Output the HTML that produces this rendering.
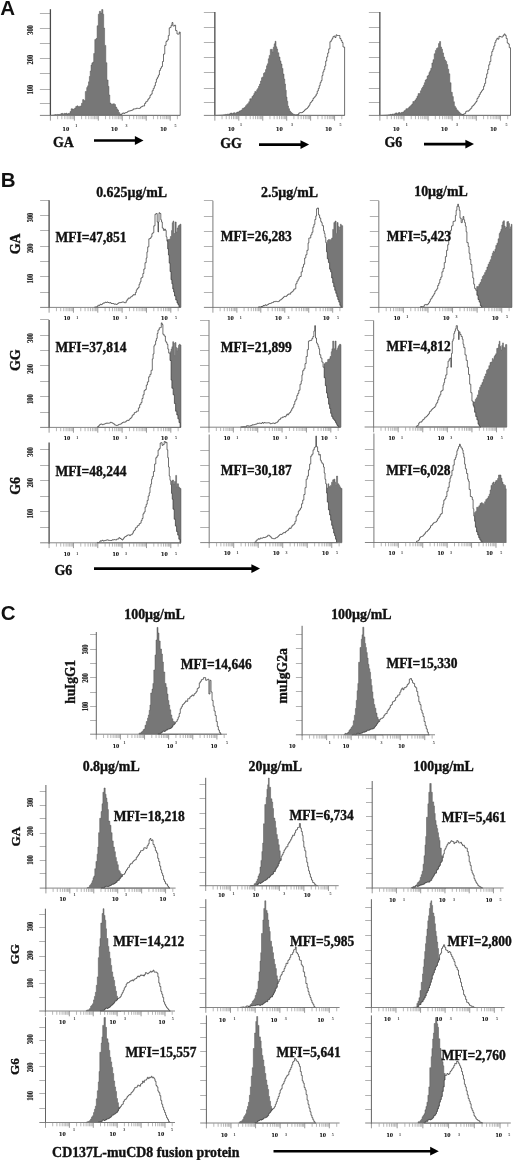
<!DOCTYPE html>
<html><head><meta charset="utf-8"><style>
html,body{margin:0;padding:0;background:#fff;}
svg{display:block;}
text{font-family:"Liberation Serif",serif;font-weight:bold;fill:#111;}
.big,.lb,.hd{stroke:#111;stroke-width:0.35px;}
.xl{font-size:6.6px;text-anchor:middle;fill:#111;stroke:#111;stroke-width:0.12px;}
.xs{font-size:4px;text-anchor:middle;fill:#333;}
.yl{font-size:6.4px;text-anchor:middle;fill:#222;stroke:#222;stroke-width:0.15px;}
.big{font-size:13.5px;}
.lb{font-size:13.9px;}
.hd{font-size:13.9px;text-anchor:middle;}
.lt{font-family:"Liberation Sans",sans-serif;font-size:20.5px;}
</style></head><body>
<svg width="520" height="1160" viewBox="0 0 520 1160">
<path d="M119,115.4 L119,115.01 L119.97,115.01 L119.97,115.08 L120.94,115.08 L120.94,114.72 L121.91,114.72 L121.91,113.36 L122.89,113.36 L122.89,112.98 L123.86,112.98 L123.86,113.5 L124.83,113.5 L124.83,112.7 L125.8,112.7 L125.8,112.59 L126.85,112.59 L126.85,112.08 L127.9,112.08 L127.9,111.15 L128.95,111.15 L128.95,111 L130,111 L130,110.78 L131.08,110.78 L131.08,110.4 L132.17,110.4 L132.17,109.98 L133.25,109.98 L133.25,108.92 L134.33,108.92 L134.33,108.97 L135.42,108.97 L135.42,108.7 L136.5,108.7 L136.5,108.18 L137.51,108.18 L137.51,108.4 L138.53,108.4 L138.53,108.54 L139.54,108.54 L139.54,108.14 L140.55,108.14 L140.55,107.09 L141.56,107.09 L141.56,106.58 L142.57,106.58 L142.58,105.92 L143.59,105.92 L143.59,106 L144.6,106 L144.6,103.5 L145.68,103.5 L145.68,101.84 L146.76,101.84 L146.76,101.13 L147.84,101.13 L147.84,99.2 L148.92,99.2 L148.92,98 L150,98 L150,95.27 L151.08,95.27 L151.08,94.09 L152.16,94.09 L152.16,90.75 L153.24,90.75 L153.24,88.4 L154.32,88.4 L154.32,85.8 L155.4,85.8 L155.4,82.35 L156.4,82.35 L156.4,79 L157.4,79 L157.4,77.17 L158.4,77.17 L158.4,75 L159.4,75 L159.4,70.46 L160.43,70.46 L160.42,68.28 L161.45,68.28 L161.45,66.57 L162.47,66.57 L162.47,61.5 L163.5,61.5 L163.5,54.1 L164.75,54.1 L164.75,45.4 L166,45.4 L166,41.44 L167.15,41.44 L167.15,40 L168.3,40 L168.3,35.58 L169.25,35.58 L169.25,27.9 L170.2,27.9 L170.2,27.38 L171.1,27.38 L171.1,25.32 L172,25.32 L172,22.5 L172.9,22.5 L172.9,26.02 L173.7,26.02 L173.7,26 L174.5,26 L174.5,25.2 L175.6,25.2 L175.6,30.6 L177,30.6 L177,34 L178.3,34 L178.3,34.1 L179.25,34.1 L179.25,32 L180.2,32 L180.2,115.4 L180.2,115.4 L119,115.4 Z" fill="#fff" stroke="#333" stroke-width="0.7"/>
<path d="M50.4,115.4 L50.4,115.29 L51.36,115.29 L51.36,115.18 L52.33,115.18 L52.33,115.07 L53.29,115.07 L53.29,114.96 L54.25,114.96 L54.25,114.85 L55.22,114.85 L55.22,114.51 L56.18,114.51 L56.18,114.68 L57.15,114.68 L57.15,114.41 L58.11,114.41 L58.11,114.52 L59.07,114.52 L59.07,114.43 L60.04,114.43 L60.04,114.2 L61,114.2 L61,113.62 L62,113.62 L62,113.42 L63,113.42 L63,114.14 L64,114.14 L64,113.38 L65,113.38 L65,113.5 L66,113.5 L66,113.21 L67,113.21 L67,114.04 L68,114.04 L68,113.47 L69,113.47 L69,113.5 L70,113.5 L70,111.6 L71.15,111.6 L71.15,108.8 L72.3,108.8 L72.3,109.01 L73.45,109.01 L73.45,109.3 L74.6,109.3 L74.6,108.12 L75.75,108.12 L75.75,106.5 L76.9,106.5 L76.9,105.82 L77.82,105.82 L77.82,106.53 L78.74,106.53 L78.74,106.82 L79.66,106.82 L79.66,106.14 L80.58,106.14 L80.58,106 L81.5,106 L81.5,103.25 L82.65,103.25 L82.65,99.6 L83.8,99.6 L83.8,100.54 L84.55,100.54 L84.55,100.8 L85.3,100.8 L85.3,91.5 L86.7,91.5 L86.7,87.58 L87.6,87.58 L87.6,85.8 L88.5,85.8 L88.5,81.85 L89.35,81.85 L89.35,76.5 L90.2,76.5 L90.2,71.02 L91.05,71.02 L91.05,65 L91.9,65 L91.9,62.92 L92.8,62.92 L92.8,62.1 L93.7,62.1 L93.7,53.5 L94.8,53.5 L94.8,39.6 L96,39.6 L96,38.5 L97.1,38.5 L97.1,25.8 L98.3,25.8 L98.3,14.2 L99.4,14.2 L99.4,11.3 L100.6,11.3 L100.6,13.1 L101.7,13.1 L101.7,9.6 L102.9,9.6 L102.9,14.2 L103.7,14.2 L103.7,28.1 L104.6,28.1 L104.6,45.4 L105.8,45.4 L105.8,62.7 L106.9,62.7 L106.9,80 L108.1,80 L108.1,86.33 L108.95,86.33 L108.95,95 L109.8,95 L109.8,103.1 L111,103.1 L111,104.32 L111.85,104.32 L111.85,104.2 L112.7,104.2 L112.7,103.9 L113.55,103.9 L113.55,103.7 L114.4,103.7 L114.4,104.5 L115.5,104.5 L115.5,107.1 L116.7,107.1 L116.7,108.89 L117.6,108.89 L117.6,110 L118.5,110 L118.5,112.48 L119.65,112.48 L119.65,114 L120.8,114 L120.8,115.4 L122,115.4 L122,115.4 L50.4,115.4 Z" fill="#777777" stroke="#555" stroke-width="0.5"/>
<line x1="39.9" y1="13.5" x2="50.4" y2="13.5" stroke="#a8a8a8" stroke-width="0.9"/>
<line x1="39.9" y1="28.5" x2="50.4" y2="28.5" stroke="#a8a8a8" stroke-width="0.9"/>
<line x1="39.9" y1="43.5" x2="50.4" y2="43.5" stroke="#a8a8a8" stroke-width="0.9"/>
<line x1="39.9" y1="58.5" x2="50.4" y2="58.5" stroke="#a8a8a8" stroke-width="0.9"/>
<line x1="39.9" y1="73.5" x2="50.4" y2="73.5" stroke="#a8a8a8" stroke-width="0.9"/>
<line x1="39.9" y1="89.5" x2="50.4" y2="89.5" stroke="#a8a8a8" stroke-width="0.9"/>
<line x1="39.9" y1="103.5" x2="50.4" y2="103.5" stroke="#a8a8a8" stroke-width="0.9"/>
<line x1="50.4" y1="115.4" x2="50.4" y2="120.7" stroke="#777" stroke-width="0.75"/>
<line x1="74.36" y1="115.4" x2="74.36" y2="120.7" stroke="#777" stroke-width="0.75"/>
<line x1="98.31" y1="115.4" x2="98.31" y2="120.7" stroke="#777" stroke-width="0.75"/>
<line x1="122.27" y1="115.4" x2="122.27" y2="120.7" stroke="#777" stroke-width="0.75"/>
<line x1="146.23" y1="115.4" x2="146.23" y2="120.7" stroke="#777" stroke-width="0.75"/>
<line x1="170.19" y1="115.4" x2="170.19" y2="120.7" stroke="#777" stroke-width="0.75"/>
<line x1="57.61" y1="115.8" x2="57.61" y2="119.2" stroke="#888" stroke-width="0.6"/>
<line x1="61.83" y1="115.8" x2="61.83" y2="119.2" stroke="#888" stroke-width="0.6"/>
<line x1="64.82" y1="115.8" x2="64.82" y2="119.2" stroke="#888" stroke-width="0.6"/>
<line x1="67.15" y1="115.8" x2="67.15" y2="119.2" stroke="#888" stroke-width="0.6"/>
<line x1="69.04" y1="115.8" x2="69.04" y2="119.2" stroke="#888" stroke-width="0.6"/>
<line x1="70.65" y1="115.8" x2="70.65" y2="119.2" stroke="#888" stroke-width="0.6"/>
<line x1="72.04" y1="115.8" x2="72.04" y2="119.2" stroke="#888" stroke-width="0.6"/>
<line x1="73.26" y1="115.8" x2="73.26" y2="119.2" stroke="#888" stroke-width="0.6"/>
<line x1="81.57" y1="115.8" x2="81.57" y2="119.2" stroke="#888" stroke-width="0.6"/>
<line x1="85.79" y1="115.8" x2="85.79" y2="119.2" stroke="#888" stroke-width="0.6"/>
<line x1="88.78" y1="115.8" x2="88.78" y2="119.2" stroke="#888" stroke-width="0.6"/>
<line x1="91.1" y1="115.8" x2="91.1" y2="119.2" stroke="#888" stroke-width="0.6"/>
<line x1="93" y1="115.8" x2="93" y2="119.2" stroke="#888" stroke-width="0.6"/>
<line x1="94.6" y1="115.8" x2="94.6" y2="119.2" stroke="#888" stroke-width="0.6"/>
<line x1="95.99" y1="115.8" x2="95.99" y2="119.2" stroke="#888" stroke-width="0.6"/>
<line x1="97.22" y1="115.8" x2="97.22" y2="119.2" stroke="#888" stroke-width="0.6"/>
<line x1="105.53" y1="115.8" x2="105.53" y2="119.2" stroke="#888" stroke-width="0.6"/>
<line x1="109.74" y1="115.8" x2="109.74" y2="119.2" stroke="#888" stroke-width="0.6"/>
<line x1="112.74" y1="115.8" x2="112.74" y2="119.2" stroke="#888" stroke-width="0.6"/>
<line x1="115.06" y1="115.8" x2="115.06" y2="119.2" stroke="#888" stroke-width="0.6"/>
<line x1="116.96" y1="115.8" x2="116.96" y2="119.2" stroke="#888" stroke-width="0.6"/>
<line x1="118.56" y1="115.8" x2="118.56" y2="119.2" stroke="#888" stroke-width="0.6"/>
<line x1="119.95" y1="115.8" x2="119.95" y2="119.2" stroke="#888" stroke-width="0.6"/>
<line x1="121.18" y1="115.8" x2="121.18" y2="119.2" stroke="#888" stroke-width="0.6"/>
<line x1="129.48" y1="115.8" x2="129.48" y2="119.2" stroke="#888" stroke-width="0.6"/>
<line x1="133.7" y1="115.8" x2="133.7" y2="119.2" stroke="#888" stroke-width="0.6"/>
<line x1="136.7" y1="115.8" x2="136.7" y2="119.2" stroke="#888" stroke-width="0.6"/>
<line x1="139.02" y1="115.8" x2="139.02" y2="119.2" stroke="#888" stroke-width="0.6"/>
<line x1="140.91" y1="115.8" x2="140.91" y2="119.2" stroke="#888" stroke-width="0.6"/>
<line x1="142.52" y1="115.8" x2="142.52" y2="119.2" stroke="#888" stroke-width="0.6"/>
<line x1="143.91" y1="115.8" x2="143.91" y2="119.2" stroke="#888" stroke-width="0.6"/>
<line x1="145.13" y1="115.8" x2="145.13" y2="119.2" stroke="#888" stroke-width="0.6"/>
<line x1="153.44" y1="115.8" x2="153.44" y2="119.2" stroke="#888" stroke-width="0.6"/>
<line x1="157.66" y1="115.8" x2="157.66" y2="119.2" stroke="#888" stroke-width="0.6"/>
<line x1="160.65" y1="115.8" x2="160.65" y2="119.2" stroke="#888" stroke-width="0.6"/>
<line x1="162.97" y1="115.8" x2="162.97" y2="119.2" stroke="#888" stroke-width="0.6"/>
<line x1="164.87" y1="115.8" x2="164.87" y2="119.2" stroke="#888" stroke-width="0.6"/>
<line x1="166.47" y1="115.8" x2="166.47" y2="119.2" stroke="#888" stroke-width="0.6"/>
<line x1="167.86" y1="115.8" x2="167.86" y2="119.2" stroke="#888" stroke-width="0.6"/>
<line x1="169.09" y1="115.8" x2="169.09" y2="119.2" stroke="#888" stroke-width="0.6"/>
<line x1="177.4" y1="115.8" x2="177.4" y2="119.2" stroke="#888" stroke-width="0.6"/>
<line x1="50.4" y1="9.2" x2="50.4" y2="116" stroke="#4a4a4a" stroke-width="1.3"/>
<line x1="39.9" y1="115.4" x2="180.2" y2="115.4" stroke="#777" stroke-width="0.9"/>
<text transform="translate(65.9,131) scale(1,1.0)" class="xl">10</text>
<text transform="translate(76.2,126.5) scale(1,1.15)" class="xs">1</text>
<text transform="translate(114.4,131) scale(1,1.0)" class="xl">10</text>
<text transform="translate(126.5,126.5) scale(1,1.15)" class="xs">3</text>
<text transform="translate(163.5,131) scale(1,1.0)" class="xl">10</text>
<text transform="translate(175.6,126.5) scale(1,1.15)" class="xs">5</text>
<text transform="translate(33,30) rotate(-90) scale(1,1.22)" class="yl">300</text>
<text transform="translate(33,59.6) rotate(-90) scale(1,1.22)" class="yl">200</text>
<text transform="translate(33,89.6) rotate(-90) scale(1,1.22)" class="yl">100</text>
<path d="M295.5,115.4 L295.5,114.95 L296.58,114.95 L296.58,114.96 L297.67,114.96 L297.67,114.54 L298.75,114.54 L298.75,113.08 L299.83,113.08 L299.83,112.64 L300.92,112.64 L300.92,112.7 L302,112.7 L302,112.38 L303,112.38 L303,111.48 L304,111.48 L304,110.61 L305,110.61 L305,109.26 L306,109.26 L306,108.96 L307,108.96 L307,108 L308,108 L308,106.69 L309,106.69 L309,105.15 L310,105.15 L310,102.82 L311,102.82 L311,101.86 L312,101.86 L312,100.5 L313,100.5 L313,98.36 L314.06,98.36 L314.06,97.22 L315.12,97.22 L315.12,95.99 L316.18,95.99 L316.18,94.02 L317.24,94.02 L317.24,91 L318.3,91 L318.3,88.54 L319.23,88.54 L319.22,85.7 L320.15,85.7 L320.15,82.62 L321.07,82.62 L321.07,80.7 L322,80.7 L322,75.61 L322.93,75.61 L322.93,71.86 L323.85,71.86 L323.85,69.56 L324.77,69.56 L324.77,66 L325.7,66 L325.7,61.03 L326.7,61.03 L326.7,56.9 L327.7,56.9 L327.7,53 L328.7,53 L328.7,48.86 L329.95,48.86 L329.95,41.7 L331.2,41.7 L331.2,40.14 L332.07,40.14 L332.07,38.61 L332.93,38.61 L332.93,36.7 L333.8,36.7 L333.8,36.02 L334.9,36.02 L334.9,37.5 L336,37.5 L336,34.89 L336.9,34.89 L336.9,35.45 L337.8,35.45 L337.8,35.5 L338.7,35.5 L338.7,35.52 L339.85,35.52 L339.85,38.5 L341,38.5 L341,40.54 L342,40.54 L342,42.5 L343,42.5 L343,47 L344.3,47 L344.3,47 L344.6,47 L344.6,115.4 L344.6,115.4 L295.5,115.4 Z" fill="#fff" stroke="#333" stroke-width="0.7"/>
<path d="M215.4,115.4 L215.4,115.34 L216.36,115.34 L216.36,115.28 L217.32,115.28 L217.32,115.22 L218.28,115.22 L218.28,115.16 L219.24,115.16 L219.24,115.1 L220.2,115.1 L220.2,115.04 L221.16,115.04 L221.16,114.98 L222.12,114.98 L222.12,114.92 L223.08,114.92 L223.08,114.86 L224.04,114.86 L224.04,114.8 L225,114.8 L225,114.39 L225.99,114.39 L225.99,114.49 L226.98,114.49 L226.98,114.15 L227.97,114.15 L227.97,114.2 L228.97,114.2 L228.97,114.06 L229.96,114.06 L229.96,113.29 L230.95,113.29 L230.95,113.05 L231.94,113.05 L231.94,113.77 L232.93,113.77 L232.93,112.95 L233.93,112.95 L233.93,112.74 L234.92,112.74 L234.92,113.45 L235.91,113.45 L235.91,112.7 L236.9,112.7 L236.9,112.12 L237.98,112.12 L237.98,112.06 L239.06,112.06 L239.06,111.05 L240.14,111.05 L240.14,110.73 L241.22,110.73 L241.22,110 L242.3,110 L242.3,108.39 L243.38,108.39 L243.38,108.05 L244.46,108.05 L244.46,107.37 L245.54,107.37 L245.54,105.72 L246.62,105.72 L246.62,104.6 L247.7,104.6 L247.7,103.43 L248.76,103.43 L248.76,101.69 L249.82,101.69 L249.82,98.86 L250.88,98.86 L250.88,98.66 L251.94,98.66 L251.94,96.5 L253,96.5 L253,95.37 L253.92,95.37 L253.92,93.38 L254.83,93.38 L254.83,91.42 L255.75,91.42 L255.75,92.03 L256.67,92.03 L256.67,89.77 L257.58,89.77 L257.58,88.5 L258.5,88.5 L258.5,86.36 L259.5,86.36 L259.5,84.1 L260.5,84.1 L260.5,80.98 L261.5,80.98 L261.5,77.7 L262.5,77.7 L262.5,76.88 L263.5,76.88 L263.5,73.34 L264.5,73.34 L264.5,72.52 L265.5,72.52 L265.5,69.6 L266.5,69.6 L266.5,65.83 L267.4,65.83 L267.4,63.8 L268.3,63.8 L268.3,58.8 L269.2,58.8 L269.2,55.39 L270.3,55.39 L270.3,49.4 L271.4,49.4 L271.4,49.3 L272.35,49.3 L272.35,52 L273.3,52 L273.3,47.15 L274.2,47.15 L274.2,43.85 L275.1,43.85 L275.1,41.3 L276,41.3 L276,46.83 L276.8,46.83 L276.8,49 L277.6,49 L277.6,52.78 L278.8,52.78 L278.8,57 L280,57 L280,60.91 L281,60.91 L281,64 L282,64 L282,68.4 L283,68.4 L283,74 L284,74 L284,79.02 L284.75,79.02 L284.75,84 L285.5,84 L285.5,90.23 L286.25,90.23 L286.25,97 L287,97 L287,101.21 L287.75,101.21 L287.75,106 L288.5,106 L288.5,108.63 L289.5,108.63 L289.5,111 L290.5,111 L290.5,112.35 L291.75,112.35 L291.75,113.5 L293,113.5 L293,114.3 L294,114.3 L294,114.43 L295,114.43 L295,115.02 L296,115.02 L296,115 L297,115 L297,115.2 L298,115.2 L298,115.4 L299,115.4 L299,115.4 L215.4,115.4 Z" fill="#777777" stroke="#555" stroke-width="0.5"/>
<line x1="203.85" y1="12.5" x2="214.85" y2="12.5" stroke="#a8a8a8" stroke-width="0.9"/>
<line x1="203.85" y1="27.5" x2="214.85" y2="27.5" stroke="#a8a8a8" stroke-width="0.9"/>
<line x1="203.85" y1="42.5" x2="214.85" y2="42.5" stroke="#a8a8a8" stroke-width="0.9"/>
<line x1="203.85" y1="57.5" x2="214.85" y2="57.5" stroke="#a8a8a8" stroke-width="0.9"/>
<line x1="203.85" y1="72.5" x2="214.85" y2="72.5" stroke="#a8a8a8" stroke-width="0.9"/>
<line x1="203.85" y1="88.5" x2="214.85" y2="88.5" stroke="#a8a8a8" stroke-width="0.9"/>
<line x1="203.85" y1="102.5" x2="214.85" y2="102.5" stroke="#a8a8a8" stroke-width="0.9"/>
<line x1="214.85" y1="115.4" x2="214.85" y2="120.7" stroke="#777" stroke-width="0.75"/>
<line x1="238.8" y1="115.4" x2="238.8" y2="120.7" stroke="#777" stroke-width="0.75"/>
<line x1="262.75" y1="115.4" x2="262.75" y2="120.7" stroke="#777" stroke-width="0.75"/>
<line x1="286.69" y1="115.4" x2="286.69" y2="120.7" stroke="#777" stroke-width="0.75"/>
<line x1="310.64" y1="115.4" x2="310.64" y2="120.7" stroke="#777" stroke-width="0.75"/>
<line x1="334.59" y1="115.4" x2="334.59" y2="120.7" stroke="#777" stroke-width="0.75"/>
<line x1="222.06" y1="115.8" x2="222.06" y2="119.2" stroke="#888" stroke-width="0.6"/>
<line x1="226.28" y1="115.8" x2="226.28" y2="119.2" stroke="#888" stroke-width="0.6"/>
<line x1="229.27" y1="115.8" x2="229.27" y2="119.2" stroke="#888" stroke-width="0.6"/>
<line x1="231.59" y1="115.8" x2="231.59" y2="119.2" stroke="#888" stroke-width="0.6"/>
<line x1="233.49" y1="115.8" x2="233.49" y2="119.2" stroke="#888" stroke-width="0.6"/>
<line x1="235.09" y1="115.8" x2="235.09" y2="119.2" stroke="#888" stroke-width="0.6"/>
<line x1="236.48" y1="115.8" x2="236.48" y2="119.2" stroke="#888" stroke-width="0.6"/>
<line x1="237.7" y1="115.8" x2="237.7" y2="119.2" stroke="#888" stroke-width="0.6"/>
<line x1="246.01" y1="115.8" x2="246.01" y2="119.2" stroke="#888" stroke-width="0.6"/>
<line x1="250.22" y1="115.8" x2="250.22" y2="119.2" stroke="#888" stroke-width="0.6"/>
<line x1="253.22" y1="115.8" x2="253.22" y2="119.2" stroke="#888" stroke-width="0.6"/>
<line x1="255.54" y1="115.8" x2="255.54" y2="119.2" stroke="#888" stroke-width="0.6"/>
<line x1="257.43" y1="115.8" x2="257.43" y2="119.2" stroke="#888" stroke-width="0.6"/>
<line x1="259.04" y1="115.8" x2="259.04" y2="119.2" stroke="#888" stroke-width="0.6"/>
<line x1="260.43" y1="115.8" x2="260.43" y2="119.2" stroke="#888" stroke-width="0.6"/>
<line x1="261.65" y1="115.8" x2="261.65" y2="119.2" stroke="#888" stroke-width="0.6"/>
<line x1="269.95" y1="115.8" x2="269.95" y2="119.2" stroke="#888" stroke-width="0.6"/>
<line x1="274.17" y1="115.8" x2="274.17" y2="119.2" stroke="#888" stroke-width="0.6"/>
<line x1="277.16" y1="115.8" x2="277.16" y2="119.2" stroke="#888" stroke-width="0.6"/>
<line x1="279.48" y1="115.8" x2="279.48" y2="119.2" stroke="#888" stroke-width="0.6"/>
<line x1="281.38" y1="115.8" x2="281.38" y2="119.2" stroke="#888" stroke-width="0.6"/>
<line x1="282.98" y1="115.8" x2="282.98" y2="119.2" stroke="#888" stroke-width="0.6"/>
<line x1="284.37" y1="115.8" x2="284.37" y2="119.2" stroke="#888" stroke-width="0.6"/>
<line x1="285.6" y1="115.8" x2="285.6" y2="119.2" stroke="#888" stroke-width="0.6"/>
<line x1="293.9" y1="115.8" x2="293.9" y2="119.2" stroke="#888" stroke-width="0.6"/>
<line x1="298.12" y1="115.8" x2="298.12" y2="119.2" stroke="#888" stroke-width="0.6"/>
<line x1="301.11" y1="115.8" x2="301.11" y2="119.2" stroke="#888" stroke-width="0.6"/>
<line x1="303.43" y1="115.8" x2="303.43" y2="119.2" stroke="#888" stroke-width="0.6"/>
<line x1="305.33" y1="115.8" x2="305.33" y2="119.2" stroke="#888" stroke-width="0.6"/>
<line x1="306.93" y1="115.8" x2="306.93" y2="119.2" stroke="#888" stroke-width="0.6"/>
<line x1="308.32" y1="115.8" x2="308.32" y2="119.2" stroke="#888" stroke-width="0.6"/>
<line x1="309.55" y1="115.8" x2="309.55" y2="119.2" stroke="#888" stroke-width="0.6"/>
<line x1="317.85" y1="115.8" x2="317.85" y2="119.2" stroke="#888" stroke-width="0.6"/>
<line x1="322.07" y1="115.8" x2="322.07" y2="119.2" stroke="#888" stroke-width="0.6"/>
<line x1="325.06" y1="115.8" x2="325.06" y2="119.2" stroke="#888" stroke-width="0.6"/>
<line x1="327.38" y1="115.8" x2="327.38" y2="119.2" stroke="#888" stroke-width="0.6"/>
<line x1="329.28" y1="115.8" x2="329.28" y2="119.2" stroke="#888" stroke-width="0.6"/>
<line x1="330.88" y1="115.8" x2="330.88" y2="119.2" stroke="#888" stroke-width="0.6"/>
<line x1="332.27" y1="115.8" x2="332.27" y2="119.2" stroke="#888" stroke-width="0.6"/>
<line x1="333.49" y1="115.8" x2="333.49" y2="119.2" stroke="#888" stroke-width="0.6"/>
<line x1="341.8" y1="115.8" x2="341.8" y2="119.2" stroke="#888" stroke-width="0.6"/>
<line x1="214.85" y1="12" x2="214.85" y2="116" stroke="#4a4a4a" stroke-width="1.3"/>
<line x1="203.85" y1="115.4" x2="344.6" y2="115.4" stroke="#777" stroke-width="0.9"/>
<text transform="translate(231.2,130.6) scale(1,1.0)" class="xl">10</text>
<text transform="translate(241,126.1) scale(1,1.15)" class="xs">1</text>
<text transform="translate(279.4,130.6) scale(1,1.0)" class="xl">10</text>
<text transform="translate(292,126.1) scale(1,1.15)" class="xs">3</text>
<text transform="translate(328.5,130.6) scale(1,1.0)" class="xl">10</text>
<text transform="translate(340.6,126.1) scale(1,1.15)" class="xs">5</text>
<path d="M462,115.4 L462,114.87 L462.87,114.87 L462.87,114.81 L463.73,114.81 L463.73,113.8 L464.6,113.8 L464.6,113.59 L465.63,113.59 L465.63,111.67 L466.67,111.67 L466.67,110.91 L467.7,110.91 L467.7,111.23 L468.73,111.23 L468.73,110.33 L469.77,110.33 L469.77,109.2 L470.8,109.2 L470.8,108.21 L471.83,108.21 L471.83,106.29 L472.87,106.29 L472.87,105.55 L473.9,105.55 L473.9,104.28 L474.93,104.28 L474.93,102.95 L475.97,102.95 L475.97,101.5 L477,101.5 L477,98.45 L478.12,98.45 L478.12,96.74 L479.25,96.74 L479.25,94.34 L480.38,94.34 L480.38,92.3 L481.5,92.3 L481.5,90.84 L482.53,90.84 L482.53,89.55 L483.57,89.55 L483.57,86.2 L484.6,86.2 L484.6,83.36 L485.63,83.36 L485.63,78.07 L486.67,78.07 L486.67,73.8 L487.7,73.8 L487.7,69.52 L488.73,69.52 L488.73,64.82 L489.77,64.82 L489.77,61.5 L490.8,61.5 L490.8,55.73 L491.8,55.73 L491.8,51.55 L492.8,51.55 L492.8,49.2 L493.8,49.2 L493.8,46 L494.83,46 L494.83,42.35 L495.87,42.35 L495.87,40 L496.9,40 L496.9,38.28 L497.93,38.28 L497.93,39.13 L498.97,39.13 L498.97,36.3 L500,36.3 L500,36.64 L501,36.64 L501,37.01 L502,37.01 L502,37 L503,37 L503,35.39 L504.07,35.39 L504.07,33.98 L505.13,33.98 L505.13,35.4 L506.2,35.4 L506.2,38.49 L507.25,38.49 L507.25,43 L508.3,43 L508.3,43.94 L509.25,43.94 L509.25,47.7 L510.2,47.7 L510.2,47.7 L510.5,47.7 L510.5,115.4 L510.5,115.4 L462,115.4 Z" fill="#fff" stroke="#333" stroke-width="0.7"/>
<path d="M380.4,115.4 L380.4,115.34 L381.36,115.34 L381.36,115.28 L382.32,115.28 L382.32,115.22 L383.28,115.22 L383.28,115.16 L384.24,115.16 L384.24,115.1 L385.2,115.1 L385.2,115.04 L386.16,115.04 L386.16,114.98 L387.12,114.98 L387.12,114.92 L388.08,114.92 L388.08,114.86 L389.04,114.86 L389.04,114.8 L390,114.8 L390,114.37 L391,114.37 L391,114.46 L392,114.46 L392,114.09 L393,114.09 L393,114.14 L394,114.14 L394,113.97 L395,113.97 L395,113.18 L396,113.18 L396,112.92 L397,112.92 L397,113.64 L398,113.64 L398,112.79 L399,112.79 L399,112.57 L400,112.57 L400,113.27 L401,113.27 L401,112.46 L402,112.46 L402,112.3 L403,112.3 L403,111.98 L403.98,111.98 L403.97,110.74 L404.95,110.74 L404.95,110.21 L405.93,110.21 L405.92,108.73 L406.9,108.73 L406.9,108.7 L407.88,108.7 L407.88,108.31 L408.85,108.31 L408.85,107 L409.82,107 L409.82,106.2 L410.8,106.2 L410.8,105.34 L411.83,105.34 L411.83,103.95 L412.87,103.95 L412.87,101.52 L413.9,101.52 L413.9,101.57 L414.93,101.57 L414.93,99.97 L415.97,99.97 L415.97,98.5 L417,98.5 L417,96.15 L418.12,96.15 L418.12,93.6 L419.25,93.6 L419.25,93.57 L420.38,93.57 L420.38,90.8 L421.5,90.8 L421.5,88.57 L422.44,88.57 L422.44,87.03 L423.38,87.03 L423.38,85.3 L424.32,85.3 L424.32,82.73 L425.26,82.73 L425.26,80 L426.2,80 L426.2,79.33 L427.12,79.33 L427.12,76.02 L428.04,76.02 L428.04,75.35 L428.96,75.35 L428.96,72.48 L429.88,72.48 L429.88,70.8 L430.8,70.8 L430.8,68.25 L431.9,68.25 L431.9,63 L433,63 L433,59.65 L434.2,59.65 L434.2,53.8 L435.4,53.8 L435.4,50.38 L436.43,50.38 L436.43,48.46 L437.47,48.46 L437.47,47.7 L438.5,47.7 L438.5,43.58 L439.55,43.58 L439.55,41.5 L440.6,41.5 L440.6,47.02 L441.55,47.02 L441.55,49.2 L442.5,49.2 L442.5,52.88 L443.55,52.88 L443.55,57 L444.6,57 L444.6,59.95 L445.63,59.95 L445.63,61.43 L446.67,61.43 L446.67,64.6 L447.7,64.6 L447.7,69.22 L448.75,69.22 L448.75,73.8 L449.8,73.8 L449.8,82.75 L451.05,82.75 L451.05,92.3 L452.3,92.3 L452.3,96.61 L453.33,96.61 L453.33,101.73 L454.37,101.73 L454.37,106.2 L455.4,106.2 L455.4,107.87 L456.43,107.87 L456.43,109.87 L457.47,109.87 L457.47,110.8 L458.5,110.8 L458.5,111.96 L459.62,111.96 L459.62,113.16 L460.75,113.16 L460.75,113.96 L461.88,113.96 L461.88,114.5 L463,114.5 L463,114.95 L464,114.95 L464,115.4 L465,115.4 L465,115.4 L380.4,115.4 Z" fill="#777777" stroke="#555" stroke-width="0.5"/>
<line x1="368.85" y1="12.5" x2="379.85" y2="12.5" stroke="#a8a8a8" stroke-width="0.9"/>
<line x1="368.85" y1="27.5" x2="379.85" y2="27.5" stroke="#a8a8a8" stroke-width="0.9"/>
<line x1="368.85" y1="42.5" x2="379.85" y2="42.5" stroke="#a8a8a8" stroke-width="0.9"/>
<line x1="368.85" y1="57.5" x2="379.85" y2="57.5" stroke="#a8a8a8" stroke-width="0.9"/>
<line x1="368.85" y1="72.5" x2="379.85" y2="72.5" stroke="#a8a8a8" stroke-width="0.9"/>
<line x1="368.85" y1="88.5" x2="379.85" y2="88.5" stroke="#a8a8a8" stroke-width="0.9"/>
<line x1="368.85" y1="102.5" x2="379.85" y2="102.5" stroke="#a8a8a8" stroke-width="0.9"/>
<line x1="379.85" y1="115.4" x2="379.85" y2="120.7" stroke="#777" stroke-width="0.75"/>
<line x1="403.96" y1="115.4" x2="403.96" y2="120.7" stroke="#777" stroke-width="0.75"/>
<line x1="428.08" y1="115.4" x2="428.08" y2="120.7" stroke="#777" stroke-width="0.75"/>
<line x1="452.19" y1="115.4" x2="452.19" y2="120.7" stroke="#777" stroke-width="0.75"/>
<line x1="476.31" y1="115.4" x2="476.31" y2="120.7" stroke="#777" stroke-width="0.75"/>
<line x1="500.42" y1="115.4" x2="500.42" y2="120.7" stroke="#777" stroke-width="0.75"/>
<line x1="387.11" y1="115.8" x2="387.11" y2="119.2" stroke="#888" stroke-width="0.6"/>
<line x1="391.36" y1="115.8" x2="391.36" y2="119.2" stroke="#888" stroke-width="0.6"/>
<line x1="394.37" y1="115.8" x2="394.37" y2="119.2" stroke="#888" stroke-width="0.6"/>
<line x1="396.71" y1="115.8" x2="396.71" y2="119.2" stroke="#888" stroke-width="0.6"/>
<line x1="398.61" y1="115.8" x2="398.61" y2="119.2" stroke="#888" stroke-width="0.6"/>
<line x1="400.23" y1="115.8" x2="400.23" y2="119.2" stroke="#888" stroke-width="0.6"/>
<line x1="401.63" y1="115.8" x2="401.63" y2="119.2" stroke="#888" stroke-width="0.6"/>
<line x1="402.86" y1="115.8" x2="402.86" y2="119.2" stroke="#888" stroke-width="0.6"/>
<line x1="411.22" y1="115.8" x2="411.22" y2="119.2" stroke="#888" stroke-width="0.6"/>
<line x1="415.47" y1="115.8" x2="415.47" y2="119.2" stroke="#888" stroke-width="0.6"/>
<line x1="418.48" y1="115.8" x2="418.48" y2="119.2" stroke="#888" stroke-width="0.6"/>
<line x1="420.82" y1="115.8" x2="420.82" y2="119.2" stroke="#888" stroke-width="0.6"/>
<line x1="422.73" y1="115.8" x2="422.73" y2="119.2" stroke="#888" stroke-width="0.6"/>
<line x1="424.34" y1="115.8" x2="424.34" y2="119.2" stroke="#888" stroke-width="0.6"/>
<line x1="425.74" y1="115.8" x2="425.74" y2="119.2" stroke="#888" stroke-width="0.6"/>
<line x1="426.97" y1="115.8" x2="426.97" y2="119.2" stroke="#888" stroke-width="0.6"/>
<line x1="435.34" y1="115.8" x2="435.34" y2="119.2" stroke="#888" stroke-width="0.6"/>
<line x1="439.58" y1="115.8" x2="439.58" y2="119.2" stroke="#888" stroke-width="0.6"/>
<line x1="442.6" y1="115.8" x2="442.6" y2="119.2" stroke="#888" stroke-width="0.6"/>
<line x1="444.93" y1="115.8" x2="444.93" y2="119.2" stroke="#888" stroke-width="0.6"/>
<line x1="446.84" y1="115.8" x2="446.84" y2="119.2" stroke="#888" stroke-width="0.6"/>
<line x1="448.46" y1="115.8" x2="448.46" y2="119.2" stroke="#888" stroke-width="0.6"/>
<line x1="449.86" y1="115.8" x2="449.86" y2="119.2" stroke="#888" stroke-width="0.6"/>
<line x1="451.09" y1="115.8" x2="451.09" y2="119.2" stroke="#888" stroke-width="0.6"/>
<line x1="459.45" y1="115.8" x2="459.45" y2="119.2" stroke="#888" stroke-width="0.6"/>
<line x1="463.7" y1="115.8" x2="463.7" y2="119.2" stroke="#888" stroke-width="0.6"/>
<line x1="466.71" y1="115.8" x2="466.71" y2="119.2" stroke="#888" stroke-width="0.6"/>
<line x1="469.05" y1="115.8" x2="469.05" y2="119.2" stroke="#888" stroke-width="0.6"/>
<line x1="470.96" y1="115.8" x2="470.96" y2="119.2" stroke="#888" stroke-width="0.6"/>
<line x1="472.57" y1="115.8" x2="472.57" y2="119.2" stroke="#888" stroke-width="0.6"/>
<line x1="473.97" y1="115.8" x2="473.97" y2="119.2" stroke="#888" stroke-width="0.6"/>
<line x1="475.2" y1="115.8" x2="475.2" y2="119.2" stroke="#888" stroke-width="0.6"/>
<line x1="483.57" y1="115.8" x2="483.57" y2="119.2" stroke="#888" stroke-width="0.6"/>
<line x1="487.81" y1="115.8" x2="487.81" y2="119.2" stroke="#888" stroke-width="0.6"/>
<line x1="490.82" y1="115.8" x2="490.82" y2="119.2" stroke="#888" stroke-width="0.6"/>
<line x1="493.16" y1="115.8" x2="493.16" y2="119.2" stroke="#888" stroke-width="0.6"/>
<line x1="495.07" y1="115.8" x2="495.07" y2="119.2" stroke="#888" stroke-width="0.6"/>
<line x1="496.69" y1="115.8" x2="496.69" y2="119.2" stroke="#888" stroke-width="0.6"/>
<line x1="498.08" y1="115.8" x2="498.08" y2="119.2" stroke="#888" stroke-width="0.6"/>
<line x1="499.32" y1="115.8" x2="499.32" y2="119.2" stroke="#888" stroke-width="0.6"/>
<line x1="507.68" y1="115.8" x2="507.68" y2="119.2" stroke="#888" stroke-width="0.6"/>
<line x1="379.85" y1="12" x2="379.85" y2="116" stroke="#4a4a4a" stroke-width="1.3"/>
<line x1="368.85" y1="115.4" x2="510.5" y2="115.4" stroke="#777" stroke-width="0.9"/>
<text transform="translate(396.2,130.6) scale(1,1.0)" class="xl">10</text>
<text transform="translate(406.8,126.1) scale(1,1.15)" class="xs">1</text>
<text transform="translate(444.4,130.6) scale(1,1.0)" class="xl">10</text>
<text transform="translate(457,126.1) scale(1,1.15)" class="xs">3</text>
<text transform="translate(493.5,130.6) scale(1,1.0)" class="xl">10</text>
<text transform="translate(506.4,126.1) scale(1,1.15)" class="xs">5</text>
<path d="M167,307.4 L167,242.7 L167,239.87 L168.1,239.87 L168.1,239.6 L169.2,239.6 L169.2,239.29 L170.35,239.29 L170.35,236.5 L171.5,236.5 L171.5,230.59 L172.25,230.59 L172.25,222.7 L173,222.7 L173,221 L173.8,221 L173.8,233.5 L175,233.5 L175,222 L176.2,222 L176.2,232 L177.2,232 L177.2,227.98 L178.2,227.98 L178.2,225.8 L179.2,225.8 L179.2,224.98 L180,224.98 L180,224.2 L180.8,224.2 L180.8,224.2 L181,224.2 L181,307.4 L181,307.4 L167,307.4 Z" fill="#777777" stroke="#555" stroke-width="0.5"/>
<path d="M94.6,307.4 L94.6,307 L95.68,307 L95.68,307.05 L96.76,307.05 L96.76,306.68 L97.84,306.68 L97.84,305.29 L98.92,305.29 L98.92,305.4 L100,305.4 L100,304.27 L101,304.27 L101,304.65 L102,304.65 L102,303.93 L103,303.93 L103,303 L104,303 L104,303 L105,303 L105,302.21 L106,302.21 L106,302.41 L107,302.41 L107,302 L108,302 L108,302.54 L109,302.54 L109,302.87 L110,302.87 L110,302.63 L111,302.63 L111,303.5 L112,303.5 L112,303.53 L113,303.53 L113,303.6 L114,303.6 L114,304.18 L115,304.18 L115,304 L116,304 L116,304.37 L117,304.37 L117,303.99 L118,303.99 L118,303.09 L119,303.09 L119,302.7 L120,302.7 L120,302.62 L121.03,302.62 L121.03,302.35 L122.07,302.35 L122.07,302.01 L123.1,302.01 L123.1,302 L124.13,302 L124.13,302.65 L125.17,302.65 L125.17,302.7 L126.2,302.7 L126.2,300.84 L127.2,300.84 L127.2,299.36 L128.2,299.36 L128.2,298 L129.2,298 L129.2,298.23 L130.23,298.23 L130.23,297.05 L131.27,297.05 L131.27,296.62 L132.3,296.62 L132.3,295.48 L133.33,295.48 L133.33,294.55 L134.37,294.55 L134.37,295 L135.4,295 L135.4,292.47 L136.32,292.47 L136.32,289.87 L137.24,289.87 L137.24,288.54 L138.16,288.54 L138.16,287.57 L139.08,287.57 L139.08,284.2 L140,284.2 L140,281.98 L140.95,281.98 L140.95,277.98 L141.9,277.98 L141.9,277.28 L142.85,277.28 L142.85,273.5 L143.8,273.5 L143.8,269.01 L145,269.01 L145,262.7 L146.2,262.7 L146.2,258.1 L146.95,258.1 L146.95,251.9 L147.7,251.9 L147.7,246.86 L148.85,246.86 L148.85,238.8 L150,238.8 L150,238.3 L150.95,238.3 L150.95,236.89 L151.9,236.89 L151.9,233.65 L152.85,233.65 L152.85,232.7 L153.8,232.7 L153.8,225.8 L155,225.8 L155,214.2 L156.2,214.2 L156.2,213.5 L157.2,213.5 L157.2,222 L158,222 L158,232 L158.5,232 L158.5,222 L159,222 L159,212.7 L159.7,212.7 L159.7,213.5 L160.8,213.5 L160.8,219.83 L161.55,219.83 L161.55,222 L162.3,222 L162.3,228.11 L163.45,228.11 L163.45,230.4 L164.6,230.4 L164.6,229.03 L165.4,229.03 L165.4,230.4 L166.2,230.4 L166.2,236.8 L166.95,236.8 L166.95,241.2 L167.7,241.2 L167.7,248.88 L168.45,248.88 L168.45,255 L169.2,255 L169.2,263.11 L170.1,263.11 L170.1,271.56 L171,271.56 L171,279.7 L171.9,279.7 L171.9,283.77 L172.77,283.77 L172.77,288.9 L173.63,288.9 L173.63,292 L174.5,292 L174.5,296 L175.75,296 L175.75,300 L177,300 L177,302.97 L178,302.97 L178,304.75 L179,304.75 L179,307.4 L180,307.4 L180,307.4 L94.6,307.4 Z" fill="#fff" stroke="#333" stroke-width="0.7"/>
<line x1="40.1" y1="292.5" x2="49.1" y2="292.5" stroke="#a8a8a8" stroke-width="0.9"/>
<line x1="40.1" y1="276.5" x2="49.1" y2="276.5" stroke="#a8a8a8" stroke-width="0.9"/>
<line x1="40.1" y1="261.5" x2="49.1" y2="261.5" stroke="#a8a8a8" stroke-width="0.9"/>
<line x1="40.1" y1="246.5" x2="49.1" y2="246.5" stroke="#a8a8a8" stroke-width="0.9"/>
<line x1="40.1" y1="230.5" x2="49.1" y2="230.5" stroke="#a8a8a8" stroke-width="0.9"/>
<line x1="40.1" y1="215.5" x2="49.1" y2="215.5" stroke="#a8a8a8" stroke-width="0.9"/>
<line x1="40.1" y1="200.5" x2="49.1" y2="200.5" stroke="#a8a8a8" stroke-width="0.9"/>
<line x1="49.1" y1="307.4" x2="49.1" y2="312.7" stroke="#777" stroke-width="0.75"/>
<line x1="73.44" y1="307.4" x2="73.44" y2="312.7" stroke="#777" stroke-width="0.75"/>
<line x1="97.79" y1="307.4" x2="97.79" y2="312.7" stroke="#777" stroke-width="0.75"/>
<line x1="122.13" y1="307.4" x2="122.13" y2="312.7" stroke="#777" stroke-width="0.75"/>
<line x1="146.48" y1="307.4" x2="146.48" y2="312.7" stroke="#777" stroke-width="0.75"/>
<line x1="170.82" y1="307.4" x2="170.82" y2="312.7" stroke="#777" stroke-width="0.75"/>
<line x1="56.43" y1="307.8" x2="56.43" y2="311.2" stroke="#888" stroke-width="0.6"/>
<line x1="60.72" y1="307.8" x2="60.72" y2="311.2" stroke="#888" stroke-width="0.6"/>
<line x1="63.76" y1="307.8" x2="63.76" y2="311.2" stroke="#888" stroke-width="0.6"/>
<line x1="66.12" y1="307.8" x2="66.12" y2="311.2" stroke="#888" stroke-width="0.6"/>
<line x1="68.04" y1="307.8" x2="68.04" y2="311.2" stroke="#888" stroke-width="0.6"/>
<line x1="69.67" y1="307.8" x2="69.67" y2="311.2" stroke="#888" stroke-width="0.6"/>
<line x1="71.09" y1="307.8" x2="71.09" y2="311.2" stroke="#888" stroke-width="0.6"/>
<line x1="72.33" y1="307.8" x2="72.33" y2="311.2" stroke="#888" stroke-width="0.6"/>
<line x1="80.77" y1="307.8" x2="80.77" y2="311.2" stroke="#888" stroke-width="0.6"/>
<line x1="85.06" y1="307.8" x2="85.06" y2="311.2" stroke="#888" stroke-width="0.6"/>
<line x1="88.1" y1="307.8" x2="88.1" y2="311.2" stroke="#888" stroke-width="0.6"/>
<line x1="90.46" y1="307.8" x2="90.46" y2="311.2" stroke="#888" stroke-width="0.6"/>
<line x1="92.39" y1="307.8" x2="92.39" y2="311.2" stroke="#888" stroke-width="0.6"/>
<line x1="94.02" y1="307.8" x2="94.02" y2="311.2" stroke="#888" stroke-width="0.6"/>
<line x1="95.43" y1="307.8" x2="95.43" y2="311.2" stroke="#888" stroke-width="0.6"/>
<line x1="96.68" y1="307.8" x2="96.68" y2="311.2" stroke="#888" stroke-width="0.6"/>
<line x1="105.12" y1="307.8" x2="105.12" y2="311.2" stroke="#888" stroke-width="0.6"/>
<line x1="109.4" y1="307.8" x2="109.4" y2="311.2" stroke="#888" stroke-width="0.6"/>
<line x1="112.45" y1="307.8" x2="112.45" y2="311.2" stroke="#888" stroke-width="0.6"/>
<line x1="114.81" y1="307.8" x2="114.81" y2="311.2" stroke="#888" stroke-width="0.6"/>
<line x1="116.73" y1="307.8" x2="116.73" y2="311.2" stroke="#888" stroke-width="0.6"/>
<line x1="118.36" y1="307.8" x2="118.36" y2="311.2" stroke="#888" stroke-width="0.6"/>
<line x1="119.78" y1="307.8" x2="119.78" y2="311.2" stroke="#888" stroke-width="0.6"/>
<line x1="121.02" y1="307.8" x2="121.02" y2="311.2" stroke="#888" stroke-width="0.6"/>
<line x1="129.46" y1="307.8" x2="129.46" y2="311.2" stroke="#888" stroke-width="0.6"/>
<line x1="133.75" y1="307.8" x2="133.75" y2="311.2" stroke="#888" stroke-width="0.6"/>
<line x1="136.79" y1="307.8" x2="136.79" y2="311.2" stroke="#888" stroke-width="0.6"/>
<line x1="139.15" y1="307.8" x2="139.15" y2="311.2" stroke="#888" stroke-width="0.6"/>
<line x1="141.08" y1="307.8" x2="141.08" y2="311.2" stroke="#888" stroke-width="0.6"/>
<line x1="142.71" y1="307.8" x2="142.71" y2="311.2" stroke="#888" stroke-width="0.6"/>
<line x1="144.12" y1="307.8" x2="144.12" y2="311.2" stroke="#888" stroke-width="0.6"/>
<line x1="145.37" y1="307.8" x2="145.37" y2="311.2" stroke="#888" stroke-width="0.6"/>
<line x1="153.81" y1="307.8" x2="153.81" y2="311.2" stroke="#888" stroke-width="0.6"/>
<line x1="158.09" y1="307.8" x2="158.09" y2="311.2" stroke="#888" stroke-width="0.6"/>
<line x1="161.14" y1="307.8" x2="161.14" y2="311.2" stroke="#888" stroke-width="0.6"/>
<line x1="163.5" y1="307.8" x2="163.5" y2="311.2" stroke="#888" stroke-width="0.6"/>
<line x1="165.42" y1="307.8" x2="165.42" y2="311.2" stroke="#888" stroke-width="0.6"/>
<line x1="167.05" y1="307.8" x2="167.05" y2="311.2" stroke="#888" stroke-width="0.6"/>
<line x1="168.46" y1="307.8" x2="168.46" y2="311.2" stroke="#888" stroke-width="0.6"/>
<line x1="169.71" y1="307.8" x2="169.71" y2="311.2" stroke="#888" stroke-width="0.6"/>
<line x1="178.15" y1="307.8" x2="178.15" y2="311.2" stroke="#888" stroke-width="0.6"/>
<line x1="49.1" y1="200.3" x2="49.1" y2="308" stroke="#4a4a4a" stroke-width="1.3"/>
<line x1="40.1" y1="307.4" x2="181" y2="307.4" stroke="#777" stroke-width="0.9"/>
<text transform="translate(67,319.8) scale(1,1.0)" class="xl">10</text>
<text transform="translate(77.2,318.7) scale(1,1.15)" class="xs">1</text>
<text transform="translate(115.7,319.8) scale(1,1.0)" class="xl">10</text>
<text transform="translate(125.9,318.7) scale(1,1.15)" class="xs">3</text>
<text transform="translate(164.4,319.8) scale(1,1.0)" class="xl">10</text>
<text transform="translate(176.1,318.7) scale(1,1.15)" class="xs">5</text>
<text transform="translate(33,217.5) rotate(-90) scale(1,1.22)" class="yl">300</text>
<text transform="translate(33,248.3) rotate(-90) scale(1,1.22)" class="yl">200</text>
<text transform="translate(33,278.6) rotate(-90) scale(1,1.22)" class="yl">100</text>
<path d="M326.5,307.4 L326.5,245 L326.5,244.2 L327.3,244.2 L327.3,240.57 L328.45,240.57 L328.45,239.5 L329.6,239.5 L329.6,240.24 L330.63,240.24 L330.63,239.44 L331.67,239.44 L331.67,238 L332.7,238 L332.7,229.38 L333.85,229.38 L333.85,222.6 L335,222.6 L335,221.1 L336.1,221.1 L336.1,233.4 L337,233.4 L337,222.6 L338.1,222.6 L338.1,226.43 L338.85,226.43 L338.85,230.3 L339.6,230.3 L339.6,227.06 L340.4,227.06 L340.4,224.2 L341.2,224.2 L341.2,225.53 L341.95,225.53 L341.95,225.7 L342.7,225.7 L342.7,307.4 L342.7,307.4 L326.5,307.4 Z" fill="#777777" stroke="#555" stroke-width="0.5"/>
<path d="M258,307.4 L258,307.17 L259,307.17 L259,306.95 L260,306.95 L260,307.17 L261,307.17 L261,306.5 L262,306.5 L262,306.71 L263,306.71 L263,305.47 L264,305.47 L264,305.7 L265,305.7 L265,304.81 L265.96,304.81 L265.96,305.35 L266.93,305.35 L266.93,304.85 L267.89,304.85 L267.89,304.38 L268.85,304.38 L268.85,303.5 L269.81,303.5 L269.81,303.53 L270.77,303.53 L270.78,303.14 L271.74,303.14 L271.74,302.6 L272.7,302.6 L272.7,302.44 L273.66,302.44 L273.66,301.5 L274.62,301.5 L274.62,301.63 L275.59,301.63 L275.59,301.28 L276.55,301.28 L276.55,301.52 L277.51,301.52 L277.51,301.69 L278.47,301.69 L278.48,301.33 L279.44,301.33 L279.44,300.3 L280.4,300.3 L280.4,299.74 L281.42,299.74 L281.42,298.94 L282.43,298.94 L282.43,297.98 L283.45,297.98 L283.45,296.91 L284.47,296.91 L284.47,296.24 L285.48,296.24 L285.48,296.5 L286.5,296.5 L286.5,295.65 L287.53,295.65 L287.53,294.57 L288.57,294.57 L288.57,293.9 L289.6,293.9 L289.6,294.19 L290.63,294.19 L290.63,292.64 L291.67,292.64 L291.67,291.8 L292.7,291.8 L292.7,290.93 L293.73,290.93 L293.73,289.2 L294.77,289.2 L294.77,288.8 L295.8,288.8 L295.8,283.77 L296.95,283.77 L296.95,281.1 L298.1,281.1 L298.1,279.1 L299.13,279.1 L299.13,277.03 L300.17,277.03 L300.17,276.5 L301.2,276.5 L301.2,271.88 L302.35,271.88 L302.35,267.2 L303.5,267.2 L303.5,264.22 L304.65,264.22 L304.65,258 L305.8,258 L305.8,254.76 L306.95,254.76 L306.95,250.3 L308.1,250.3 L308.1,242.96 L308.85,242.96 L308.85,238 L309.6,238 L309.6,237.99 L310.75,237.99 L310.75,234.9 L311.9,234.9 L311.9,232.25 L312.9,232.25 L312.9,227.2 L313.9,227.2 L313.9,224.34 L314.85,224.34 L314.85,219.5 L315.8,219.5 L315.8,215.94 L316.55,215.94 L316.55,208.8 L317.3,208.8 L317.3,208 L318.5,208 L318.5,214.9 L319.6,214.9 L319.6,218 L320.7,218 L320.7,221.42 L321.45,221.42 L321.45,222.6 L322.2,222.6 L322.2,225.7 L323.5,225.7 L323.5,230.73 L324.25,230.73 L324.25,233.4 L325,233.4 L325,237.43 L325.75,237.43 L325.75,242.6 L326.5,242.6 L326.5,251.8 L327.3,251.8 L327.3,258.83 L328.45,258.83 L328.45,262.6 L329.6,262.6 L329.6,269.16 L330.63,269.16 L330.63,271.87 L331.67,271.87 L331.67,278 L332.7,278 L332.7,282.76 L333.73,282.76 L333.73,286.72 L334.77,286.72 L334.77,290.3 L335.8,290.3 L335.8,293.29 L336.8,293.29 L336.8,296.49 L337.8,296.49 L337.8,299.5 L338.8,299.5 L338.8,302.12 L339.83,302.12 L339.83,305.31 L340.87,305.31 L340.87,307.4 L341.9,307.4 L341.9,307.4 L258,307.4 Z" fill="#fff" stroke="#333" stroke-width="0.7"/>
<line x1="203.9" y1="292.5" x2="212.9" y2="292.5" stroke="#a8a8a8" stroke-width="0.9"/>
<line x1="203.9" y1="276.5" x2="212.9" y2="276.5" stroke="#a8a8a8" stroke-width="0.9"/>
<line x1="203.9" y1="261.5" x2="212.9" y2="261.5" stroke="#a8a8a8" stroke-width="0.9"/>
<line x1="203.9" y1="246.5" x2="212.9" y2="246.5" stroke="#a8a8a8" stroke-width="0.9"/>
<line x1="203.9" y1="231.5" x2="212.9" y2="231.5" stroke="#a8a8a8" stroke-width="0.9"/>
<line x1="203.9" y1="216.5" x2="212.9" y2="216.5" stroke="#a8a8a8" stroke-width="0.9"/>
<line x1="203.9" y1="200.5" x2="212.9" y2="200.5" stroke="#a8a8a8" stroke-width="0.9"/>
<line x1="212.9" y1="307.4" x2="212.9" y2="312.7" stroke="#777" stroke-width="0.75"/>
<line x1="236.86" y1="307.4" x2="236.86" y2="312.7" stroke="#777" stroke-width="0.75"/>
<line x1="260.81" y1="307.4" x2="260.81" y2="312.7" stroke="#777" stroke-width="0.75"/>
<line x1="284.77" y1="307.4" x2="284.77" y2="312.7" stroke="#777" stroke-width="0.75"/>
<line x1="308.73" y1="307.4" x2="308.73" y2="312.7" stroke="#777" stroke-width="0.75"/>
<line x1="332.69" y1="307.4" x2="332.69" y2="312.7" stroke="#777" stroke-width="0.75"/>
<line x1="220.11" y1="307.8" x2="220.11" y2="311.2" stroke="#888" stroke-width="0.6"/>
<line x1="224.33" y1="307.8" x2="224.33" y2="311.2" stroke="#888" stroke-width="0.6"/>
<line x1="227.32" y1="307.8" x2="227.32" y2="311.2" stroke="#888" stroke-width="0.6"/>
<line x1="229.65" y1="307.8" x2="229.65" y2="311.2" stroke="#888" stroke-width="0.6"/>
<line x1="231.54" y1="307.8" x2="231.54" y2="311.2" stroke="#888" stroke-width="0.6"/>
<line x1="233.15" y1="307.8" x2="233.15" y2="311.2" stroke="#888" stroke-width="0.6"/>
<line x1="234.54" y1="307.8" x2="234.54" y2="311.2" stroke="#888" stroke-width="0.6"/>
<line x1="235.76" y1="307.8" x2="235.76" y2="311.2" stroke="#888" stroke-width="0.6"/>
<line x1="244.07" y1="307.8" x2="244.07" y2="311.2" stroke="#888" stroke-width="0.6"/>
<line x1="248.29" y1="307.8" x2="248.29" y2="311.2" stroke="#888" stroke-width="0.6"/>
<line x1="251.28" y1="307.8" x2="251.28" y2="311.2" stroke="#888" stroke-width="0.6"/>
<line x1="253.6" y1="307.8" x2="253.6" y2="311.2" stroke="#888" stroke-width="0.6"/>
<line x1="255.5" y1="307.8" x2="255.5" y2="311.2" stroke="#888" stroke-width="0.6"/>
<line x1="257.1" y1="307.8" x2="257.1" y2="311.2" stroke="#888" stroke-width="0.6"/>
<line x1="258.49" y1="307.8" x2="258.49" y2="311.2" stroke="#888" stroke-width="0.6"/>
<line x1="259.72" y1="307.8" x2="259.72" y2="311.2" stroke="#888" stroke-width="0.6"/>
<line x1="268.03" y1="307.8" x2="268.03" y2="311.2" stroke="#888" stroke-width="0.6"/>
<line x1="272.24" y1="307.8" x2="272.24" y2="311.2" stroke="#888" stroke-width="0.6"/>
<line x1="275.24" y1="307.8" x2="275.24" y2="311.2" stroke="#888" stroke-width="0.6"/>
<line x1="277.56" y1="307.8" x2="277.56" y2="311.2" stroke="#888" stroke-width="0.6"/>
<line x1="279.46" y1="307.8" x2="279.46" y2="311.2" stroke="#888" stroke-width="0.6"/>
<line x1="281.06" y1="307.8" x2="281.06" y2="311.2" stroke="#888" stroke-width="0.6"/>
<line x1="282.45" y1="307.8" x2="282.45" y2="311.2" stroke="#888" stroke-width="0.6"/>
<line x1="283.68" y1="307.8" x2="283.68" y2="311.2" stroke="#888" stroke-width="0.6"/>
<line x1="291.98" y1="307.8" x2="291.98" y2="311.2" stroke="#888" stroke-width="0.6"/>
<line x1="296.2" y1="307.8" x2="296.2" y2="311.2" stroke="#888" stroke-width="0.6"/>
<line x1="299.2" y1="307.8" x2="299.2" y2="311.2" stroke="#888" stroke-width="0.6"/>
<line x1="301.52" y1="307.8" x2="301.52" y2="311.2" stroke="#888" stroke-width="0.6"/>
<line x1="303.41" y1="307.8" x2="303.41" y2="311.2" stroke="#888" stroke-width="0.6"/>
<line x1="305.02" y1="307.8" x2="305.02" y2="311.2" stroke="#888" stroke-width="0.6"/>
<line x1="306.41" y1="307.8" x2="306.41" y2="311.2" stroke="#888" stroke-width="0.6"/>
<line x1="307.63" y1="307.8" x2="307.63" y2="311.2" stroke="#888" stroke-width="0.6"/>
<line x1="315.94" y1="307.8" x2="315.94" y2="311.2" stroke="#888" stroke-width="0.6"/>
<line x1="320.16" y1="307.8" x2="320.16" y2="311.2" stroke="#888" stroke-width="0.6"/>
<line x1="323.15" y1="307.8" x2="323.15" y2="311.2" stroke="#888" stroke-width="0.6"/>
<line x1="325.47" y1="307.8" x2="325.47" y2="311.2" stroke="#888" stroke-width="0.6"/>
<line x1="327.37" y1="307.8" x2="327.37" y2="311.2" stroke="#888" stroke-width="0.6"/>
<line x1="328.97" y1="307.8" x2="328.97" y2="311.2" stroke="#888" stroke-width="0.6"/>
<line x1="330.36" y1="307.8" x2="330.36" y2="311.2" stroke="#888" stroke-width="0.6"/>
<line x1="331.59" y1="307.8" x2="331.59" y2="311.2" stroke="#888" stroke-width="0.6"/>
<line x1="339.9" y1="307.8" x2="339.9" y2="311.2" stroke="#888" stroke-width="0.6"/>
<line x1="212.9" y1="200.8" x2="212.9" y2="308" stroke="#858585" stroke-width="1.1"/>
<line x1="203.9" y1="307.4" x2="342.7" y2="307.4" stroke="#777" stroke-width="0.9"/>
<text transform="translate(230.5,319.8) scale(1,1.0)" class="xl">10</text>
<text transform="translate(240.7,318.7) scale(1,1.15)" class="xs">1</text>
<text transform="translate(278.4,319.8) scale(1,1.0)" class="xl">10</text>
<text transform="translate(288.6,318.7) scale(1,1.15)" class="xs">3</text>
<text transform="translate(326.3,319.8) scale(1,1.0)" class="xl">10</text>
<text transform="translate(338,318.7) scale(1,1.15)" class="xs">5</text>
<path d="M476.7,307.4 L476.7,289 L476.7,286.6 L477.8,286.6 L477.8,286.59 L478.9,286.59 L478.9,284.2 L480,284.2 L480,282.49 L481.15,282.49 L481.15,279.5 L482.3,279.5 L482.3,276.57 L483.45,276.57 L483.45,274.9 L484.6,274.9 L484.6,272.59 L485.75,272.59 L485.75,270.3 L486.9,270.3 L486.9,267.11 L488.05,267.11 L488.05,264.2 L489.2,264.2 L489.2,261.99 L490.23,261.99 L490.23,259.76 L491.27,259.76 L491.27,256.2 L492.3,256.2 L492.3,253.15 L493.18,253.15 L493.18,251.17 L494.05,251.17 L494.05,252.05 L494.93,252.05 L494.93,249.2 L495.8,249.2 L495.8,245.5 L496.93,245.5 L496.93,243.18 L498.07,243.18 L498.07,238.8 L499.2,238.8 L499.2,233.54 L500.07,233.54 L500.07,231.7 L500.95,231.7 L500.95,229.29 L501.82,229.29 L501.82,225 L502.7,225 L502.7,221.85 L503.55,221.85 L503.55,220.8 L504.4,220.8 L504.4,226.12 L505.2,226.12 L505.2,228 L506,228 L506,227.37 L506.87,227.37 L506.87,221.85 L507.73,221.85 L507.73,221.5 L508.6,221.5 L508.6,223.43 L509.55,223.43 L509.55,229 L510.5,229 L510.5,226.81 L511.25,226.81 L511.25,224.3 L512,224.3 L512,307.4 L512,307.4 L476.7,307.4 Z" fill="#777777" stroke="#555" stroke-width="0.5"/>
<path d="M420,307.4 L420,306.95 L421.15,306.95 L421.15,306.5 L422.3,306.5 L422.3,306.61 L423.33,306.61 L423.33,306.25 L424.37,306.25 L424.37,304.82 L425.4,304.82 L425.4,304.45 L426.43,304.45 L426.43,305.02 L427.47,305.02 L427.47,304.2 L428.5,304.2 L428.5,303.01 L429.42,303.01 L429.42,301.4 L430.34,301.4 L430.34,299.25 L431.26,299.25 L431.26,298.23 L432.18,298.23 L432.18,296.5 L433.1,296.5 L433.1,295.18 L434.02,295.18 L434.02,293.59 L434.94,293.59 L434.94,291.14 L435.86,291.14 L435.86,290.18 L436.78,290.18 L436.78,288.8 L437.7,288.8 L437.7,285.44 L438.73,285.44 L438.73,283.18 L439.77,283.18 L439.77,279.5 L440.8,279.5 L440.8,277.05 L441.95,277.05 L441.95,271.8 L443.1,271.8 L443.1,268.6 L444.25,268.6 L444.25,262.6 L445.4,262.6 L445.4,256.6 L446.55,256.6 L446.55,250.3 L447.7,250.3 L447.7,244.7 L448.7,244.7 L448.7,239.5 L449.7,239.5 L449.7,233.98 L450.6,233.98 L450.6,230.3 L451.5,230.3 L451.5,226.1 L452.3,226.1 L452.3,225.7 L453.1,225.7 L453.1,221.41 L454.25,221.41 L454.25,221.1 L455.4,221.1 L455.4,215.55 L456.15,215.55 L456.15,210.3 L456.9,210.3 L456.9,206.43 L457.7,206.43 L457.7,204.2 L458.5,204.2 L458.5,206.71 L459.25,206.71 L459.25,210.3 L460,210.3 L460,218.15 L461.15,218.15 L461.15,222.6 L462.3,222.6 L462.3,219.66 L463.05,219.66 L463.05,216.5 L463.8,216.5 L463.8,219.81 L464.6,219.81 L464.6,222.6 L465.4,222.6 L465.4,226.11 L466.15,226.11 L466.15,231.8 L466.9,231.8 L466.9,242.6 L468.2,242.6 L468.2,246.5 L469.07,246.5 L469.07,253.26 L469.93,253.26 L469.93,259.5 L470.8,259.5 L470.8,264.5 L471.8,264.5 L471.8,271.8 L472.8,271.8 L472.8,278.03 L473.7,278.03 L473.7,284.2 L474.6,284.2 L474.6,288.44 L475.75,288.44 L475.75,290.3 L476.9,290.3 L476.9,295.25 L478.05,295.25 L478.05,299.5 L479.2,299.5 L479.2,302.12 L480.35,302.12 L480.35,305.7 L481.5,305.7 L481.5,307.4 L482.5,307.4 L482.5,307.4 L420,307.4 Z" fill="#fff" stroke="#333" stroke-width="0.7"/>
<line x1="369.8" y1="292.5" x2="378.8" y2="292.5" stroke="#a8a8a8" stroke-width="0.9"/>
<line x1="369.8" y1="276.5" x2="378.8" y2="276.5" stroke="#a8a8a8" stroke-width="0.9"/>
<line x1="369.8" y1="261.5" x2="378.8" y2="261.5" stroke="#a8a8a8" stroke-width="0.9"/>
<line x1="369.8" y1="246.5" x2="378.8" y2="246.5" stroke="#a8a8a8" stroke-width="0.9"/>
<line x1="369.8" y1="231.5" x2="378.8" y2="231.5" stroke="#a8a8a8" stroke-width="0.9"/>
<line x1="369.8" y1="216.5" x2="378.8" y2="216.5" stroke="#a8a8a8" stroke-width="0.9"/>
<line x1="369.8" y1="200.5" x2="378.8" y2="200.5" stroke="#a8a8a8" stroke-width="0.9"/>
<line x1="378.8" y1="307.4" x2="378.8" y2="312.7" stroke="#777" stroke-width="0.75"/>
<line x1="403.38" y1="307.4" x2="403.38" y2="312.7" stroke="#777" stroke-width="0.75"/>
<line x1="427.97" y1="307.4" x2="427.97" y2="312.7" stroke="#777" stroke-width="0.75"/>
<line x1="452.55" y1="307.4" x2="452.55" y2="312.7" stroke="#777" stroke-width="0.75"/>
<line x1="477.14" y1="307.4" x2="477.14" y2="312.7" stroke="#777" stroke-width="0.75"/>
<line x1="501.72" y1="307.4" x2="501.72" y2="312.7" stroke="#777" stroke-width="0.75"/>
<line x1="386.2" y1="307.8" x2="386.2" y2="311.2" stroke="#888" stroke-width="0.6"/>
<line x1="390.53" y1="307.8" x2="390.53" y2="311.2" stroke="#888" stroke-width="0.6"/>
<line x1="393.6" y1="307.8" x2="393.6" y2="311.2" stroke="#888" stroke-width="0.6"/>
<line x1="395.98" y1="307.8" x2="395.98" y2="311.2" stroke="#888" stroke-width="0.6"/>
<line x1="397.93" y1="307.8" x2="397.93" y2="311.2" stroke="#888" stroke-width="0.6"/>
<line x1="399.58" y1="307.8" x2="399.58" y2="311.2" stroke="#888" stroke-width="0.6"/>
<line x1="401" y1="307.8" x2="401" y2="311.2" stroke="#888" stroke-width="0.6"/>
<line x1="402.26" y1="307.8" x2="402.26" y2="311.2" stroke="#888" stroke-width="0.6"/>
<line x1="410.79" y1="307.8" x2="410.79" y2="311.2" stroke="#888" stroke-width="0.6"/>
<line x1="415.11" y1="307.8" x2="415.11" y2="311.2" stroke="#888" stroke-width="0.6"/>
<line x1="418.19" y1="307.8" x2="418.19" y2="311.2" stroke="#888" stroke-width="0.6"/>
<line x1="420.57" y1="307.8" x2="420.57" y2="311.2" stroke="#888" stroke-width="0.6"/>
<line x1="422.52" y1="307.8" x2="422.52" y2="311.2" stroke="#888" stroke-width="0.6"/>
<line x1="424.16" y1="307.8" x2="424.16" y2="311.2" stroke="#888" stroke-width="0.6"/>
<line x1="425.59" y1="307.8" x2="425.59" y2="311.2" stroke="#888" stroke-width="0.6"/>
<line x1="426.84" y1="307.8" x2="426.84" y2="311.2" stroke="#888" stroke-width="0.6"/>
<line x1="435.37" y1="307.8" x2="435.37" y2="311.2" stroke="#888" stroke-width="0.6"/>
<line x1="439.7" y1="307.8" x2="439.7" y2="311.2" stroke="#888" stroke-width="0.6"/>
<line x1="442.77" y1="307.8" x2="442.77" y2="311.2" stroke="#888" stroke-width="0.6"/>
<line x1="445.15" y1="307.8" x2="445.15" y2="311.2" stroke="#888" stroke-width="0.6"/>
<line x1="447.1" y1="307.8" x2="447.1" y2="311.2" stroke="#888" stroke-width="0.6"/>
<line x1="448.75" y1="307.8" x2="448.75" y2="311.2" stroke="#888" stroke-width="0.6"/>
<line x1="450.17" y1="307.8" x2="450.17" y2="311.2" stroke="#888" stroke-width="0.6"/>
<line x1="451.43" y1="307.8" x2="451.43" y2="311.2" stroke="#888" stroke-width="0.6"/>
<line x1="459.95" y1="307.8" x2="459.95" y2="311.2" stroke="#888" stroke-width="0.6"/>
<line x1="464.28" y1="307.8" x2="464.28" y2="311.2" stroke="#888" stroke-width="0.6"/>
<line x1="467.36" y1="307.8" x2="467.36" y2="311.2" stroke="#888" stroke-width="0.6"/>
<line x1="469.74" y1="307.8" x2="469.74" y2="311.2" stroke="#888" stroke-width="0.6"/>
<line x1="471.68" y1="307.8" x2="471.68" y2="311.2" stroke="#888" stroke-width="0.6"/>
<line x1="473.33" y1="307.8" x2="473.33" y2="311.2" stroke="#888" stroke-width="0.6"/>
<line x1="474.76" y1="307.8" x2="474.76" y2="311.2" stroke="#888" stroke-width="0.6"/>
<line x1="476.01" y1="307.8" x2="476.01" y2="311.2" stroke="#888" stroke-width="0.6"/>
<line x1="484.54" y1="307.8" x2="484.54" y2="311.2" stroke="#888" stroke-width="0.6"/>
<line x1="488.87" y1="307.8" x2="488.87" y2="311.2" stroke="#888" stroke-width="0.6"/>
<line x1="491.94" y1="307.8" x2="491.94" y2="311.2" stroke="#888" stroke-width="0.6"/>
<line x1="494.32" y1="307.8" x2="494.32" y2="311.2" stroke="#888" stroke-width="0.6"/>
<line x1="496.27" y1="307.8" x2="496.27" y2="311.2" stroke="#888" stroke-width="0.6"/>
<line x1="497.92" y1="307.8" x2="497.92" y2="311.2" stroke="#888" stroke-width="0.6"/>
<line x1="499.34" y1="307.8" x2="499.34" y2="311.2" stroke="#888" stroke-width="0.6"/>
<line x1="500.6" y1="307.8" x2="500.6" y2="311.2" stroke="#888" stroke-width="0.6"/>
<line x1="509.12" y1="307.8" x2="509.12" y2="311.2" stroke="#888" stroke-width="0.6"/>
<line x1="378.8" y1="200.8" x2="378.8" y2="308" stroke="#858585" stroke-width="1.1"/>
<line x1="369.8" y1="307.4" x2="512" y2="307.4" stroke="#777" stroke-width="0.9"/>
<text transform="translate(397,319.5) scale(1,1.0)" class="xl">10</text>
<text transform="translate(407.2,318.4) scale(1,1.15)" class="xs">1</text>
<text transform="translate(446.2,319.5) scale(1,1.0)" class="xl">10</text>
<text transform="translate(456.4,318.4) scale(1,1.15)" class="xs">3</text>
<text transform="translate(495.3,319.5) scale(1,1.0)" class="xl">10</text>
<text transform="translate(507,318.4) scale(1,1.15)" class="xs">5</text>
<path d="M170.3,427.4 L170.3,357.2 L170.3,351.8 L171.1,351.8 L171.1,349.1 L171.9,349.1 L171.9,346.73 L172.75,346.73 L172.75,341.7 L173.6,341.7 L173.6,343 L174.4,343 L174.4,355.6 L175.2,355.6 L175.2,342.5 L176,342.5 L176,347.61 L176.8,347.61 L176.8,350.7 L177.6,350.7 L177.6,348.2 L178.5,348.2 L178.5,345.26 L179.3,345.26 L179.3,344.2 L180.1,344.2 L180.1,345 L181,345 L181,427.4 L181,427.4 L170.3,427.4 Z" fill="#777777" stroke="#555" stroke-width="0.5"/>
<path d="M97,427.4 L97,427.08 L98,427.08 L98,426.37 L99,426.37 L99,425.1 L100,425.1 L100,424.25 L101.08,424.25 L101.08,423.99 L102.17,423.99 L102.17,424.7 L103.25,424.7 L103.25,424.29 L104.33,424.29 L104.33,423.92 L105.42,423.92 L105.42,423.4 L106.5,423.4 L106.5,422.99 L107.47,422.99 L107.47,423.29 L108.43,423.29 L108.43,423.16 L109.4,423.16 L109.4,422.99 L110.37,422.99 L110.37,422.23 L111.33,422.23 L111.33,422.6 L112.3,422.6 L112.3,423.13 L113.3,423.13 L113.3,423.7 L114.3,423.7 L114.3,424.77 L115.3,424.77 L115.3,425.1 L116.3,425.1 L116.3,425.54 L117.28,425.54 L117.28,425.32 L118.26,425.32 L118.26,424.62 L119.24,424.62 L119.24,424.31 L120.22,424.31 L120.22,424.2 L121.2,424.2 L121.2,423.4 L122.2,423.4 L122.2,422.57 L123.2,422.57 L123.2,422.06 L124.2,422.06 L124.2,422.23 L125.2,422.23 L125.2,421.8 L126.2,421.8 L126.2,420.85 L127.18,420.85 L127.18,420.28 L128.16,420.28 L128.16,420.49 L129.14,420.49 L129.14,419.21 L130.12,419.21 L130.12,418.5 L131.1,418.5 L131.1,417.25 L132.17,417.25 L132.17,415.25 L133.23,415.25 L133.23,414.4 L134.3,414.4 L134.3,412.6 L135.33,412.6 L135.33,412.43 L136.35,412.43 L136.35,411.21 L137.38,411.21 L137.38,411.2 L138.4,411.2 L138.4,407.92 L139.65,407.92 L139.65,404.6 L140.9,404.6 L140.9,402.64 L141.97,402.64 L141.97,398.55 L143.03,398.55 L143.03,394.8 L144.1,394.8 L144.1,390.59 L145.2,390.59 L145.2,389.48 L146.3,389.48 L146.3,385 L147.4,385 L147.4,381.88 L148.65,381.88 L148.65,376.8 L149.9,376.8 L149.9,374.37 L151.1,374.37 L151.1,370.3 L152.3,370.3 L152.3,358.9 L153.1,358.9 L153.1,353.98 L153.95,353.98 L153.95,345.8 L154.8,345.8 L154.8,344.45 L155.6,344.45 L155.6,340.9 L156.4,340.9 L156.4,338.45 L157.2,338.45 L157.2,333.5 L158,333.5 L158,330 L159.25,330 L159.25,327.8 L160.5,327.8 L160.5,327.55 L161.3,327.55 L161.3,322.9 L162.1,322.9 L162.1,324.5 L162.9,324.5 L162.9,334.3 L164.1,334.3 L164.1,336 L165.4,336 L165.4,341.23 L166.2,341.23 L166.2,342.5 L167,342.5 L167,344.39 L167.85,344.39 L167.85,349.1 L168.7,349.1 L168.7,353.1 L170,353.1 L170,360.5 L171.1,360.5 L171.1,380.1 L171.9,380.1 L171.9,388.24 L173.15,388.24 L173.15,394.8 L174.4,394.8 L174.4,403.55 L175.6,403.55 L175.6,411.2 L176.8,411.2 L176.8,414.92 L177.9,414.92 L177.9,418.85 L179,418.85 L179,422.6 L180.1,422.6 L180.1,427.4 L181,427.4 L181,427.4 L97,427.4 Z" fill="#fff" stroke="#333" stroke-width="0.7"/>
<line x1="40.1" y1="412.5" x2="49.1" y2="412.5" stroke="#a8a8a8" stroke-width="0.9"/>
<line x1="40.1" y1="396.5" x2="49.1" y2="396.5" stroke="#a8a8a8" stroke-width="0.9"/>
<line x1="40.1" y1="381.5" x2="49.1" y2="381.5" stroke="#a8a8a8" stroke-width="0.9"/>
<line x1="40.1" y1="365.5" x2="49.1" y2="365.5" stroke="#a8a8a8" stroke-width="0.9"/>
<line x1="40.1" y1="350.5" x2="49.1" y2="350.5" stroke="#a8a8a8" stroke-width="0.9"/>
<line x1="40.1" y1="335.5" x2="49.1" y2="335.5" stroke="#a8a8a8" stroke-width="0.9"/>
<line x1="40.1" y1="319.5" x2="49.1" y2="319.5" stroke="#a8a8a8" stroke-width="0.9"/>
<line x1="49.1" y1="427.4" x2="49.1" y2="432.7" stroke="#777" stroke-width="0.75"/>
<line x1="73.44" y1="427.4" x2="73.44" y2="432.7" stroke="#777" stroke-width="0.75"/>
<line x1="97.79" y1="427.4" x2="97.79" y2="432.7" stroke="#777" stroke-width="0.75"/>
<line x1="122.13" y1="427.4" x2="122.13" y2="432.7" stroke="#777" stroke-width="0.75"/>
<line x1="146.48" y1="427.4" x2="146.48" y2="432.7" stroke="#777" stroke-width="0.75"/>
<line x1="170.82" y1="427.4" x2="170.82" y2="432.7" stroke="#777" stroke-width="0.75"/>
<line x1="56.43" y1="427.8" x2="56.43" y2="431.2" stroke="#888" stroke-width="0.6"/>
<line x1="60.72" y1="427.8" x2="60.72" y2="431.2" stroke="#888" stroke-width="0.6"/>
<line x1="63.76" y1="427.8" x2="63.76" y2="431.2" stroke="#888" stroke-width="0.6"/>
<line x1="66.12" y1="427.8" x2="66.12" y2="431.2" stroke="#888" stroke-width="0.6"/>
<line x1="68.04" y1="427.8" x2="68.04" y2="431.2" stroke="#888" stroke-width="0.6"/>
<line x1="69.67" y1="427.8" x2="69.67" y2="431.2" stroke="#888" stroke-width="0.6"/>
<line x1="71.09" y1="427.8" x2="71.09" y2="431.2" stroke="#888" stroke-width="0.6"/>
<line x1="72.33" y1="427.8" x2="72.33" y2="431.2" stroke="#888" stroke-width="0.6"/>
<line x1="80.77" y1="427.8" x2="80.77" y2="431.2" stroke="#888" stroke-width="0.6"/>
<line x1="85.06" y1="427.8" x2="85.06" y2="431.2" stroke="#888" stroke-width="0.6"/>
<line x1="88.1" y1="427.8" x2="88.1" y2="431.2" stroke="#888" stroke-width="0.6"/>
<line x1="90.46" y1="427.8" x2="90.46" y2="431.2" stroke="#888" stroke-width="0.6"/>
<line x1="92.39" y1="427.8" x2="92.39" y2="431.2" stroke="#888" stroke-width="0.6"/>
<line x1="94.02" y1="427.8" x2="94.02" y2="431.2" stroke="#888" stroke-width="0.6"/>
<line x1="95.43" y1="427.8" x2="95.43" y2="431.2" stroke="#888" stroke-width="0.6"/>
<line x1="96.68" y1="427.8" x2="96.68" y2="431.2" stroke="#888" stroke-width="0.6"/>
<line x1="105.12" y1="427.8" x2="105.12" y2="431.2" stroke="#888" stroke-width="0.6"/>
<line x1="109.4" y1="427.8" x2="109.4" y2="431.2" stroke="#888" stroke-width="0.6"/>
<line x1="112.45" y1="427.8" x2="112.45" y2="431.2" stroke="#888" stroke-width="0.6"/>
<line x1="114.81" y1="427.8" x2="114.81" y2="431.2" stroke="#888" stroke-width="0.6"/>
<line x1="116.73" y1="427.8" x2="116.73" y2="431.2" stroke="#888" stroke-width="0.6"/>
<line x1="118.36" y1="427.8" x2="118.36" y2="431.2" stroke="#888" stroke-width="0.6"/>
<line x1="119.78" y1="427.8" x2="119.78" y2="431.2" stroke="#888" stroke-width="0.6"/>
<line x1="121.02" y1="427.8" x2="121.02" y2="431.2" stroke="#888" stroke-width="0.6"/>
<line x1="129.46" y1="427.8" x2="129.46" y2="431.2" stroke="#888" stroke-width="0.6"/>
<line x1="133.75" y1="427.8" x2="133.75" y2="431.2" stroke="#888" stroke-width="0.6"/>
<line x1="136.79" y1="427.8" x2="136.79" y2="431.2" stroke="#888" stroke-width="0.6"/>
<line x1="139.15" y1="427.8" x2="139.15" y2="431.2" stroke="#888" stroke-width="0.6"/>
<line x1="141.08" y1="427.8" x2="141.08" y2="431.2" stroke="#888" stroke-width="0.6"/>
<line x1="142.71" y1="427.8" x2="142.71" y2="431.2" stroke="#888" stroke-width="0.6"/>
<line x1="144.12" y1="427.8" x2="144.12" y2="431.2" stroke="#888" stroke-width="0.6"/>
<line x1="145.37" y1="427.8" x2="145.37" y2="431.2" stroke="#888" stroke-width="0.6"/>
<line x1="153.81" y1="427.8" x2="153.81" y2="431.2" stroke="#888" stroke-width="0.6"/>
<line x1="158.09" y1="427.8" x2="158.09" y2="431.2" stroke="#888" stroke-width="0.6"/>
<line x1="161.14" y1="427.8" x2="161.14" y2="431.2" stroke="#888" stroke-width="0.6"/>
<line x1="163.5" y1="427.8" x2="163.5" y2="431.2" stroke="#888" stroke-width="0.6"/>
<line x1="165.42" y1="427.8" x2="165.42" y2="431.2" stroke="#888" stroke-width="0.6"/>
<line x1="167.05" y1="427.8" x2="167.05" y2="431.2" stroke="#888" stroke-width="0.6"/>
<line x1="168.46" y1="427.8" x2="168.46" y2="431.2" stroke="#888" stroke-width="0.6"/>
<line x1="169.71" y1="427.8" x2="169.71" y2="431.2" stroke="#888" stroke-width="0.6"/>
<line x1="178.15" y1="427.8" x2="178.15" y2="431.2" stroke="#888" stroke-width="0.6"/>
<line x1="49.1" y1="319.9" x2="49.1" y2="428" stroke="#4a4a4a" stroke-width="1.3"/>
<line x1="40.1" y1="427.4" x2="181" y2="427.4" stroke="#777" stroke-width="0.9"/>
<text transform="translate(67,439.7) scale(1,1.0)" class="xl">10</text>
<text transform="translate(77.2,438.6) scale(1,1.15)" class="xs">1</text>
<text transform="translate(115.7,439.7) scale(1,1.0)" class="xl">10</text>
<text transform="translate(125.9,438.6) scale(1,1.15)" class="xs">3</text>
<text transform="translate(164.4,439.7) scale(1,1.0)" class="xl">10</text>
<text transform="translate(176.1,438.6) scale(1,1.15)" class="xs">5</text>
<text transform="translate(33,338) rotate(-90) scale(1,1.22)" class="yl">300</text>
<text transform="translate(33,368.9) rotate(-90) scale(1,1.22)" class="yl">200</text>
<text transform="translate(33,399.2) rotate(-90) scale(1,1.22)" class="yl">100</text>
<path d="M324,427.2 L324,367.5 L324,363.8 L325.25,363.8 L325.25,362.6 L326.5,362.6 L326.5,362.27 L327.65,362.27 L327.65,359.5 L328.8,359.5 L328.8,358.94 L330,358.94 L330,356.5 L331.2,356.5 L331.2,351.75 L331.95,351.75 L331.95,348.8 L332.7,348.8 L332.7,341.1 L333.8,341.1 L333.8,348.8 L335,348.8 L335,341.1 L336.1,341.1 L336.1,350.3 L337.3,350.3 L337.3,348.38 L338.05,348.38 L338.05,346.5 L338.8,346.5 L338.8,345.16 L339.6,345.16 L339.6,344.2 L340.4,344.2 L340.4,344.6 L341,344.6 L341,427.2 L341,427.2 L324,427.2 Z" fill="#777777" stroke="#555" stroke-width="0.5"/>
<path d="M240.6,427.2 L240.6,427.07 L241.56,427.07 L241.56,426.93 L242.51,426.93 L242.51,426.8 L243.47,426.8 L243.47,426.67 L244.42,426.67 L244.42,426.97 L245.38,426.97 L245.38,426.85 L246.33,426.85 L246.33,425.81 L247.29,425.81 L247.29,425.7 L248.24,425.7 L248.24,426 L249.2,426 L249.2,426.12 L250.2,426.12 L250.2,425.76 L251.2,425.76 L251.2,425.43 L252.2,425.43 L252.2,424.74 L253.2,424.74 L253.2,424.85 L254.2,424.85 L254.2,424.6 L255.2,424.6 L255.2,424.2 L256.2,424.2 L256.2,424.07 L257.17,424.07 L257.17,423.25 L258.14,423.25 L258.14,423.37 L259.11,423.37 L259.11,423.08 L260.09,423.08 L260.09,423.31 L261.06,423.31 L261.06,423.47 L262.03,423.47 L262.03,422.5 L263,422.5 L263,423.22 L264,423.22 L264,422.6 L265,422.6 L265,422.86 L266.03,422.86 L266.03,422.92 L267.07,422.92 L267.07,422.87 L268.1,422.87 L268.1,422.75 L269.13,422.75 L269.13,422.95 L270.17,422.95 L270.17,423.8 L271.2,423.8 L271.2,423.55 L272.22,423.55 L272.22,423.14 L273.23,423.14 L273.23,423.03 L274.25,423.03 L274.25,423.57 L275.27,423.57 L275.27,422.84 L276.28,422.84 L276.28,422.6 L277.3,422.6 L277.3,421.66 L278.33,421.66 L278.33,420.1 L279.37,420.1 L279.37,419.5 L280.4,419.5 L280.4,418.06 L281.32,418.06 L281.32,417.98 L282.24,417.98 L282.24,417.03 L283.16,417.03 L283.16,417.12 L284.08,417.12 L284.08,416.5 L285,416.5 L285,416.85 L285.92,416.85 L285.92,415.61 L286.84,415.61 L286.84,414 L287.76,414 L287.76,414.83 L288.68,414.83 L288.68,413.4 L289.6,413.4 L289.6,412.51 L290.63,412.51 L290.63,410.86 L291.67,410.86 L291.67,408.8 L292.7,408.8 L292.7,407.22 L293.73,407.22 L293.73,404.33 L294.77,404.33 L294.77,401.1 L295.8,401.1 L295.8,399.32 L296.8,399.32 L296.8,395.55 L297.8,395.55 L297.8,393.4 L298.8,393.4 L298.8,390.27 L300,390.27 L300,384.2 L301.2,384.2 L301.2,381.09 L301.95,381.09 L301.95,374.9 L302.7,374.9 L302.7,370.65 L303.85,370.65 L303.85,368.8 L305,368.8 L305,363.61 L306.15,363.61 L306.15,356.5 L307.3,356.5 L307.3,349.68 L308.45,349.68 L308.45,341.1 L309.6,341.1 L309.6,340.54 L310.75,340.54 L310.75,340.3 L311.9,340.3 L311.9,338.53 L312.9,338.53 L312.9,336.5 L313.9,336.5 L313.9,331.06 L314.7,331.06 L314.7,325.7 L315.5,325.7 L315.5,338 L316.5,338 L316.5,342.9 L317.3,342.9 L317.3,344.2 L318.1,344.2 L318.1,346.5 L318.85,346.5 L318.85,348.8 L319.6,348.8 L319.6,354.72 L320.75,354.72 L320.75,358 L321.9,358 L321.9,362.05 L323.05,362.05 L323.05,367.2 L324.2,367.2 L324.2,377.76 L325.35,377.76 L325.35,385.7 L326.5,385.7 L326.5,393.05 L327.53,393.05 L327.53,397.93 L328.57,397.93 L328.57,404.2 L329.6,404.2 L329.6,408.46 L330.63,408.46 L330.63,413.3 L331.67,413.3 L331.67,416.5 L332.7,416.5 L332.7,418.45 L333.62,418.45 L333.62,419.56 L334.54,419.56 L334.54,420.67 L335.46,420.67 L335.46,422.4 L336.38,422.4 L336.38,424.2 L337.3,424.2 L337.3,425.92 L338.45,425.92 L338.45,427.2 L339.6,427.2 L339.6,427.2 L240.6,427.2 Z" fill="#fff" stroke="#333" stroke-width="0.7"/>
<line x1="200" y1="411.5" x2="209" y2="411.5" stroke="#a8a8a8" stroke-width="0.9"/>
<line x1="200" y1="396.5" x2="209" y2="396.5" stroke="#a8a8a8" stroke-width="0.9"/>
<line x1="200" y1="381.5" x2="209" y2="381.5" stroke="#a8a8a8" stroke-width="0.9"/>
<line x1="200" y1="365.5" x2="209" y2="365.5" stroke="#a8a8a8" stroke-width="0.9"/>
<line x1="200" y1="350.5" x2="209" y2="350.5" stroke="#a8a8a8" stroke-width="0.9"/>
<line x1="200" y1="335.5" x2="209" y2="335.5" stroke="#a8a8a8" stroke-width="0.9"/>
<line x1="200" y1="320.5" x2="209" y2="320.5" stroke="#a8a8a8" stroke-width="0.9"/>
<line x1="209" y1="427.2" x2="209" y2="432.5" stroke="#777" stroke-width="0.75"/>
<line x1="233.36" y1="427.2" x2="233.36" y2="432.5" stroke="#777" stroke-width="0.75"/>
<line x1="257.73" y1="427.2" x2="257.73" y2="432.5" stroke="#777" stroke-width="0.75"/>
<line x1="282.09" y1="427.2" x2="282.09" y2="432.5" stroke="#777" stroke-width="0.75"/>
<line x1="306.45" y1="427.2" x2="306.45" y2="432.5" stroke="#777" stroke-width="0.75"/>
<line x1="330.82" y1="427.2" x2="330.82" y2="432.5" stroke="#777" stroke-width="0.75"/>
<line x1="216.33" y1="427.6" x2="216.33" y2="431" stroke="#888" stroke-width="0.6"/>
<line x1="220.62" y1="427.6" x2="220.62" y2="431" stroke="#888" stroke-width="0.6"/>
<line x1="223.67" y1="427.6" x2="223.67" y2="431" stroke="#888" stroke-width="0.6"/>
<line x1="226.03" y1="427.6" x2="226.03" y2="431" stroke="#888" stroke-width="0.6"/>
<line x1="227.96" y1="427.6" x2="227.96" y2="431" stroke="#888" stroke-width="0.6"/>
<line x1="229.59" y1="427.6" x2="229.59" y2="431" stroke="#888" stroke-width="0.6"/>
<line x1="231" y1="427.6" x2="231" y2="431" stroke="#888" stroke-width="0.6"/>
<line x1="232.25" y1="427.6" x2="232.25" y2="431" stroke="#888" stroke-width="0.6"/>
<line x1="240.7" y1="427.6" x2="240.7" y2="431" stroke="#888" stroke-width="0.6"/>
<line x1="244.99" y1="427.6" x2="244.99" y2="431" stroke="#888" stroke-width="0.6"/>
<line x1="248.03" y1="427.6" x2="248.03" y2="431" stroke="#888" stroke-width="0.6"/>
<line x1="250.39" y1="427.6" x2="250.39" y2="431" stroke="#888" stroke-width="0.6"/>
<line x1="252.32" y1="427.6" x2="252.32" y2="431" stroke="#888" stroke-width="0.6"/>
<line x1="253.95" y1="427.6" x2="253.95" y2="431" stroke="#888" stroke-width="0.6"/>
<line x1="255.37" y1="427.6" x2="255.37" y2="431" stroke="#888" stroke-width="0.6"/>
<line x1="256.61" y1="427.6" x2="256.61" y2="431" stroke="#888" stroke-width="0.6"/>
<line x1="265.06" y1="427.6" x2="265.06" y2="431" stroke="#888" stroke-width="0.6"/>
<line x1="269.35" y1="427.6" x2="269.35" y2="431" stroke="#888" stroke-width="0.6"/>
<line x1="272.39" y1="427.6" x2="272.39" y2="431" stroke="#888" stroke-width="0.6"/>
<line x1="274.76" y1="427.6" x2="274.76" y2="431" stroke="#888" stroke-width="0.6"/>
<line x1="276.68" y1="427.6" x2="276.68" y2="431" stroke="#888" stroke-width="0.6"/>
<line x1="278.32" y1="427.6" x2="278.32" y2="431" stroke="#888" stroke-width="0.6"/>
<line x1="279.73" y1="427.6" x2="279.73" y2="431" stroke="#888" stroke-width="0.6"/>
<line x1="280.97" y1="427.6" x2="280.97" y2="431" stroke="#888" stroke-width="0.6"/>
<line x1="289.42" y1="427.6" x2="289.42" y2="431" stroke="#888" stroke-width="0.6"/>
<line x1="293.71" y1="427.6" x2="293.71" y2="431" stroke="#888" stroke-width="0.6"/>
<line x1="296.76" y1="427.6" x2="296.76" y2="431" stroke="#888" stroke-width="0.6"/>
<line x1="299.12" y1="427.6" x2="299.12" y2="431" stroke="#888" stroke-width="0.6"/>
<line x1="301.05" y1="427.6" x2="301.05" y2="431" stroke="#888" stroke-width="0.6"/>
<line x1="302.68" y1="427.6" x2="302.68" y2="431" stroke="#888" stroke-width="0.6"/>
<line x1="304.09" y1="427.6" x2="304.09" y2="431" stroke="#888" stroke-width="0.6"/>
<line x1="305.34" y1="427.6" x2="305.34" y2="431" stroke="#888" stroke-width="0.6"/>
<line x1="313.79" y1="427.6" x2="313.79" y2="431" stroke="#888" stroke-width="0.6"/>
<line x1="318.08" y1="427.6" x2="318.08" y2="431" stroke="#888" stroke-width="0.6"/>
<line x1="321.12" y1="427.6" x2="321.12" y2="431" stroke="#888" stroke-width="0.6"/>
<line x1="323.48" y1="427.6" x2="323.48" y2="431" stroke="#888" stroke-width="0.6"/>
<line x1="325.41" y1="427.6" x2="325.41" y2="431" stroke="#888" stroke-width="0.6"/>
<line x1="327.04" y1="427.6" x2="327.04" y2="431" stroke="#888" stroke-width="0.6"/>
<line x1="328.46" y1="427.6" x2="328.46" y2="431" stroke="#888" stroke-width="0.6"/>
<line x1="329.7" y1="427.6" x2="329.7" y2="431" stroke="#888" stroke-width="0.6"/>
<line x1="338.15" y1="427.6" x2="338.15" y2="431" stroke="#888" stroke-width="0.6"/>
<line x1="209" y1="320" x2="209" y2="427.8" stroke="#858585" stroke-width="1.1"/>
<line x1="200" y1="427.2" x2="341" y2="427.2" stroke="#777" stroke-width="0.9"/>
<text transform="translate(227,439.7) scale(1,1.0)" class="xl">10</text>
<text transform="translate(237.2,438.6) scale(1,1.15)" class="xs">1</text>
<text transform="translate(275.7,439.7) scale(1,1.0)" class="xl">10</text>
<text transform="translate(285.9,438.6) scale(1,1.15)" class="xs">3</text>
<text transform="translate(324.4,439.7) scale(1,1.0)" class="xl">10</text>
<text transform="translate(336.1,438.6) scale(1,1.15)" class="xs">5</text>
<path d="M473.3,427 L473.3,404.5 L473.3,401.97 L474.27,401.97 L474.27,402.01 L475.23,402.01 L475.23,399.5 L476.2,399.5 L476.2,397.87 L477.35,397.87 L477.35,394.9 L478.5,394.9 L478.5,390.38 L479.65,390.38 L479.65,387.2 L480.8,387.2 L480.8,384.89 L481.95,384.89 L481.95,382.6 L483.1,382.6 L483.1,379.4 L484.25,379.4 L484.25,376.5 L485.4,376.5 L485.4,373.89 L486.55,373.89 L486.55,370.3 L487.7,370.3 L487.7,368.97 L488.85,368.97 L488.85,365.7 L490,365.7 L490,362.45 L491.15,362.45 L491.15,362 L492.3,362 L492.3,358.59 L493.18,358.59 L493.18,359.7 L494.05,359.7 L494.05,356.51 L494.93,356.51 L494.93,355 L495.8,355 L495.8,353.63 L496.7,353.63 L496.7,348.47 L497.6,348.47 L497.6,348 L498.5,348 L498.5,344.39 L499.25,344.39 L499.25,341.2 L500,341.2 L500,346.45 L500.9,346.45 L500.9,350 L501.8,350 L501.8,345.42 L502.6,345.42 L502.6,342.9 L503.4,342.9 L503.4,347.16 L504.45,347.16 L504.45,348 L505.5,348 L505.5,344.6 L506.8,344.6 L506.8,427 L506.8,427 L473.3,427 Z" fill="#777777" stroke="#555" stroke-width="0.5"/>
<path d="M416,427 L416,426.79 L416.85,426.79 L416.85,425.7 L417.7,425.7 L417.7,425.22 L418.72,425.22 L418.72,423.03 L419.73,423.03 L419.73,421.99 L420.75,421.99 L420.75,422.09 L421.77,422.09 L421.77,420.92 L422.78,420.92 L422.78,419.5 L423.8,419.5 L423.8,418.88 L424.74,418.88 L424.74,417.31 L425.68,417.31 L425.68,416.94 L426.62,416.94 L426.62,416.03 L427.56,416.03 L427.56,414.9 L428.5,414.9 L428.5,413.85 L429.42,413.85 L429.42,411.73 L430.34,411.73 L430.34,411.09 L431.26,411.09 L431.26,409.78 L432.18,409.78 L432.18,408.8 L433.1,408.8 L433.1,408.09 L434.02,408.09 L434.02,407.51 L434.94,407.51 L434.94,406.19 L435.86,406.19 L435.86,403.95 L436.78,403.95 L436.78,402.6 L437.7,402.6 L437.7,399.89 L438.73,399.89 L438.73,396.83 L439.77,396.83 L439.77,394.9 L440.8,394.9 L440.8,391.24 L441.95,391.24 L441.95,390.3 L443.1,390.3 L443.1,384.98 L443.85,384.98 L443.85,382.6 L444.6,382.6 L444.6,378.63 L445.75,378.63 L445.75,374.9 L446.9,374.9 L446.9,367.34 L448.05,367.34 L448.05,361.1 L449.2,361.1 L449.2,359.09 L450,359.09 L450,358 L450.8,358 L450.8,367.2 L451.5,367.2 L451.5,353.4 L452.3,353.4 L452.3,341.1 L453.1,341.1 L453.1,338.94 L453.85,338.94 L453.85,333.4 L454.6,333.4 L454.6,331.21 L455.4,331.21 L455.4,328.8 L456.2,328.8 L456.2,325.7 L457.4,325.7 L457.4,330.3 L458.5,330.3 L458.5,339.5 L459.2,339.5 L459.2,331.8 L460,331.8 L460,334.42 L461.15,334.42 L461.15,336.5 L462.3,336.5 L462.3,339.23 L463.05,339.23 L463.05,344.2 L463.8,344.2 L463.8,347.62 L465,347.62 L465,354.9 L466.2,354.9 L466.2,360.39 L467.35,360.39 L467.35,367.2 L468.5,367.2 L468.5,374.46 L469.65,374.46 L469.65,384.2 L470.8,384.2 L470.8,392.68 L471.95,392.68 L471.95,401.1 L473.1,401.1 L473.1,405.4 L473.85,405.4 L473.85,407.2 L474.6,407.2 L474.6,412.23 L475.75,412.23 L475.75,416.5 L476.9,416.5 L476.9,419.83 L478.05,419.83 L478.05,424.2 L479.2,424.2 L479.2,426.04 L480,426.04 L480,427 L480.8,427 L480.8,427 L416,427 Z" fill="#fff" stroke="#333" stroke-width="0.7"/>
<line x1="364.6" y1="411.5" x2="373.6" y2="411.5" stroke="#a8a8a8" stroke-width="0.9"/>
<line x1="364.6" y1="396.5" x2="373.6" y2="396.5" stroke="#a8a8a8" stroke-width="0.9"/>
<line x1="364.6" y1="381.5" x2="373.6" y2="381.5" stroke="#a8a8a8" stroke-width="0.9"/>
<line x1="364.6" y1="366.5" x2="373.6" y2="366.5" stroke="#a8a8a8" stroke-width="0.9"/>
<line x1="364.6" y1="350.5" x2="373.6" y2="350.5" stroke="#a8a8a8" stroke-width="0.9"/>
<line x1="364.6" y1="335.5" x2="373.6" y2="335.5" stroke="#a8a8a8" stroke-width="0.9"/>
<line x1="364.6" y1="320.5" x2="373.6" y2="320.5" stroke="#a8a8a8" stroke-width="0.9"/>
<line x1="373.6" y1="427" x2="373.6" y2="432.3" stroke="#777" stroke-width="0.75"/>
<line x1="398.18" y1="427" x2="398.18" y2="432.3" stroke="#777" stroke-width="0.75"/>
<line x1="422.77" y1="427" x2="422.77" y2="432.3" stroke="#777" stroke-width="0.75"/>
<line x1="447.35" y1="427" x2="447.35" y2="432.3" stroke="#777" stroke-width="0.75"/>
<line x1="471.94" y1="427" x2="471.94" y2="432.3" stroke="#777" stroke-width="0.75"/>
<line x1="496.52" y1="427" x2="496.52" y2="432.3" stroke="#777" stroke-width="0.75"/>
<line x1="381" y1="427.4" x2="381" y2="430.8" stroke="#888" stroke-width="0.6"/>
<line x1="385.33" y1="427.4" x2="385.33" y2="430.8" stroke="#888" stroke-width="0.6"/>
<line x1="388.4" y1="427.4" x2="388.4" y2="430.8" stroke="#888" stroke-width="0.6"/>
<line x1="390.78" y1="427.4" x2="390.78" y2="430.8" stroke="#888" stroke-width="0.6"/>
<line x1="392.73" y1="427.4" x2="392.73" y2="430.8" stroke="#888" stroke-width="0.6"/>
<line x1="394.38" y1="427.4" x2="394.38" y2="430.8" stroke="#888" stroke-width="0.6"/>
<line x1="395.8" y1="427.4" x2="395.8" y2="430.8" stroke="#888" stroke-width="0.6"/>
<line x1="397.06" y1="427.4" x2="397.06" y2="430.8" stroke="#888" stroke-width="0.6"/>
<line x1="405.59" y1="427.4" x2="405.59" y2="430.8" stroke="#888" stroke-width="0.6"/>
<line x1="409.91" y1="427.4" x2="409.91" y2="430.8" stroke="#888" stroke-width="0.6"/>
<line x1="412.99" y1="427.4" x2="412.99" y2="430.8" stroke="#888" stroke-width="0.6"/>
<line x1="415.37" y1="427.4" x2="415.37" y2="430.8" stroke="#888" stroke-width="0.6"/>
<line x1="417.32" y1="427.4" x2="417.32" y2="430.8" stroke="#888" stroke-width="0.6"/>
<line x1="418.96" y1="427.4" x2="418.96" y2="430.8" stroke="#888" stroke-width="0.6"/>
<line x1="420.39" y1="427.4" x2="420.39" y2="430.8" stroke="#888" stroke-width="0.6"/>
<line x1="421.64" y1="427.4" x2="421.64" y2="430.8" stroke="#888" stroke-width="0.6"/>
<line x1="430.17" y1="427.4" x2="430.17" y2="430.8" stroke="#888" stroke-width="0.6"/>
<line x1="434.5" y1="427.4" x2="434.5" y2="430.8" stroke="#888" stroke-width="0.6"/>
<line x1="437.57" y1="427.4" x2="437.57" y2="430.8" stroke="#888" stroke-width="0.6"/>
<line x1="439.95" y1="427.4" x2="439.95" y2="430.8" stroke="#888" stroke-width="0.6"/>
<line x1="441.9" y1="427.4" x2="441.9" y2="430.8" stroke="#888" stroke-width="0.6"/>
<line x1="443.55" y1="427.4" x2="443.55" y2="430.8" stroke="#888" stroke-width="0.6"/>
<line x1="444.97" y1="427.4" x2="444.97" y2="430.8" stroke="#888" stroke-width="0.6"/>
<line x1="446.23" y1="427.4" x2="446.23" y2="430.8" stroke="#888" stroke-width="0.6"/>
<line x1="454.75" y1="427.4" x2="454.75" y2="430.8" stroke="#888" stroke-width="0.6"/>
<line x1="459.08" y1="427.4" x2="459.08" y2="430.8" stroke="#888" stroke-width="0.6"/>
<line x1="462.16" y1="427.4" x2="462.16" y2="430.8" stroke="#888" stroke-width="0.6"/>
<line x1="464.54" y1="427.4" x2="464.54" y2="430.8" stroke="#888" stroke-width="0.6"/>
<line x1="466.48" y1="427.4" x2="466.48" y2="430.8" stroke="#888" stroke-width="0.6"/>
<line x1="468.13" y1="427.4" x2="468.13" y2="430.8" stroke="#888" stroke-width="0.6"/>
<line x1="469.56" y1="427.4" x2="469.56" y2="430.8" stroke="#888" stroke-width="0.6"/>
<line x1="470.81" y1="427.4" x2="470.81" y2="430.8" stroke="#888" stroke-width="0.6"/>
<line x1="479.34" y1="427.4" x2="479.34" y2="430.8" stroke="#888" stroke-width="0.6"/>
<line x1="483.67" y1="427.4" x2="483.67" y2="430.8" stroke="#888" stroke-width="0.6"/>
<line x1="486.74" y1="427.4" x2="486.74" y2="430.8" stroke="#888" stroke-width="0.6"/>
<line x1="489.12" y1="427.4" x2="489.12" y2="430.8" stroke="#888" stroke-width="0.6"/>
<line x1="491.07" y1="427.4" x2="491.07" y2="430.8" stroke="#888" stroke-width="0.6"/>
<line x1="492.72" y1="427.4" x2="492.72" y2="430.8" stroke="#888" stroke-width="0.6"/>
<line x1="494.14" y1="427.4" x2="494.14" y2="430.8" stroke="#888" stroke-width="0.6"/>
<line x1="495.4" y1="427.4" x2="495.4" y2="430.8" stroke="#888" stroke-width="0.6"/>
<line x1="503.92" y1="427.4" x2="503.92" y2="430.8" stroke="#888" stroke-width="0.6"/>
<line x1="373.6" y1="320.4" x2="373.6" y2="427.6" stroke="#858585" stroke-width="1.1"/>
<line x1="364.6" y1="427" x2="506.8" y2="427" stroke="#777" stroke-width="0.9"/>
<text transform="translate(391.8,439.7) scale(1,1.0)" class="xl">10</text>
<text transform="translate(402,438.6) scale(1,1.15)" class="xs">1</text>
<text transform="translate(441,439.7) scale(1,1.0)" class="xl">10</text>
<text transform="translate(451.2,438.6) scale(1,1.15)" class="xs">3</text>
<text transform="translate(490.1,439.7) scale(1,1.0)" class="xl">10</text>
<text transform="translate(501.8,438.6) scale(1,1.15)" class="xs">5</text>
<path d="M171.5,542.8 L171.5,484.6 L171.5,481.06 L172.5,481.06 L172.5,480 L173.5,480 L173.5,484 L174.5,484 L174.5,481.5 L175.7,481.5 L175.7,475.4 L176.6,475.4 L176.6,487 L177.2,487 L177.2,483.8 L178.5,483.8 L178.5,486.9 L179.25,486.9 L179.25,487.7 L180,487.7 L180,488.5 L181,488.5 L181,542.8 L181,542.8 L171.5,542.8 Z" fill="#777777" stroke="#555" stroke-width="0.5"/>
<path d="M97,542.8 L97,542.44 L98,542.44 L98,542.53 L99,542.53 L99,542.19 L100,542.19 L100,540.87 L101,540.87 L101,541 L102,541 L102,540.3 L103.06,540.3 L103.06,541.01 L104.12,541.01 L104.12,540.7 L105.18,540.7 L105.18,540.42 L106.24,540.42 L106.24,540 L107.3,540 L107.3,539.85 L108.24,539.85 L108.24,540.34 L109.18,540.34 L109.18,540.43 L110.12,540.43 L110.12,540.5 L111.06,540.5 L111.06,540.5 L112,540.5 L112,539.82 L112.95,539.82 L112.95,539.91 L113.9,539.91 L113.9,539.61 L114.85,539.61 L114.85,539.8 L115.8,539.8 L115.8,539.93 L116.75,539.93 L116.75,539 L117.7,539 L117.7,539.01 L118.85,539.01 L118.85,537.7 L120,537.7 L120,538.53 L121,538.53 L121,539.16 L122,539.16 L122,540 L123,540 L123,538.76 L123.94,538.76 L123.94,537.47 L124.88,537.47 L124.88,536.5 L125.82,536.5 L125.82,536.26 L126.76,536.26 L126.76,535.4 L127.7,535.4 L127.7,534.93 L128.62,534.93 L128.62,534.87 L129.54,534.87 L129.54,535.6 L130.46,535.6 L130.46,534.81 L131.38,534.81 L131.38,534.6 L132.3,534.6 L132.3,533.18 L133.33,533.18 L133.33,531.02 L134.37,531.02 L134.37,530 L135.4,530 L135.4,527.85 L136.35,527.85 L136.35,527.32 L137.3,527.32 L137.3,525.75 L138.25,525.75 L138.25,525.4 L139.2,525.4 L139.2,523.7 L140.15,523.7 L140.15,523.16 L141.1,523.16 L141.1,520.66 L142.05,520.66 L142.05,518.5 L143,518.5 L143,513.81 L144.07,513.81 L144.07,511.95 L145.13,511.95 L145.13,507 L146.2,507 L146.2,504.25 L147.2,504.25 L147.2,500.42 L148.2,500.42 L148.2,496 L149.2,496 L149.2,492.89 L150,492.89 L150,487 L150.8,487 L150.8,484.06 L151.55,484.06 L151.55,479.2 L152.3,479.2 L152.3,476.46 L153.45,476.46 L153.45,471.5 L154.6,471.5 L154.6,464 L155.8,464 L155.8,457.7 L157,457.7 L157,455.92 L158.1,455.92 L158.1,450 L159.2,450 L159.2,448.56 L160.2,448.56 L160.2,443 L161.2,443 L161.2,442.68 L162.1,442.68 L162.1,445.4 L163,445.4 L163,444.6 L164.2,444.6 L164.2,441.5 L165.4,441.5 L165.4,442.88 L166.2,442.88 L166.2,442.3 L167,442.3 L167,449.83 L167.75,449.83 L167.75,457.7 L168.5,457.7 L168.5,466.97 L169.25,466.97 L169.25,476 L170,476 L170,480.26 L170.75,480.26 L170.75,484.6 L171.5,484.6 L171.5,493.35 L172.25,493.35 L172.25,499.2 L173,499.2 L173,509.2 L174.2,509.2 L174.2,519.2 L175.4,519.2 L175.4,526.1 L176.55,526.1 L176.55,531.5 L177.7,531.5 L177.7,535.1 L178.85,535.1 L178.85,539.2 L180,539.2 L180,542.8 L181,542.8 L181,542.8 L97,542.8 Z" fill="#fff" stroke="#333" stroke-width="0.7"/>
<line x1="40.1" y1="527.5" x2="49.1" y2="527.5" stroke="#a8a8a8" stroke-width="0.9"/>
<line x1="40.1" y1="511.5" x2="49.1" y2="511.5" stroke="#a8a8a8" stroke-width="0.9"/>
<line x1="40.1" y1="496.5" x2="49.1" y2="496.5" stroke="#a8a8a8" stroke-width="0.9"/>
<line x1="40.1" y1="480.5" x2="49.1" y2="480.5" stroke="#a8a8a8" stroke-width="0.9"/>
<line x1="40.1" y1="465.5" x2="49.1" y2="465.5" stroke="#a8a8a8" stroke-width="0.9"/>
<line x1="40.1" y1="449.5" x2="49.1" y2="449.5" stroke="#a8a8a8" stroke-width="0.9"/>
<line x1="49.1" y1="542.8" x2="49.1" y2="548.1" stroke="#777" stroke-width="0.75"/>
<line x1="73.44" y1="542.8" x2="73.44" y2="548.1" stroke="#777" stroke-width="0.75"/>
<line x1="97.79" y1="542.8" x2="97.79" y2="548.1" stroke="#777" stroke-width="0.75"/>
<line x1="122.13" y1="542.8" x2="122.13" y2="548.1" stroke="#777" stroke-width="0.75"/>
<line x1="146.48" y1="542.8" x2="146.48" y2="548.1" stroke="#777" stroke-width="0.75"/>
<line x1="170.82" y1="542.8" x2="170.82" y2="548.1" stroke="#777" stroke-width="0.75"/>
<line x1="56.43" y1="543.2" x2="56.43" y2="546.6" stroke="#888" stroke-width="0.6"/>
<line x1="60.72" y1="543.2" x2="60.72" y2="546.6" stroke="#888" stroke-width="0.6"/>
<line x1="63.76" y1="543.2" x2="63.76" y2="546.6" stroke="#888" stroke-width="0.6"/>
<line x1="66.12" y1="543.2" x2="66.12" y2="546.6" stroke="#888" stroke-width="0.6"/>
<line x1="68.04" y1="543.2" x2="68.04" y2="546.6" stroke="#888" stroke-width="0.6"/>
<line x1="69.67" y1="543.2" x2="69.67" y2="546.6" stroke="#888" stroke-width="0.6"/>
<line x1="71.09" y1="543.2" x2="71.09" y2="546.6" stroke="#888" stroke-width="0.6"/>
<line x1="72.33" y1="543.2" x2="72.33" y2="546.6" stroke="#888" stroke-width="0.6"/>
<line x1="80.77" y1="543.2" x2="80.77" y2="546.6" stroke="#888" stroke-width="0.6"/>
<line x1="85.06" y1="543.2" x2="85.06" y2="546.6" stroke="#888" stroke-width="0.6"/>
<line x1="88.1" y1="543.2" x2="88.1" y2="546.6" stroke="#888" stroke-width="0.6"/>
<line x1="90.46" y1="543.2" x2="90.46" y2="546.6" stroke="#888" stroke-width="0.6"/>
<line x1="92.39" y1="543.2" x2="92.39" y2="546.6" stroke="#888" stroke-width="0.6"/>
<line x1="94.02" y1="543.2" x2="94.02" y2="546.6" stroke="#888" stroke-width="0.6"/>
<line x1="95.43" y1="543.2" x2="95.43" y2="546.6" stroke="#888" stroke-width="0.6"/>
<line x1="96.68" y1="543.2" x2="96.68" y2="546.6" stroke="#888" stroke-width="0.6"/>
<line x1="105.12" y1="543.2" x2="105.12" y2="546.6" stroke="#888" stroke-width="0.6"/>
<line x1="109.4" y1="543.2" x2="109.4" y2="546.6" stroke="#888" stroke-width="0.6"/>
<line x1="112.45" y1="543.2" x2="112.45" y2="546.6" stroke="#888" stroke-width="0.6"/>
<line x1="114.81" y1="543.2" x2="114.81" y2="546.6" stroke="#888" stroke-width="0.6"/>
<line x1="116.73" y1="543.2" x2="116.73" y2="546.6" stroke="#888" stroke-width="0.6"/>
<line x1="118.36" y1="543.2" x2="118.36" y2="546.6" stroke="#888" stroke-width="0.6"/>
<line x1="119.78" y1="543.2" x2="119.78" y2="546.6" stroke="#888" stroke-width="0.6"/>
<line x1="121.02" y1="543.2" x2="121.02" y2="546.6" stroke="#888" stroke-width="0.6"/>
<line x1="129.46" y1="543.2" x2="129.46" y2="546.6" stroke="#888" stroke-width="0.6"/>
<line x1="133.75" y1="543.2" x2="133.75" y2="546.6" stroke="#888" stroke-width="0.6"/>
<line x1="136.79" y1="543.2" x2="136.79" y2="546.6" stroke="#888" stroke-width="0.6"/>
<line x1="139.15" y1="543.2" x2="139.15" y2="546.6" stroke="#888" stroke-width="0.6"/>
<line x1="141.08" y1="543.2" x2="141.08" y2="546.6" stroke="#888" stroke-width="0.6"/>
<line x1="142.71" y1="543.2" x2="142.71" y2="546.6" stroke="#888" stroke-width="0.6"/>
<line x1="144.12" y1="543.2" x2="144.12" y2="546.6" stroke="#888" stroke-width="0.6"/>
<line x1="145.37" y1="543.2" x2="145.37" y2="546.6" stroke="#888" stroke-width="0.6"/>
<line x1="153.81" y1="543.2" x2="153.81" y2="546.6" stroke="#888" stroke-width="0.6"/>
<line x1="158.09" y1="543.2" x2="158.09" y2="546.6" stroke="#888" stroke-width="0.6"/>
<line x1="161.14" y1="543.2" x2="161.14" y2="546.6" stroke="#888" stroke-width="0.6"/>
<line x1="163.5" y1="543.2" x2="163.5" y2="546.6" stroke="#888" stroke-width="0.6"/>
<line x1="165.42" y1="543.2" x2="165.42" y2="546.6" stroke="#888" stroke-width="0.6"/>
<line x1="167.05" y1="543.2" x2="167.05" y2="546.6" stroke="#888" stroke-width="0.6"/>
<line x1="168.46" y1="543.2" x2="168.46" y2="546.6" stroke="#888" stroke-width="0.6"/>
<line x1="169.71" y1="543.2" x2="169.71" y2="546.6" stroke="#888" stroke-width="0.6"/>
<line x1="178.15" y1="543.2" x2="178.15" y2="546.6" stroke="#888" stroke-width="0.6"/>
<line x1="49.1" y1="442.4" x2="49.1" y2="543.4" stroke="#4a4a4a" stroke-width="1.3"/>
<line x1="40.1" y1="542.8" x2="181" y2="542.8" stroke="#777" stroke-width="0.9"/>
<text transform="translate(67,555.6) scale(1,1.0)" class="xl">10</text>
<text transform="translate(77.2,554.5) scale(1,1.15)" class="xs">1</text>
<text transform="translate(115.7,555.6) scale(1,1.0)" class="xl">10</text>
<text transform="translate(125.9,554.5) scale(1,1.15)" class="xs">3</text>
<text transform="translate(164.4,555.6) scale(1,1.0)" class="xl">10</text>
<text transform="translate(176.1,554.5) scale(1,1.15)" class="xs">5</text>
<text transform="translate(33,452) rotate(-90) scale(1,1.22)" class="yl">300</text>
<text transform="translate(33,482.8) rotate(-90) scale(1,1.22)" class="yl">200</text>
<text transform="translate(33,513.6) rotate(-90) scale(1,1.22)" class="yl">100</text>
<path d="M327,542.6 L327,494.5 L327,487.97 L327.9,487.97 L327.9,483.8 L328.8,483.8 L328.8,486.45 L329.6,486.45 L329.6,486.8 L330.4,486.8 L330.4,485.38 L331.55,485.38 L331.55,482.2 L332.7,482.2 L332.7,479.86 L333.85,479.86 L333.85,479.2 L335,479.2 L335,482.23 L335.75,482.23 L335.75,485.3 L336.5,485.3 L336.5,476.1 L337.6,476.1 L337.6,483.8 L338.8,483.8 L338.8,485.13 L339.6,485.13 L339.6,486.8 L340.4,486.8 L340.4,488.09 L341.2,488.09 L341.2,488.4 L342,488.4 L342,542.6 L342,542.6 L327,542.6 Z" fill="#777777" stroke="#555" stroke-width="0.5"/>
<path d="M254.4,542.6 L254.4,542.39 L255.3,542.39 L255.3,541.79 L256.2,541.79 L256.2,540.12 L257.1,540.12 L257.1,540 L258,540 L258,538.77 L259.1,538.77 L259.1,539.14 L260.2,539.14 L260.2,538 L261.3,538 L261.3,538.25 L262.23,538.25 L262.22,538.05 L263.15,538.05 L263.15,537.41 L264.07,537.41 L264.07,537.6 L265,537.6 L265,537.3 L265.92,537.3 L265.92,536.85 L266.84,536.85 L266.84,536.35 L267.76,536.35 L267.76,535.19 L268.68,535.19 L268.68,535.3 L269.6,535.3 L269.6,536.22 L270.63,536.22 L270.63,537.2 L271.67,537.2 L271.67,538.4 L272.7,538.4 L272.7,538.57 L273.62,538.57 L273.62,538.81 L274.54,538.81 L274.54,538.59 L275.46,538.59 L275.46,537.83 L276.38,537.83 L276.38,537.6 L277.3,537.6 L277.3,536.89 L278.22,536.89 L278.22,535.98 L279.14,535.98 L279.14,534.97 L280.06,534.97 L280.06,534.31 L280.98,534.31 L280.98,534.5 L281.9,534.5 L281.9,533.84 L282.82,533.84 L282.82,532.97 L283.74,532.97 L283.74,532.48 L284.66,532.48 L284.66,532.85 L285.58,532.85 L285.58,531.5 L286.5,531.5 L286.5,530.93 L287.44,530.93 L287.44,530.38 L288.38,530.38 L288.38,529.1 L289.32,529.1 L289.32,528.03 L290.26,528.03 L290.26,528.4 L291.2,528.4 L291.2,526.87 L292.15,526.87 L292.15,525.29 L293.1,525.29 L293.1,524.97 L294.05,524.97 L294.05,523.8 L295,523.8 L295,521.19 L296.15,521.19 L296.15,516.1 L297.3,516.1 L297.3,514.51 L298.33,514.51 L298.33,511.08 L299.37,511.08 L299.37,509.9 L300.4,509.9 L300.4,508.02 L301.55,508.02 L301.55,503.8 L302.7,503.8 L302.7,500.1 L303.85,500.1 L303.85,494.5 L305,494.5 L305,487.68 L306.15,487.68 L306.15,479.2 L307.3,479.2 L307.3,476.11 L308.45,476.11 L308.45,469.9 L309.6,469.9 L309.6,464.08 L310.75,464.08 L310.75,456.1 L311.9,456.1 L311.9,454.25 L313.05,454.25 L313.05,449.9 L314.2,449.9 L314.2,447.7 L315,447.7 L315,446.8 L315.8,446.8 L315.8,436.1 L316.5,436.1 L316.5,446.8 L317.6,446.8 L317.6,451.5 L318.8,451.5 L318.8,455.08 L319.6,455.08 L319.6,454.5 L320.4,454.5 L320.4,460.29 L321.3,460.29 L321.3,462.2 L322.2,462.2 L322.2,463.8 L323.5,463.8 L323.5,467.05 L324.25,467.05 L324.25,473 L325,473 L325,479.35 L325.75,479.35 L325.75,483.8 L326.5,483.8 L326.5,493 L327.3,493 L327.3,502.12 L328.45,502.12 L328.45,509.9 L329.6,509.9 L329.6,514.93 L330.63,514.93 L330.63,520.24 L331.67,520.24 L331.67,525.3 L332.7,525.3 L332.7,528.75 L333.65,528.75 L333.65,533.06 L334.6,533.06 L334.6,535.73 L335.55,535.73 L335.55,539.2 L336.5,539.2 L336.5,542.6 L337.5,542.6 L337.5,542.6 L254.4,542.6 Z" fill="#fff" stroke="#333" stroke-width="0.7"/>
<line x1="200.2" y1="450.5" x2="209.2" y2="450.5" stroke="#a8a8a8" stroke-width="0.9"/>
<line x1="200.2" y1="465.5" x2="209.2" y2="465.5" stroke="#a8a8a8" stroke-width="0.9"/>
<line x1="200.2" y1="481.5" x2="209.2" y2="481.5" stroke="#a8a8a8" stroke-width="0.9"/>
<line x1="200.2" y1="496.5" x2="209.2" y2="496.5" stroke="#a8a8a8" stroke-width="0.9"/>
<line x1="200.2" y1="511.5" x2="209.2" y2="511.5" stroke="#a8a8a8" stroke-width="0.9"/>
<line x1="200.2" y1="527.5" x2="209.2" y2="527.5" stroke="#a8a8a8" stroke-width="0.9"/>
<line x1="209.2" y1="542.6" x2="209.2" y2="547.9" stroke="#777" stroke-width="0.75"/>
<line x1="233.71" y1="542.6" x2="233.71" y2="547.9" stroke="#777" stroke-width="0.75"/>
<line x1="258.22" y1="542.6" x2="258.22" y2="547.9" stroke="#777" stroke-width="0.75"/>
<line x1="282.73" y1="542.6" x2="282.73" y2="547.9" stroke="#777" stroke-width="0.75"/>
<line x1="307.24" y1="542.6" x2="307.24" y2="547.9" stroke="#777" stroke-width="0.75"/>
<line x1="331.75" y1="542.6" x2="331.75" y2="547.9" stroke="#777" stroke-width="0.75"/>
<line x1="216.58" y1="543" x2="216.58" y2="546.4" stroke="#888" stroke-width="0.6"/>
<line x1="220.89" y1="543" x2="220.89" y2="546.4" stroke="#888" stroke-width="0.6"/>
<line x1="223.96" y1="543" x2="223.96" y2="546.4" stroke="#888" stroke-width="0.6"/>
<line x1="226.33" y1="543" x2="226.33" y2="546.4" stroke="#888" stroke-width="0.6"/>
<line x1="228.27" y1="543" x2="228.27" y2="546.4" stroke="#888" stroke-width="0.6"/>
<line x1="229.91" y1="543" x2="229.91" y2="546.4" stroke="#888" stroke-width="0.6"/>
<line x1="231.34" y1="543" x2="231.34" y2="546.4" stroke="#888" stroke-width="0.6"/>
<line x1="232.59" y1="543" x2="232.59" y2="546.4" stroke="#888" stroke-width="0.6"/>
<line x1="241.09" y1="543" x2="241.09" y2="546.4" stroke="#888" stroke-width="0.6"/>
<line x1="245.41" y1="543" x2="245.41" y2="546.4" stroke="#888" stroke-width="0.6"/>
<line x1="248.47" y1="543" x2="248.47" y2="546.4" stroke="#888" stroke-width="0.6"/>
<line x1="250.84" y1="543" x2="250.84" y2="546.4" stroke="#888" stroke-width="0.6"/>
<line x1="252.78" y1="543" x2="252.78" y2="546.4" stroke="#888" stroke-width="0.6"/>
<line x1="254.42" y1="543" x2="254.42" y2="546.4" stroke="#888" stroke-width="0.6"/>
<line x1="255.85" y1="543" x2="255.85" y2="546.4" stroke="#888" stroke-width="0.6"/>
<line x1="257.1" y1="543" x2="257.1" y2="546.4" stroke="#888" stroke-width="0.6"/>
<line x1="265.6" y1="543" x2="265.6" y2="546.4" stroke="#888" stroke-width="0.6"/>
<line x1="269.92" y1="543" x2="269.92" y2="546.4" stroke="#888" stroke-width="0.6"/>
<line x1="272.98" y1="543" x2="272.98" y2="546.4" stroke="#888" stroke-width="0.6"/>
<line x1="275.35" y1="543" x2="275.35" y2="546.4" stroke="#888" stroke-width="0.6"/>
<line x1="277.29" y1="543" x2="277.29" y2="546.4" stroke="#888" stroke-width="0.6"/>
<line x1="278.94" y1="543" x2="278.94" y2="546.4" stroke="#888" stroke-width="0.6"/>
<line x1="280.36" y1="543" x2="280.36" y2="546.4" stroke="#888" stroke-width="0.6"/>
<line x1="281.61" y1="543" x2="281.61" y2="546.4" stroke="#888" stroke-width="0.6"/>
<line x1="290.11" y1="543" x2="290.11" y2="546.4" stroke="#888" stroke-width="0.6"/>
<line x1="294.43" y1="543" x2="294.43" y2="546.4" stroke="#888" stroke-width="0.6"/>
<line x1="297.49" y1="543" x2="297.49" y2="546.4" stroke="#888" stroke-width="0.6"/>
<line x1="299.87" y1="543" x2="299.87" y2="546.4" stroke="#888" stroke-width="0.6"/>
<line x1="301.81" y1="543" x2="301.81" y2="546.4" stroke="#888" stroke-width="0.6"/>
<line x1="303.45" y1="543" x2="303.45" y2="546.4" stroke="#888" stroke-width="0.6"/>
<line x1="304.87" y1="543" x2="304.87" y2="546.4" stroke="#888" stroke-width="0.6"/>
<line x1="306.12" y1="543" x2="306.12" y2="546.4" stroke="#888" stroke-width="0.6"/>
<line x1="314.62" y1="543" x2="314.62" y2="546.4" stroke="#888" stroke-width="0.6"/>
<line x1="318.94" y1="543" x2="318.94" y2="546.4" stroke="#888" stroke-width="0.6"/>
<line x1="322" y1="543" x2="322" y2="546.4" stroke="#888" stroke-width="0.6"/>
<line x1="324.38" y1="543" x2="324.38" y2="546.4" stroke="#888" stroke-width="0.6"/>
<line x1="326.32" y1="543" x2="326.32" y2="546.4" stroke="#888" stroke-width="0.6"/>
<line x1="327.96" y1="543" x2="327.96" y2="546.4" stroke="#888" stroke-width="0.6"/>
<line x1="329.38" y1="543" x2="329.38" y2="546.4" stroke="#888" stroke-width="0.6"/>
<line x1="330.63" y1="543" x2="330.63" y2="546.4" stroke="#888" stroke-width="0.6"/>
<line x1="339.13" y1="543" x2="339.13" y2="546.4" stroke="#888" stroke-width="0.6"/>
<line x1="209.2" y1="434.5" x2="209.2" y2="543.2" stroke="#858585" stroke-width="1.1"/>
<line x1="200.2" y1="542.6" x2="342" y2="542.6" stroke="#777" stroke-width="0.9"/>
<text transform="translate(227.3,555.2) scale(1,1.0)" class="xl">10</text>
<text transform="translate(237.5,554.1) scale(1,1.15)" class="xs">1</text>
<text transform="translate(276.3,555.2) scale(1,1.0)" class="xl">10</text>
<text transform="translate(286.5,554.1) scale(1,1.15)" class="xs">3</text>
<text transform="translate(325.4,555.2) scale(1,1.0)" class="xl">10</text>
<text transform="translate(337.1,554.1) scale(1,1.15)" class="xs">5</text>
<path d="M474.6,542.5 L474.6,516.5 L474.6,512.51 L475.63,512.51 L475.63,511.28 L476.67,511.28 L476.67,507.3 L477.7,507.3 L477.7,507.27 L478.85,507.27 L478.85,505.8 L480,505.8 L480,503.56 L481.15,503.56 L481.15,502.7 L482.3,502.7 L482.3,503.44 L483.45,503.44 L483.45,504.2 L484.6,504.2 L484.6,501.75 L485.75,501.75 L485.75,499.6 L486.9,499.6 L486.9,498.5 L488.05,498.5 L488.05,496.5 L489.2,496.5 L489.2,494.15 L490.1,494.15 L490.1,490 L491,490 L491,485.4 L492.3,485.4 L492.3,483.17 L493.18,483.17 L493.18,482.07 L494.05,482.07 L494.05,483.9 L494.93,483.9 L494.93,481.9 L495.8,481.9 L495.8,480.54 L496.7,480.54 L496.7,480.53 L497.6,480.53 L497.6,478.5 L498.5,478.5 L498.5,475.01 L499.75,475.01 L499.75,475 L501,475 L501,478.31 L502,478.31 L502,482 L503,482 L503,484.44 L504.25,484.44 L504.25,485.4 L505.5,485.4 L505.5,488.8 L506.2,488.8 L506.2,542.5 L506.2,542.5 L474.6,542.5 Z" fill="#777777" stroke="#555" stroke-width="0.5"/>
<path d="M416.5,542.5 L416.5,541.2 L417.7,541.2 L417.7,540.82 L418.62,540.82 L418.62,539.92 L419.54,539.92 L419.54,537.74 L420.46,537.74 L420.46,536.81 L421.38,536.81 L421.38,536.5 L422.3,536.5 L422.3,536.05 L423.33,536.05 L423.33,534.88 L424.37,534.88 L424.37,533.76 L425.4,533.76 L425.4,532.07 L426.43,532.07 L426.43,531.62 L427.47,531.62 L427.47,530.4 L428.5,530.4 L428.5,529.34 L429.52,529.34 L429.52,528.01 L430.53,528.01 L430.53,525.8 L431.55,525.8 L431.55,525.11 L432.57,525.11 L432.57,523.74 L433.58,523.74 L433.58,522.7 L434.6,522.7 L434.6,522.3 L435.52,522.3 L435.52,522.03 L436.44,522.03 L436.44,521 L437.36,521 L437.36,519.05 L438.28,519.05 L438.28,518 L439.2,518 L439.2,516.36 L440.23,516.36 L440.23,514.38 L441.27,514.38 L441.27,513.5 L442.3,513.5 L442.3,507.5 L443.05,507.5 L443.05,504.2 L443.8,504.2 L443.8,500.16 L444.83,500.16 L444.83,498.95 L445.87,498.95 L445.87,496.5 L446.9,496.5 L446.9,491.28 L448.05,491.28 L448.05,487.3 L449.2,487.3 L449.2,482.21 L450,482.21 L450,478 L450.8,478 L450.8,475.71 L451.95,475.71 L451.95,470.4 L453.1,470.4 L453.1,465.1 L454.25,465.1 L454.25,459.6 L455.4,459.6 L455.4,457.56 L456.15,457.56 L456.15,455 L456.9,455 L456.9,450.75 L457.7,450.75 L457.7,448.8 L458.5,448.8 L458.5,446.5 L459.5,446.5 L459.5,444.13 L460.25,444.13 L460.25,446 L461,446 L461,448 L462.3,448 L462.3,449.99 L463.05,449.99 L463.05,453.5 L463.8,453.5 L463.8,457.33 L464.6,457.33 L464.6,464.2 L465.4,464.2 L465.4,468.89 L466.55,468.89 L466.55,473.5 L467.7,473.5 L467.7,479.23 L468.45,479.23 L468.45,481.2 L469.2,481.2 L469.2,489.46 L470.35,489.46 L470.35,496.5 L471.5,496.5 L471.5,497.02 L472.3,497.02 L472.3,499.6 L473.1,499.6 L473.1,508.8 L473.8,508.8 L473.8,516.06 L474.6,516.06 L474.6,521.2 L475.4,521.2 L475.4,527.2 L476.55,527.2 L476.55,531.9 L477.7,531.9 L477.7,534.88 L478.73,534.88 L478.73,537.67 L479.77,537.67 L479.77,539.6 L480.8,539.6 L480.8,541.34 L481.95,541.34 L481.95,542.5 L483.1,542.5 L483.1,542.5 L416.5,542.5 Z" fill="#fff" stroke="#333" stroke-width="0.7"/>
<line x1="364.9" y1="449.5" x2="373.9" y2="449.5" stroke="#a8a8a8" stroke-width="0.9"/>
<line x1="364.9" y1="465.5" x2="373.9" y2="465.5" stroke="#a8a8a8" stroke-width="0.9"/>
<line x1="364.9" y1="480.5" x2="373.9" y2="480.5" stroke="#a8a8a8" stroke-width="0.9"/>
<line x1="364.9" y1="496.5" x2="373.9" y2="496.5" stroke="#a8a8a8" stroke-width="0.9"/>
<line x1="364.9" y1="511.5" x2="373.9" y2="511.5" stroke="#a8a8a8" stroke-width="0.9"/>
<line x1="364.9" y1="527.5" x2="373.9" y2="527.5" stroke="#a8a8a8" stroke-width="0.9"/>
<line x1="373.9" y1="542.5" x2="373.9" y2="547.8" stroke="#777" stroke-width="0.75"/>
<line x1="398.32" y1="542.5" x2="398.32" y2="547.8" stroke="#777" stroke-width="0.75"/>
<line x1="422.74" y1="542.5" x2="422.74" y2="547.8" stroke="#777" stroke-width="0.75"/>
<line x1="447.16" y1="542.5" x2="447.16" y2="547.8" stroke="#777" stroke-width="0.75"/>
<line x1="471.57" y1="542.5" x2="471.57" y2="547.8" stroke="#777" stroke-width="0.75"/>
<line x1="495.99" y1="542.5" x2="495.99" y2="547.8" stroke="#777" stroke-width="0.75"/>
<line x1="381.25" y1="542.9" x2="381.25" y2="546.3" stroke="#888" stroke-width="0.6"/>
<line x1="385.55" y1="542.9" x2="385.55" y2="546.3" stroke="#888" stroke-width="0.6"/>
<line x1="388.6" y1="542.9" x2="388.6" y2="546.3" stroke="#888" stroke-width="0.6"/>
<line x1="390.97" y1="542.9" x2="390.97" y2="546.3" stroke="#888" stroke-width="0.6"/>
<line x1="392.9" y1="542.9" x2="392.9" y2="546.3" stroke="#888" stroke-width="0.6"/>
<line x1="394.54" y1="542.9" x2="394.54" y2="546.3" stroke="#888" stroke-width="0.6"/>
<line x1="395.95" y1="542.9" x2="395.95" y2="546.3" stroke="#888" stroke-width="0.6"/>
<line x1="397.2" y1="542.9" x2="397.2" y2="546.3" stroke="#888" stroke-width="0.6"/>
<line x1="405.67" y1="542.9" x2="405.67" y2="546.3" stroke="#888" stroke-width="0.6"/>
<line x1="409.97" y1="542.9" x2="409.97" y2="546.3" stroke="#888" stroke-width="0.6"/>
<line x1="413.02" y1="542.9" x2="413.02" y2="546.3" stroke="#888" stroke-width="0.6"/>
<line x1="415.39" y1="542.9" x2="415.39" y2="546.3" stroke="#888" stroke-width="0.6"/>
<line x1="417.32" y1="542.9" x2="417.32" y2="546.3" stroke="#888" stroke-width="0.6"/>
<line x1="418.95" y1="542.9" x2="418.95" y2="546.3" stroke="#888" stroke-width="0.6"/>
<line x1="420.37" y1="542.9" x2="420.37" y2="546.3" stroke="#888" stroke-width="0.6"/>
<line x1="421.62" y1="542.9" x2="421.62" y2="546.3" stroke="#888" stroke-width="0.6"/>
<line x1="430.09" y1="542.9" x2="430.09" y2="546.3" stroke="#888" stroke-width="0.6"/>
<line x1="434.39" y1="542.9" x2="434.39" y2="546.3" stroke="#888" stroke-width="0.6"/>
<line x1="437.44" y1="542.9" x2="437.44" y2="546.3" stroke="#888" stroke-width="0.6"/>
<line x1="439.81" y1="542.9" x2="439.81" y2="546.3" stroke="#888" stroke-width="0.6"/>
<line x1="441.74" y1="542.9" x2="441.74" y2="546.3" stroke="#888" stroke-width="0.6"/>
<line x1="443.37" y1="542.9" x2="443.37" y2="546.3" stroke="#888" stroke-width="0.6"/>
<line x1="444.79" y1="542.9" x2="444.79" y2="546.3" stroke="#888" stroke-width="0.6"/>
<line x1="446.04" y1="542.9" x2="446.04" y2="546.3" stroke="#888" stroke-width="0.6"/>
<line x1="454.51" y1="542.9" x2="454.51" y2="546.3" stroke="#888" stroke-width="0.6"/>
<line x1="458.81" y1="542.9" x2="458.81" y2="546.3" stroke="#888" stroke-width="0.6"/>
<line x1="461.86" y1="542.9" x2="461.86" y2="546.3" stroke="#888" stroke-width="0.6"/>
<line x1="464.22" y1="542.9" x2="464.22" y2="546.3" stroke="#888" stroke-width="0.6"/>
<line x1="466.16" y1="542.9" x2="466.16" y2="546.3" stroke="#888" stroke-width="0.6"/>
<line x1="467.79" y1="542.9" x2="467.79" y2="546.3" stroke="#888" stroke-width="0.6"/>
<line x1="469.21" y1="542.9" x2="469.21" y2="546.3" stroke="#888" stroke-width="0.6"/>
<line x1="470.46" y1="542.9" x2="470.46" y2="546.3" stroke="#888" stroke-width="0.6"/>
<line x1="478.93" y1="542.9" x2="478.93" y2="546.3" stroke="#888" stroke-width="0.6"/>
<line x1="483.23" y1="542.9" x2="483.23" y2="546.3" stroke="#888" stroke-width="0.6"/>
<line x1="486.28" y1="542.9" x2="486.28" y2="546.3" stroke="#888" stroke-width="0.6"/>
<line x1="488.64" y1="542.9" x2="488.64" y2="546.3" stroke="#888" stroke-width="0.6"/>
<line x1="490.58" y1="542.9" x2="490.58" y2="546.3" stroke="#888" stroke-width="0.6"/>
<line x1="492.21" y1="542.9" x2="492.21" y2="546.3" stroke="#888" stroke-width="0.6"/>
<line x1="493.63" y1="542.9" x2="493.63" y2="546.3" stroke="#888" stroke-width="0.6"/>
<line x1="494.88" y1="542.9" x2="494.88" y2="546.3" stroke="#888" stroke-width="0.6"/>
<line x1="503.34" y1="542.9" x2="503.34" y2="546.3" stroke="#888" stroke-width="0.6"/>
<line x1="373.9" y1="433.5" x2="373.9" y2="543.1" stroke="#858585" stroke-width="1.1"/>
<line x1="364.9" y1="542.5" x2="506.2" y2="542.5" stroke="#777" stroke-width="0.9"/>
<text transform="translate(391.9,555.2) scale(1,1.0)" class="xl">10</text>
<text transform="translate(402.1,554.1) scale(1,1.15)" class="xs">1</text>
<text transform="translate(440.8,555.2) scale(1,1.0)" class="xl">10</text>
<text transform="translate(451,554.1) scale(1,1.15)" class="xs">3</text>
<text transform="translate(489.6,555.2) scale(1,1.0)" class="xl">10</text>
<text transform="translate(501.3,554.1) scale(1,1.15)" class="xs">5</text>
<path d="M139,734.2 L139,733.14 L140.07,733.14 L140.07,733.09 L141.13,733.09 L141.13,732 L142.2,732 L142.2,731.33 L143.13,731.33 L143.13,729.67 L144.07,729.67 L144.07,729 L145,729 L145,725.24 L146.25,725.24 L146.25,721.5 L147.5,721.5 L147.5,718.15 L148.35,718.15 L148.35,715 L149.2,715 L149.2,710.36 L149.95,710.36 L149.95,705 L150.7,705 L150.7,693 L152,693 L152,689.12 L152.9,689.12 L152.9,683.5 L153.8,683.5 L153.8,670 L155,670 L155,655 L156,655 L156,640 L157,640 L157,627.4 L158,627.4 L158,633 L159,633 L159,641 L160.2,641 L160.2,649 L161.5,649 L161.5,653.97 L162.45,653.97 L162.45,662 L163.4,662 L163.4,672 L164.8,672 L164.8,683.5 L166.1,683.5 L166.1,687.33 L167.05,687.33 L167.05,694 L168,694 L168,700.41 L168.85,700.41 L168.85,705 L169.7,705 L169.7,709.84 L170.75,709.84 L170.75,715 L171.8,715 L171.8,718.78 L172.9,718.78 L172.9,721.5 L174,721.5 L174,721.85 L174.75,721.85 L174.75,724 L175.5,724 L175.5,729.02 L176.75,729.02 L176.75,734.2 L178,734.2 L178,734.2 L139,734.2 Z" fill="#777777" stroke="#555" stroke-width="0.5"/>
<path d="M158,734.2 L158,733.78 L159.07,733.78 L159.07,733.81 L160.15,733.81 L160.15,733.41 L161.23,733.41 L161.23,732.5 L162.3,732.5 L162.3,731.46 L163.24,731.46 L163.24,730.97 L164.18,730.97 L164.18,731.45 L165.12,731.45 L165.12,730.83 L166.06,730.83 L166.06,730 L167,730 L167,729.83 L167.96,729.83 L167.96,728.87 L168.92,728.87 L168.92,728.9 L169.88,728.9 L169.88,728.49 L170.84,728.49 L170.84,727.9 L171.8,727.9 L171.8,726.99 L172.7,726.99 L172.7,725.19 L173.6,725.19 L173.6,724.62 L174.5,724.62 L174.5,723.7 L175.4,723.7 L175.4,722.05 L176.33,722.05 L176.33,721.29 L177.27,721.29 L177.27,719.4 L178.2,719.4 L178.2,717.01 L179.23,717.01 L179.23,713.44 L180.27,713.44 L180.27,708.8 L181.3,708.8 L181.3,706.82 L182.4,706.82 L182.4,704.6 L183.5,704.6 L183.5,703.65 L184.55,703.65 L184.55,702.35 L185.6,702.35 L185.6,700.88 L186.65,700.88 L186.65,701.4 L187.7,701.4 L187.7,698.72 L188.75,698.72 L188.75,698.7 L189.8,698.7 L189.8,696.96 L190.85,696.96 L190.85,696.2 L191.9,696.2 L191.9,695.03 L192.97,695.03 L192.98,695.81 L194.05,695.81 L194.05,693.88 L195.12,693.88 L195.12,693 L196.2,693 L196.2,691.43 L197.23,691.43 L197.23,688.61 L198.27,688.61 L198.27,687.7 L199.3,687.7 L199.3,682.89 L200.35,682.89 L200.35,681.3 L201.4,681.3 L201.4,679.64 L202.5,679.64 L202.5,679.2 L203.6,679.2 L203.6,677.5 L204.6,677.5 L204.6,677.62 L205.65,677.62 L205.65,680.3 L206.7,680.3 L206.7,679.79 L207.8,679.79 L207.8,679.2 L208.9,679.2 L208.9,694 L209.9,694 L209.9,680.3 L211,680.3 L211,691.95 L212.05,691.95 L212.05,700.4 L213.1,700.4 L213.1,706.17 L214.15,706.17 L214.15,711 L215.2,711 L215.2,715.52 L216.25,715.52 L216.25,721.5 L217.3,721.5 L217.3,726.45 L218.35,726.45 L218.35,730 L219.4,730 L219.4,732.46 L220.45,732.46 L220.45,734.2 L221.5,734.2 L221.5,734.2 L158,734.2 Z" fill="#fff" stroke="#333" stroke-width="0.7"/>
<line x1="90.1" y1="634.5" x2="96.3" y2="634.5" stroke="#a8a8a8" stroke-width="0.9"/>
<line x1="90.1" y1="649.5" x2="96.3" y2="649.5" stroke="#a8a8a8" stroke-width="0.9"/>
<line x1="90.1" y1="663.5" x2="96.3" y2="663.5" stroke="#a8a8a8" stroke-width="0.9"/>
<line x1="90.1" y1="677.5" x2="96.3" y2="677.5" stroke="#a8a8a8" stroke-width="0.9"/>
<line x1="90.1" y1="692.5" x2="96.3" y2="692.5" stroke="#a8a8a8" stroke-width="0.9"/>
<line x1="90.1" y1="706.5" x2="96.3" y2="706.5" stroke="#a8a8a8" stroke-width="0.9"/>
<line x1="90.1" y1="720.5" x2="96.3" y2="720.5" stroke="#a8a8a8" stroke-width="0.9"/>
<line x1="96.3" y1="734.2" x2="96.3" y2="739.5" stroke="#777" stroke-width="0.75"/>
<line x1="120.42" y1="734.2" x2="120.42" y2="739.5" stroke="#777" stroke-width="0.75"/>
<line x1="144.55" y1="734.2" x2="144.55" y2="739.5" stroke="#777" stroke-width="0.75"/>
<line x1="168.67" y1="734.2" x2="168.67" y2="739.5" stroke="#777" stroke-width="0.75"/>
<line x1="192.79" y1="734.2" x2="192.79" y2="739.5" stroke="#777" stroke-width="0.75"/>
<line x1="216.92" y1="734.2" x2="216.92" y2="739.5" stroke="#777" stroke-width="0.75"/>
<line x1="103.56" y1="734.6" x2="103.56" y2="738" stroke="#888" stroke-width="0.6"/>
<line x1="107.81" y1="734.6" x2="107.81" y2="738" stroke="#888" stroke-width="0.6"/>
<line x1="110.82" y1="734.6" x2="110.82" y2="738" stroke="#888" stroke-width="0.6"/>
<line x1="113.16" y1="734.6" x2="113.16" y2="738" stroke="#888" stroke-width="0.6"/>
<line x1="115.07" y1="734.6" x2="115.07" y2="738" stroke="#888" stroke-width="0.6"/>
<line x1="116.69" y1="734.6" x2="116.69" y2="738" stroke="#888" stroke-width="0.6"/>
<line x1="118.09" y1="734.6" x2="118.09" y2="738" stroke="#888" stroke-width="0.6"/>
<line x1="119.32" y1="734.6" x2="119.32" y2="738" stroke="#888" stroke-width="0.6"/>
<line x1="127.69" y1="734.6" x2="127.69" y2="738" stroke="#888" stroke-width="0.6"/>
<line x1="131.93" y1="734.6" x2="131.93" y2="738" stroke="#888" stroke-width="0.6"/>
<line x1="134.95" y1="734.6" x2="134.95" y2="738" stroke="#888" stroke-width="0.6"/>
<line x1="137.28" y1="734.6" x2="137.28" y2="738" stroke="#888" stroke-width="0.6"/>
<line x1="139.19" y1="734.6" x2="139.19" y2="738" stroke="#888" stroke-width="0.6"/>
<line x1="140.81" y1="734.6" x2="140.81" y2="738" stroke="#888" stroke-width="0.6"/>
<line x1="142.21" y1="734.6" x2="142.21" y2="738" stroke="#888" stroke-width="0.6"/>
<line x1="143.44" y1="734.6" x2="143.44" y2="738" stroke="#888" stroke-width="0.6"/>
<line x1="151.81" y1="734.6" x2="151.81" y2="738" stroke="#888" stroke-width="0.6"/>
<line x1="156.06" y1="734.6" x2="156.06" y2="738" stroke="#888" stroke-width="0.6"/>
<line x1="159.07" y1="734.6" x2="159.07" y2="738" stroke="#888" stroke-width="0.6"/>
<line x1="161.41" y1="734.6" x2="161.41" y2="738" stroke="#888" stroke-width="0.6"/>
<line x1="163.32" y1="734.6" x2="163.32" y2="738" stroke="#888" stroke-width="0.6"/>
<line x1="164.93" y1="734.6" x2="164.93" y2="738" stroke="#888" stroke-width="0.6"/>
<line x1="166.33" y1="734.6" x2="166.33" y2="738" stroke="#888" stroke-width="0.6"/>
<line x1="167.57" y1="734.6" x2="167.57" y2="738" stroke="#888" stroke-width="0.6"/>
<line x1="175.93" y1="734.6" x2="175.93" y2="738" stroke="#888" stroke-width="0.6"/>
<line x1="180.18" y1="734.6" x2="180.18" y2="738" stroke="#888" stroke-width="0.6"/>
<line x1="183.19" y1="734.6" x2="183.19" y2="738" stroke="#888" stroke-width="0.6"/>
<line x1="185.53" y1="734.6" x2="185.53" y2="738" stroke="#888" stroke-width="0.6"/>
<line x1="187.44" y1="734.6" x2="187.44" y2="738" stroke="#888" stroke-width="0.6"/>
<line x1="189.06" y1="734.6" x2="189.06" y2="738" stroke="#888" stroke-width="0.6"/>
<line x1="190.46" y1="734.6" x2="190.46" y2="738" stroke="#888" stroke-width="0.6"/>
<line x1="191.69" y1="734.6" x2="191.69" y2="738" stroke="#888" stroke-width="0.6"/>
<line x1="200.06" y1="734.6" x2="200.06" y2="738" stroke="#888" stroke-width="0.6"/>
<line x1="204.3" y1="734.6" x2="204.3" y2="738" stroke="#888" stroke-width="0.6"/>
<line x1="207.32" y1="734.6" x2="207.32" y2="738" stroke="#888" stroke-width="0.6"/>
<line x1="209.65" y1="734.6" x2="209.65" y2="738" stroke="#888" stroke-width="0.6"/>
<line x1="211.56" y1="734.6" x2="211.56" y2="738" stroke="#888" stroke-width="0.6"/>
<line x1="213.18" y1="734.6" x2="213.18" y2="738" stroke="#888" stroke-width="0.6"/>
<line x1="214.58" y1="734.6" x2="214.58" y2="738" stroke="#888" stroke-width="0.6"/>
<line x1="215.81" y1="734.6" x2="215.81" y2="738" stroke="#888" stroke-width="0.6"/>
<line x1="224.18" y1="734.6" x2="224.18" y2="738" stroke="#888" stroke-width="0.6"/>
<line x1="96.3" y1="632" x2="96.3" y2="734.8" stroke="#5a5a5a" stroke-width="0.95"/>
<line x1="90.1" y1="734.2" x2="227" y2="734.2" stroke="#777" stroke-width="0.9"/>
<text transform="translate(116,748.1) scale(1,1.0)" class="xl">10</text>
<text transform="translate(124.6,743.6) scale(1,1.15)" class="xs">1</text>
<text transform="translate(170,748.1) scale(1,1.0)" class="xl">10</text>
<text transform="translate(176,743.6) scale(1,1.15)" class="xs">3</text>
<text transform="translate(214,748.1) scale(1,1.0)" class="xl">10</text>
<text transform="translate(227,743.6) scale(1,1.15)" class="xs">5</text>
<text transform="translate(88.4,649.4) rotate(-90) scale(1,1.22)" class="yl">300</text>
<text transform="translate(88.4,678) rotate(-90) scale(1,1.22)" class="yl">200</text>
<text transform="translate(88.4,706.5) rotate(-90) scale(1,1.22)" class="yl">100</text>
<path d="M344,734.8 L344,734.26 L345,734.26 L345,733.36 L346,733.36 L346,733.55 L347,733.55 L347,732.94 L348,732.94 L348,732.1 L349,732.1 L349,730.2 L350.07,730.2 L350.07,728.94 L351.15,728.94 L351.15,727.3 L352.23,727.3 L352.23,725.8 L353.3,725.8 L353.3,720.8 L354.35,720.8 L354.35,715.2 L355.4,715.2 L355.4,708.51 L356.25,708.51 L356.25,700.4 L357.1,700.4 L357.1,690.76 L357.85,690.76 L357.85,683.5 L358.6,683.5 L358.6,662.3 L360,662.3 L360,647.5 L361.3,647.5 L361.3,639.23 L362.05,639.23 L362.05,634.8 L362.8,634.8 L362.8,627.2 L363.8,627.2 L363.8,636.9 L364.9,636.9 L364.9,643.56 L365.65,643.56 L365.65,647.5 L366.4,647.5 L366.4,652.54 L367.25,652.54 L367.25,658.1 L368.1,658.1 L368.1,664.35 L368.95,664.35 L368.95,668.7 L369.8,668.7 L369.8,672.26 L370.55,672.26 L370.55,679.2 L371.3,679.2 L371.3,685.38 L372.1,685.38 L372.1,691.9 L372.9,691.9 L372.9,698.86 L373.85,698.86 L373.85,704.6 L374.8,704.6 L374.8,708.19 L375.9,708.19 L375.9,713.1 L377,713.1 L377,717.2 L378.05,717.2 L378.05,719.4 L379.1,719.4 L379.1,721.23 L379.95,721.23 L379.95,721.5 L380.8,721.5 L380.8,727.44 L381.9,727.44 L381.9,734.8 L383,734.8 L383,734.8 L344,734.8 Z" fill="#777777" stroke="#555" stroke-width="0.5"/>
<path d="M352,734.8 L352,734.64 L352.97,734.64 L352.97,734.48 L353.94,734.48 L353.94,734.32 L354.91,734.32 L354.91,734.6 L355.88,734.6 L355.88,734.45 L356.85,734.45 L356.85,733.38 L357.82,733.38 L357.82,733.24 L358.79,733.24 L358.79,733.89 L359.76,733.89 L359.76,733.62 L360.73,733.62 L360.73,733.2 L361.7,733.2 L361.7,733 L362.76,733 L362.76,732.16 L363.82,732.16 L363.82,732.14 L364.89,732.14 L364.89,731.74 L365.95,731.74 L365.95,731.31 L367.01,731.31 L367.01,730.31 L368.07,730.31 L368.07,730.3 L369.14,730.3 L369.14,730 L370.2,730 L370.2,729.19 L371.26,729.19 L371.26,729.08 L372.32,729.08 L372.32,728.9 L373.38,728.9 L373.38,728.2 L374.44,728.2 L374.44,726.8 L375.5,726.8 L375.5,725.56 L376.55,725.56 L376.55,724.04 L377.6,724.04 L377.6,722.36 L378.65,722.36 L378.65,721.5 L379.7,721.5 L379.7,719.47 L380.75,719.47 L380.75,718.37 L381.8,718.37 L381.8,718.27 L382.85,718.27 L382.85,717.3 L383.9,717.3 L383.9,715.3 L384.97,715.3 L384.97,713.86 L386.05,713.86 L386.05,713.55 L387.12,713.55 L387.12,711 L388.2,711 L388.2,709.47 L389.25,709.47 L389.25,707.96 L390.3,707.96 L390.3,705.48 L391.35,705.48 L391.35,704.6 L392.4,704.6 L392.4,701.85 L393.47,701.85 L393.47,701.3 L394.53,701.3 L394.53,700.4 L395.6,700.4 L395.6,697.55 L396.67,697.55 L396.67,696.9 L397.73,696.9 L397.73,695.1 L398.8,695.1 L398.8,694.9 L399.83,694.9 L399.83,692.12 L400.87,692.12 L400.87,689.8 L401.9,689.8 L401.9,688.06 L402.97,688.06 L402.97,689.69 L404.03,689.69 L404.03,687.7 L405.1,687.7 L405.1,687.62 L406.17,687.62 L406.17,686.36 L407.23,686.36 L407.23,684.5 L408.3,684.5 L408.3,683.26 L409.35,683.26 L409.35,679.2 L410.4,679.2 L410.4,678.5 L411.5,678.5 L411.5,680.3 L412.5,680.3 L412.5,682.81 L413.55,682.81 L413.55,683.5 L414.6,683.5 L414.6,686.58 L415.65,686.58 L415.65,687.7 L416.7,687.7 L416.7,691.48 L417.75,691.48 L417.75,696.2 L418.8,696.2 L418.8,701.81 L419.9,701.81 L419.9,704.6 L421,704.6 L421,710.06 L422.05,710.06 L422.05,713.1 L423.1,713.1 L423.1,716.53 L424.15,716.53 L424.15,721.5 L425.2,721.5 L425.2,725.67 L426.25,725.67 L426.25,728.9 L427.3,728.9 L427.3,732.13 L428.35,732.13 L428.35,734.8 L429.4,734.8 L429.4,734.8 L352,734.8 Z" fill="#fff" stroke="#333" stroke-width="0.7"/>
<line x1="295.9" y1="634.5" x2="302.1" y2="634.5" stroke="#a8a8a8" stroke-width="0.9"/>
<line x1="295.9" y1="648.5" x2="302.1" y2="648.5" stroke="#a8a8a8" stroke-width="0.9"/>
<line x1="295.9" y1="663.5" x2="302.1" y2="663.5" stroke="#a8a8a8" stroke-width="0.9"/>
<line x1="295.9" y1="677.5" x2="302.1" y2="677.5" stroke="#a8a8a8" stroke-width="0.9"/>
<line x1="295.9" y1="691.5" x2="302.1" y2="691.5" stroke="#a8a8a8" stroke-width="0.9"/>
<line x1="295.9" y1="706.5" x2="302.1" y2="706.5" stroke="#a8a8a8" stroke-width="0.9"/>
<line x1="295.9" y1="720.5" x2="302.1" y2="720.5" stroke="#a8a8a8" stroke-width="0.9"/>
<line x1="302.1" y1="734.8" x2="302.1" y2="740.1" stroke="#777" stroke-width="0.75"/>
<line x1="326.63" y1="734.8" x2="326.63" y2="740.1" stroke="#777" stroke-width="0.75"/>
<line x1="351.16" y1="734.8" x2="351.16" y2="740.1" stroke="#777" stroke-width="0.75"/>
<line x1="375.69" y1="734.8" x2="375.69" y2="740.1" stroke="#777" stroke-width="0.75"/>
<line x1="400.22" y1="734.8" x2="400.22" y2="740.1" stroke="#777" stroke-width="0.75"/>
<line x1="424.75" y1="734.8" x2="424.75" y2="740.1" stroke="#777" stroke-width="0.75"/>
<line x1="309.48" y1="735.2" x2="309.48" y2="738.6" stroke="#888" stroke-width="0.6"/>
<line x1="313.8" y1="735.2" x2="313.8" y2="738.6" stroke="#888" stroke-width="0.6"/>
<line x1="316.87" y1="735.2" x2="316.87" y2="738.6" stroke="#888" stroke-width="0.6"/>
<line x1="319.25" y1="735.2" x2="319.25" y2="738.6" stroke="#888" stroke-width="0.6"/>
<line x1="321.19" y1="735.2" x2="321.19" y2="738.6" stroke="#888" stroke-width="0.6"/>
<line x1="322.83" y1="735.2" x2="322.83" y2="738.6" stroke="#888" stroke-width="0.6"/>
<line x1="324.25" y1="735.2" x2="324.25" y2="738.6" stroke="#888" stroke-width="0.6"/>
<line x1="325.51" y1="735.2" x2="325.51" y2="738.6" stroke="#888" stroke-width="0.6"/>
<line x1="334.01" y1="735.2" x2="334.01" y2="738.6" stroke="#888" stroke-width="0.6"/>
<line x1="338.33" y1="735.2" x2="338.33" y2="738.6" stroke="#888" stroke-width="0.6"/>
<line x1="341.4" y1="735.2" x2="341.4" y2="738.6" stroke="#888" stroke-width="0.6"/>
<line x1="343.77" y1="735.2" x2="343.77" y2="738.6" stroke="#888" stroke-width="0.6"/>
<line x1="345.72" y1="735.2" x2="345.72" y2="738.6" stroke="#888" stroke-width="0.6"/>
<line x1="347.36" y1="735.2" x2="347.36" y2="738.6" stroke="#888" stroke-width="0.6"/>
<line x1="348.78" y1="735.2" x2="348.78" y2="738.6" stroke="#888" stroke-width="0.6"/>
<line x1="350.04" y1="735.2" x2="350.04" y2="738.6" stroke="#888" stroke-width="0.6"/>
<line x1="358.54" y1="735.2" x2="358.54" y2="738.6" stroke="#888" stroke-width="0.6"/>
<line x1="362.86" y1="735.2" x2="362.86" y2="738.6" stroke="#888" stroke-width="0.6"/>
<line x1="365.93" y1="735.2" x2="365.93" y2="738.6" stroke="#888" stroke-width="0.6"/>
<line x1="368.3" y1="735.2" x2="368.3" y2="738.6" stroke="#888" stroke-width="0.6"/>
<line x1="370.25" y1="735.2" x2="370.25" y2="738.6" stroke="#888" stroke-width="0.6"/>
<line x1="371.89" y1="735.2" x2="371.89" y2="738.6" stroke="#888" stroke-width="0.6"/>
<line x1="373.31" y1="735.2" x2="373.31" y2="738.6" stroke="#888" stroke-width="0.6"/>
<line x1="374.57" y1="735.2" x2="374.57" y2="738.6" stroke="#888" stroke-width="0.6"/>
<line x1="383.07" y1="735.2" x2="383.07" y2="738.6" stroke="#888" stroke-width="0.6"/>
<line x1="387.39" y1="735.2" x2="387.39" y2="738.6" stroke="#888" stroke-width="0.6"/>
<line x1="390.46" y1="735.2" x2="390.46" y2="738.6" stroke="#888" stroke-width="0.6"/>
<line x1="392.83" y1="735.2" x2="392.83" y2="738.6" stroke="#888" stroke-width="0.6"/>
<line x1="394.78" y1="735.2" x2="394.78" y2="738.6" stroke="#888" stroke-width="0.6"/>
<line x1="396.42" y1="735.2" x2="396.42" y2="738.6" stroke="#888" stroke-width="0.6"/>
<line x1="397.84" y1="735.2" x2="397.84" y2="738.6" stroke="#888" stroke-width="0.6"/>
<line x1="399.09" y1="735.2" x2="399.09" y2="738.6" stroke="#888" stroke-width="0.6"/>
<line x1="407.6" y1="735.2" x2="407.6" y2="738.6" stroke="#888" stroke-width="0.6"/>
<line x1="411.92" y1="735.2" x2="411.92" y2="738.6" stroke="#888" stroke-width="0.6"/>
<line x1="414.99" y1="735.2" x2="414.99" y2="738.6" stroke="#888" stroke-width="0.6"/>
<line x1="417.36" y1="735.2" x2="417.36" y2="738.6" stroke="#888" stroke-width="0.6"/>
<line x1="419.3" y1="735.2" x2="419.3" y2="738.6" stroke="#888" stroke-width="0.6"/>
<line x1="420.95" y1="735.2" x2="420.95" y2="738.6" stroke="#888" stroke-width="0.6"/>
<line x1="422.37" y1="735.2" x2="422.37" y2="738.6" stroke="#888" stroke-width="0.6"/>
<line x1="423.62" y1="735.2" x2="423.62" y2="738.6" stroke="#888" stroke-width="0.6"/>
<line x1="432.13" y1="735.2" x2="432.13" y2="738.6" stroke="#888" stroke-width="0.6"/>
<line x1="302.1" y1="625.8" x2="302.1" y2="735.4" stroke="#5a5a5a" stroke-width="0.95"/>
<line x1="295.9" y1="734.8" x2="435" y2="734.8" stroke="#777" stroke-width="0.9"/>
<text transform="translate(292.2,748.3) scale(1,1.0)" class="xl">10</text>
<text transform="translate(329.8,743.8) scale(1,1.15)" class="xs">1</text>
<text transform="translate(346,748.3) scale(1,1.0)" class="xl">10</text>
<text transform="translate(381.5,743.8) scale(1,1.15)" class="xs">3</text>
<text transform="translate(401.5,748.3) scale(1,1.0)" class="xl">10</text>
<text transform="translate(433.8,743.8) scale(1,1.15)" class="xs">5</text>
<path d="M87,888.1 L87,887.7 L88.25,887.7 L88.25,887.3 L89.5,887.3 L89.5,885.54 L90.4,885.54 L90.4,884.6 L91.3,884.6 L91.3,882.95 L92.17,882.95 L92.17,880.72 L93.05,880.72 L93.05,877.73 L93.92,877.73 L93.92,876 L94.8,876 L94.8,868.74 L95.95,868.74 L95.95,861.5 L97.1,861.5 L97.1,854.16 L97.85,854.16 L97.85,847.1 L98.6,847.1 L98.6,832.7 L99.7,832.7 L99.7,818.3 L101.1,818.3 L101.1,811.62 L102,811.62 L102,803.8 L102.9,803.8 L102.9,792.3 L104,792.3 L104,788 L105.2,788 L105.2,794.23 L106.05,794.23 L106.05,798.1 L106.9,798.1 L106.9,802.27 L107.65,802.27 L107.65,809.6 L108.4,809.6 L108.4,821.1 L109.8,821.1 L109.8,825.3 L110.95,825.3 L110.95,832.7 L112.1,832.7 L112.1,840.94 L113.25,840.94 L113.25,847.1 L114.4,847.1 L114.4,851.71 L115.37,851.71 L115.37,857.38 L116.33,857.38 L116.33,861.5 L117.3,861.5 L117.3,864.71 L118.3,864.71 L118.3,870.2 L119.3,870.2 L119.3,871.52 L120.27,871.52 L120.27,873.51 L121.23,873.51 L121.23,874.5 L122.2,874.5 L122.2,876.77 L123.1,876.77 L123.1,880 L124,880 L124,888.1 L125,888.1 L125,888.1 L87,888.1 Z" fill="#777777" stroke="#555" stroke-width="0.5"/>
<path d="M101,888.1 L101,887.87 L101.97,887.87 L101.97,887.64 L102.94,887.64 L102.94,887.86 L103.91,887.86 L103.91,887.64 L104.89,887.64 L104.89,886.49 L105.86,886.49 L105.86,886.27 L106.83,886.27 L106.83,886.5 L107.8,886.5 L107.8,886.53 L108.85,886.53 L108.85,886.04 L109.9,886.04 L109.9,885.59 L110.95,885.59 L110.95,885 L112,885 L112,884.23 L113,884.23 L113,884.15 L114,884.15 L114,883.66 L115,883.66 L115,883 L116,883 L116,882.23 L117.1,882.23 L117.1,880.63 L118.2,880.63 L118.2,880.3 L119.3,880.3 L119.3,878.72 L120.38,878.72 L120.37,877.2 L121.45,877.2 L121.45,876.4 L122.52,876.4 L122.52,874.5 L123.6,874.5 L123.6,874.36 L124.57,874.36 L124.57,873.09 L125.53,873.09 L125.53,871 L126.5,871 L126.5,869.57 L127.47,869.57 L127.47,867.95 L128.43,867.95 L128.43,867.3 L129.4,867.3 L129.4,864.95 L130.37,864.95 L130.37,863.71 L131.33,863.71 L131.33,863.61 L132.3,863.61 L132.3,862.03 L133.27,862.03 L133.27,860.98 L134.23,860.98 L134.23,860.1 L135.2,860.1 L135.2,859.73 L136.27,859.73 L136.27,857.27 L137.35,857.27 L137.35,855.92 L138.43,855.92 L138.43,854.3 L139.5,854.3 L139.5,852.45 L140.57,852.45 L140.57,850.73 L141.65,850.73 L141.65,850.55 L142.73,850.55 L142.73,850 L143.8,850 L143.8,847.81 L144.9,847.81 L144.9,847.88 L146,847.88 L146,848.34 L147.1,848.34 L147.1,845.7 L148.2,845.7 L148.2,843.87 L149.13,843.87 L149.13,839.85 L150.07,839.85 L150.07,838.5 L151,838.5 L151,840.52 L152,840.52 L152,839.9 L153,839.9 L153,844.46 L154.2,844.46 L154.2,847.1 L155.4,847.1 L155.4,850.71 L156.55,850.71 L156.55,852.9 L157.7,852.9 L157.7,858.34 L158.7,858.34 L158.7,861.5 L159.7,861.5 L159.7,866.02 L160.67,866.02 L160.67,869.91 L161.63,869.91 L161.63,873.1 L162.6,873.1 L162.6,875.67 L163.57,875.67 L163.57,879.71 L164.53,879.71 L164.53,881.7 L165.5,881.7 L165.5,883.83 L166.47,883.83 L166.47,884.1 L167.43,884.1 L167.43,886 L168.4,886 L168.4,887.32 L169.2,887.32 L169.2,888.1 L170,888.1 L170,888.1 L101,888.1 Z" fill="#fff" stroke="#333" stroke-width="0.7"/>
<line x1="39.7" y1="791.5" x2="45.9" y2="791.5" stroke="#a8a8a8" stroke-width="0.9"/>
<line x1="39.7" y1="805.5" x2="45.9" y2="805.5" stroke="#a8a8a8" stroke-width="0.9"/>
<line x1="39.7" y1="818.5" x2="45.9" y2="818.5" stroke="#a8a8a8" stroke-width="0.9"/>
<line x1="39.7" y1="833.5" x2="45.9" y2="833.5" stroke="#a8a8a8" stroke-width="0.9"/>
<line x1="39.7" y1="846.5" x2="45.9" y2="846.5" stroke="#a8a8a8" stroke-width="0.9"/>
<line x1="39.7" y1="860.5" x2="45.9" y2="860.5" stroke="#a8a8a8" stroke-width="0.9"/>
<line x1="39.7" y1="873.5" x2="45.9" y2="873.5" stroke="#a8a8a8" stroke-width="0.9"/>
<line x1="45.9" y1="888.1" x2="45.9" y2="893.4" stroke="#777" stroke-width="0.75"/>
<line x1="69.84" y1="888.1" x2="69.84" y2="893.4" stroke="#777" stroke-width="0.75"/>
<line x1="93.78" y1="888.1" x2="93.78" y2="893.4" stroke="#777" stroke-width="0.75"/>
<line x1="117.72" y1="888.1" x2="117.72" y2="893.4" stroke="#777" stroke-width="0.75"/>
<line x1="141.65" y1="888.1" x2="141.65" y2="893.4" stroke="#777" stroke-width="0.75"/>
<line x1="165.59" y1="888.1" x2="165.59" y2="893.4" stroke="#777" stroke-width="0.75"/>
<line x1="53.11" y1="888.5" x2="53.11" y2="891.9" stroke="#888" stroke-width="0.6"/>
<line x1="57.32" y1="888.5" x2="57.32" y2="891.9" stroke="#888" stroke-width="0.6"/>
<line x1="60.31" y1="888.5" x2="60.31" y2="891.9" stroke="#888" stroke-width="0.6"/>
<line x1="62.63" y1="888.5" x2="62.63" y2="891.9" stroke="#888" stroke-width="0.6"/>
<line x1="64.53" y1="888.5" x2="64.53" y2="891.9" stroke="#888" stroke-width="0.6"/>
<line x1="66.13" y1="888.5" x2="66.13" y2="891.9" stroke="#888" stroke-width="0.6"/>
<line x1="67.52" y1="888.5" x2="67.52" y2="891.9" stroke="#888" stroke-width="0.6"/>
<line x1="68.74" y1="888.5" x2="68.74" y2="891.9" stroke="#888" stroke-width="0.6"/>
<line x1="77.04" y1="888.5" x2="77.04" y2="891.9" stroke="#888" stroke-width="0.6"/>
<line x1="81.26" y1="888.5" x2="81.26" y2="891.9" stroke="#888" stroke-width="0.6"/>
<line x1="84.25" y1="888.5" x2="84.25" y2="891.9" stroke="#888" stroke-width="0.6"/>
<line x1="86.57" y1="888.5" x2="86.57" y2="891.9" stroke="#888" stroke-width="0.6"/>
<line x1="88.47" y1="888.5" x2="88.47" y2="891.9" stroke="#888" stroke-width="0.6"/>
<line x1="90.07" y1="888.5" x2="90.07" y2="891.9" stroke="#888" stroke-width="0.6"/>
<line x1="91.46" y1="888.5" x2="91.46" y2="891.9" stroke="#888" stroke-width="0.6"/>
<line x1="92.68" y1="888.5" x2="92.68" y2="891.9" stroke="#888" stroke-width="0.6"/>
<line x1="100.98" y1="888.5" x2="100.98" y2="891.9" stroke="#888" stroke-width="0.6"/>
<line x1="105.2" y1="888.5" x2="105.2" y2="891.9" stroke="#888" stroke-width="0.6"/>
<line x1="108.19" y1="888.5" x2="108.19" y2="891.9" stroke="#888" stroke-width="0.6"/>
<line x1="110.51" y1="888.5" x2="110.51" y2="891.9" stroke="#888" stroke-width="0.6"/>
<line x1="112.41" y1="888.5" x2="112.41" y2="891.9" stroke="#888" stroke-width="0.6"/>
<line x1="114.01" y1="888.5" x2="114.01" y2="891.9" stroke="#888" stroke-width="0.6"/>
<line x1="115.4" y1="888.5" x2="115.4" y2="891.9" stroke="#888" stroke-width="0.6"/>
<line x1="116.62" y1="888.5" x2="116.62" y2="891.9" stroke="#888" stroke-width="0.6"/>
<line x1="124.92" y1="888.5" x2="124.92" y2="891.9" stroke="#888" stroke-width="0.6"/>
<line x1="129.14" y1="888.5" x2="129.14" y2="891.9" stroke="#888" stroke-width="0.6"/>
<line x1="132.13" y1="888.5" x2="132.13" y2="891.9" stroke="#888" stroke-width="0.6"/>
<line x1="134.45" y1="888.5" x2="134.45" y2="891.9" stroke="#888" stroke-width="0.6"/>
<line x1="136.34" y1="888.5" x2="136.34" y2="891.9" stroke="#888" stroke-width="0.6"/>
<line x1="137.95" y1="888.5" x2="137.95" y2="891.9" stroke="#888" stroke-width="0.6"/>
<line x1="139.33" y1="888.5" x2="139.33" y2="891.9" stroke="#888" stroke-width="0.6"/>
<line x1="140.56" y1="888.5" x2="140.56" y2="891.9" stroke="#888" stroke-width="0.6"/>
<line x1="148.86" y1="888.5" x2="148.86" y2="891.9" stroke="#888" stroke-width="0.6"/>
<line x1="153.08" y1="888.5" x2="153.08" y2="891.9" stroke="#888" stroke-width="0.6"/>
<line x1="156.07" y1="888.5" x2="156.07" y2="891.9" stroke="#888" stroke-width="0.6"/>
<line x1="158.39" y1="888.5" x2="158.39" y2="891.9" stroke="#888" stroke-width="0.6"/>
<line x1="160.28" y1="888.5" x2="160.28" y2="891.9" stroke="#888" stroke-width="0.6"/>
<line x1="161.89" y1="888.5" x2="161.89" y2="891.9" stroke="#888" stroke-width="0.6"/>
<line x1="163.27" y1="888.5" x2="163.27" y2="891.9" stroke="#888" stroke-width="0.6"/>
<line x1="164.5" y1="888.5" x2="164.5" y2="891.9" stroke="#888" stroke-width="0.6"/>
<line x1="172.8" y1="888.5" x2="172.8" y2="891.9" stroke="#888" stroke-width="0.6"/>
<line x1="45.9" y1="785" x2="45.9" y2="888.7" stroke="#5a5a5a" stroke-width="0.95"/>
<line x1="39.7" y1="888.1" x2="175.6" y2="888.1" stroke="#777" stroke-width="0.9"/>
<text transform="translate(62.8,900.5) scale(1,1.0)" class="xl">10</text>
<text transform="translate(74.6,896) scale(1,1.15)" class="xs">1</text>
<text transform="translate(115.3,900.5) scale(1,1.0)" class="xl">10</text>
<text transform="translate(126,896) scale(1,1.15)" class="xs">3</text>
<text transform="translate(162.9,900.5) scale(1,1.0)" class="xl">10</text>
<text transform="translate(174,896) scale(1,1.15)" class="xs">5</text>
<text transform="translate(33,802.5) rotate(-90) scale(1,1.22)" class="yl">300</text>
<text transform="translate(33,831.2) rotate(-90) scale(1,1.22)" class="yl">200</text>
<text transform="translate(33,860) rotate(-90) scale(1,1.22)" class="yl">100</text>
<path d="M251,885.7 L251,885.6 L252.07,885.6 L252.07,885.5 L253.13,885.5 L253.13,885.4 L254.2,885.4 L254.2,883.72 L255.17,883.72 L255.17,883.22 L256.13,883.22 L256.13,881.5 L257.1,881.5 L257.1,879.34 L258.07,879.34 L258.07,875.95 L259.03,875.95 L259.03,873.8 L260,873.8 L260,867.09 L260.95,867.09 L260.95,860.4 L261.9,860.4 L261.9,851.61 L262.7,851.61 L262.7,843.1 L263.5,843.1 L263.5,823.8 L264.8,823.8 L264.8,804.6 L266.2,804.6 L266.2,797.5 L266.95,797.5 L266.95,789.2 L267.7,789.2 L267.7,784.82 L268.45,784.82 L268.45,778 L269.2,778 L269.2,787.3 L270.6,787.3 L270.6,798.8 L271.9,798.8 L271.9,802.09 L272.7,802.09 L272.7,808.5 L273.5,808.5 L273.5,818.1 L274.8,818.1 L274.8,821.28 L275.55,821.28 L275.55,827.7 L276.3,827.7 L276.3,834.52 L277.3,834.52 L277.3,839.2 L278.3,839.2 L278.3,844.81 L279.25,844.81 L279.25,850.8 L280.2,850.8 L280.2,858.5 L281.5,858.5 L281.5,860.88 L282.25,860.88 L282.25,862 L283,862 L283,872.94 L284,872.94 L284,885.7 L285,885.7 L285,885.7 L251,885.7 Z" fill="#777777" stroke="#555" stroke-width="0.5"/>
<path d="M250,885.7 L250,885.65 L251.03,885.65 L251.03,885.6 L252.07,885.6 L252.07,885.55 L253.1,885.55 L253.1,885.5 L254.13,885.5 L254.13,885.45 L255.17,885.45 L255.17,885.4 L256.2,885.4 L256.2,885.37 L257.15,885.37 L257.15,884.91 L258.1,884.91 L258.1,883.42 L259.05,883.42 L259.05,882.94 L260,882.94 L260,883.4 L260.95,883.4 L260.95,882.79 L261.9,882.79 L261.9,882.22 L262.85,882.22 L262.85,881.5 L263.8,881.5 L263.8,880.58 L264.77,880.58 L264.77,880.4 L265.73,880.4 L265.73,879.77 L266.7,879.77 L266.7,879.1 L267.67,879.1 L267.67,877.75 L268.63,877.75 L268.63,877.7 L269.6,877.7 L269.6,876.41 L270.56,876.41 L270.56,875.18 L271.52,875.18 L271.52,874.66 L272.48,874.66 L272.48,874.06 L273.44,874.06 L273.44,871.9 L274.4,871.9 L274.4,871.45 L275.38,871.45 L275.38,869.15 L276.35,869.15 L276.35,867.5 L277.32,867.5 L277.32,866.2 L278.3,866.2 L278.3,863.7 L279.27,863.7 L279.27,861.16 L280.23,861.16 L280.23,860.4 L281.2,860.4 L281.2,856.22 L282.15,856.22 L282.15,854.6 L283.1,854.6 L283.1,852.57 L284.07,852.57 L284.07,850.2 L285.03,850.2 L285.03,848.8 L286,848.8 L286,846.83 L286.93,846.83 L286.93,846.82 L287.87,846.82 L287.87,844 L288.8,844 L288.8,842.48 L289.77,842.48 L289.77,841 L290.73,841 L290.73,839.2 L291.7,839.2 L291.7,837.05 L292.67,837.05 L292.67,835.06 L293.63,835.06 L293.63,835.4 L294.6,835.4 L294.6,832.86 L295.57,832.86 L295.57,830.26 L296.53,830.26 L296.53,829.6 L297.5,829.6 L297.5,827.6 L298.47,827.6 L298.47,827.36 L299.43,827.36 L299.43,823.5 L300.4,823.5 L300.4,828.13 L301.35,828.13 L301.35,831.5 L302.3,831.5 L302.3,835.28 L303.05,835.28 L303.05,841.2 L303.8,841.2 L303.8,847.22 L304.8,847.22 L304.8,850.8 L305.8,850.8 L305.8,857.36 L306.75,857.36 L306.75,862.3 L307.7,862.3 L307.7,866.69 L308.6,866.69 L308.6,870.86 L309.5,870.86 L309.5,873.8 L310.4,873.8 L310.4,877.18 L311.53,877.18 L311.53,880.07 L312.67,880.07 L312.67,882.5 L313.8,882.5 L313.8,883.12 L314.77,883.12 L314.77,884.65 L315.75,884.65 L315.75,885.36 L316.73,885.36 L316.73,885.7 L317.7,885.7 L317.7,885.7 L250,885.7 Z" fill="#fff" stroke="#333" stroke-width="0.7"/>
<line x1="199.5" y1="784.5" x2="205.7" y2="784.5" stroke="#a8a8a8" stroke-width="0.9"/>
<line x1="199.5" y1="798.5" x2="205.7" y2="798.5" stroke="#a8a8a8" stroke-width="0.9"/>
<line x1="199.5" y1="813.5" x2="205.7" y2="813.5" stroke="#a8a8a8" stroke-width="0.9"/>
<line x1="199.5" y1="828.5" x2="205.7" y2="828.5" stroke="#a8a8a8" stroke-width="0.9"/>
<line x1="199.5" y1="843.5" x2="205.7" y2="843.5" stroke="#a8a8a8" stroke-width="0.9"/>
<line x1="199.5" y1="857.5" x2="205.7" y2="857.5" stroke="#a8a8a8" stroke-width="0.9"/>
<line x1="199.5" y1="872.5" x2="205.7" y2="872.5" stroke="#a8a8a8" stroke-width="0.9"/>
<line x1="205.7" y1="885.7" x2="205.7" y2="891" stroke="#777" stroke-width="0.75"/>
<line x1="230.25" y1="885.7" x2="230.25" y2="891" stroke="#777" stroke-width="0.75"/>
<line x1="254.8" y1="885.7" x2="254.8" y2="891" stroke="#777" stroke-width="0.75"/>
<line x1="279.34" y1="885.7" x2="279.34" y2="891" stroke="#777" stroke-width="0.75"/>
<line x1="303.89" y1="885.7" x2="303.89" y2="891" stroke="#777" stroke-width="0.75"/>
<line x1="328.44" y1="885.7" x2="328.44" y2="891" stroke="#777" stroke-width="0.75"/>
<line x1="213.09" y1="886.1" x2="213.09" y2="889.5" stroke="#888" stroke-width="0.6"/>
<line x1="217.41" y1="886.1" x2="217.41" y2="889.5" stroke="#888" stroke-width="0.6"/>
<line x1="220.48" y1="886.1" x2="220.48" y2="889.5" stroke="#888" stroke-width="0.6"/>
<line x1="222.86" y1="886.1" x2="222.86" y2="889.5" stroke="#888" stroke-width="0.6"/>
<line x1="224.8" y1="886.1" x2="224.8" y2="889.5" stroke="#888" stroke-width="0.6"/>
<line x1="226.45" y1="886.1" x2="226.45" y2="889.5" stroke="#888" stroke-width="0.6"/>
<line x1="227.87" y1="886.1" x2="227.87" y2="889.5" stroke="#888" stroke-width="0.6"/>
<line x1="229.12" y1="886.1" x2="229.12" y2="889.5" stroke="#888" stroke-width="0.6"/>
<line x1="237.64" y1="886.1" x2="237.64" y2="889.5" stroke="#888" stroke-width="0.6"/>
<line x1="241.96" y1="886.1" x2="241.96" y2="889.5" stroke="#888" stroke-width="0.6"/>
<line x1="245.03" y1="886.1" x2="245.03" y2="889.5" stroke="#888" stroke-width="0.6"/>
<line x1="247.41" y1="886.1" x2="247.41" y2="889.5" stroke="#888" stroke-width="0.6"/>
<line x1="249.35" y1="886.1" x2="249.35" y2="889.5" stroke="#888" stroke-width="0.6"/>
<line x1="250.99" y1="886.1" x2="250.99" y2="889.5" stroke="#888" stroke-width="0.6"/>
<line x1="252.42" y1="886.1" x2="252.42" y2="889.5" stroke="#888" stroke-width="0.6"/>
<line x1="253.67" y1="886.1" x2="253.67" y2="889.5" stroke="#888" stroke-width="0.6"/>
<line x1="262.19" y1="886.1" x2="262.19" y2="889.5" stroke="#888" stroke-width="0.6"/>
<line x1="266.51" y1="886.1" x2="266.51" y2="889.5" stroke="#888" stroke-width="0.6"/>
<line x1="269.57" y1="886.1" x2="269.57" y2="889.5" stroke="#888" stroke-width="0.6"/>
<line x1="271.95" y1="886.1" x2="271.95" y2="889.5" stroke="#888" stroke-width="0.6"/>
<line x1="273.9" y1="886.1" x2="273.9" y2="889.5" stroke="#888" stroke-width="0.6"/>
<line x1="275.54" y1="886.1" x2="275.54" y2="889.5" stroke="#888" stroke-width="0.6"/>
<line x1="276.96" y1="886.1" x2="276.96" y2="889.5" stroke="#888" stroke-width="0.6"/>
<line x1="278.22" y1="886.1" x2="278.22" y2="889.5" stroke="#888" stroke-width="0.6"/>
<line x1="286.73" y1="886.1" x2="286.73" y2="889.5" stroke="#888" stroke-width="0.6"/>
<line x1="291.06" y1="886.1" x2="291.06" y2="889.5" stroke="#888" stroke-width="0.6"/>
<line x1="294.12" y1="886.1" x2="294.12" y2="889.5" stroke="#888" stroke-width="0.6"/>
<line x1="296.5" y1="886.1" x2="296.5" y2="889.5" stroke="#888" stroke-width="0.6"/>
<line x1="298.45" y1="886.1" x2="298.45" y2="889.5" stroke="#888" stroke-width="0.6"/>
<line x1="300.09" y1="886.1" x2="300.09" y2="889.5" stroke="#888" stroke-width="0.6"/>
<line x1="301.51" y1="886.1" x2="301.51" y2="889.5" stroke="#888" stroke-width="0.6"/>
<line x1="302.77" y1="886.1" x2="302.77" y2="889.5" stroke="#888" stroke-width="0.6"/>
<line x1="311.28" y1="886.1" x2="311.28" y2="889.5" stroke="#888" stroke-width="0.6"/>
<line x1="315.6" y1="886.1" x2="315.6" y2="889.5" stroke="#888" stroke-width="0.6"/>
<line x1="318.67" y1="886.1" x2="318.67" y2="889.5" stroke="#888" stroke-width="0.6"/>
<line x1="321.05" y1="886.1" x2="321.05" y2="889.5" stroke="#888" stroke-width="0.6"/>
<line x1="322.99" y1="886.1" x2="322.99" y2="889.5" stroke="#888" stroke-width="0.6"/>
<line x1="324.64" y1="886.1" x2="324.64" y2="889.5" stroke="#888" stroke-width="0.6"/>
<line x1="326.06" y1="886.1" x2="326.06" y2="889.5" stroke="#888" stroke-width="0.6"/>
<line x1="327.32" y1="886.1" x2="327.32" y2="889.5" stroke="#888" stroke-width="0.6"/>
<line x1="335.83" y1="886.1" x2="335.83" y2="889.5" stroke="#888" stroke-width="0.6"/>
<line x1="205.7" y1="777.8" x2="205.7" y2="886.3" stroke="#5a5a5a" stroke-width="0.95"/>
<line x1="199.5" y1="885.7" x2="338.7" y2="885.7" stroke="#777" stroke-width="0.9"/>
<text transform="translate(221.5,896.5) scale(1,1.0)" class="xl">10</text>
<text transform="translate(233.5,895.4) scale(1,1.15)" class="xs">1</text>
<text transform="translate(255.8,896.5) scale(1,1.0)" class="xl">10</text>
<text transform="translate(284.2,895.4) scale(1,1.15)" class="xs">3</text>
<text transform="translate(307.3,896.5) scale(1,1.0)" class="xl">10</text>
<text transform="translate(330.4,895.4) scale(1,1.15)" class="xs">5</text>
<path d="M412,888 L412,887.4 L413.07,887.4 L413.07,886.44 L414.15,886.44 L414.15,886.58 L415.23,886.58 L415.23,885.6 L416.3,885.6 L416.3,884.74 L417.27,884.74 L417.27,882.86 L418.25,882.86 L418.25,881.99 L419.23,881.99 L419.23,880.8 L420.2,880.8 L420.2,877.51 L421.17,877.51 L421.17,874.69 L422.13,874.69 L422.13,871.2 L423.1,871.2 L423.1,864.18 L424.05,864.18 L424.05,855.8 L425,855.8 L425,844.97 L425.75,844.97 L425.75,836.5 L426.5,836.5 L426.5,817.3 L427.9,817.3 L427.9,803.8 L428.8,803.8 L428.8,792.3 L429.8,792.3 L429.8,783.5 L431.2,783.5 L431.2,792.3 L432.3,792.3 L432.3,801.9 L433.7,801.9 L433.7,805.9 L434.45,805.9 L434.45,813.5 L435.2,813.5 L435.2,820.45 L436.05,820.45 L436.05,825 L436.9,825 L436.9,828.62 L437.7,828.62 L437.7,832.7 L438.5,832.7 L438.5,837.38 L439.25,837.38 L439.25,840.4 L440,840.4 L440,848.1 L441.3,848.1 L441.3,855.8 L442.7,855.8 L442.7,860 L444,860 L444,873.03 L445,873.03 L445,888 L446,888 L446,888 L412,888 Z" fill="#777777" stroke="#555" stroke-width="0.5"/>
<path d="M411.5,888 L411.5,887.72 L412.47,887.72 L412.47,887.43 L413.43,887.43 L413.43,887.61 L414.4,887.61 L414.4,887.34 L415.37,887.34 L415.37,886.09 L416.33,886.09 L416.33,885.82 L417.3,885.82 L417.3,886.42 L418.27,886.42 L418.27,886.02 L419.23,886.02 L419.23,885.67 L420.2,885.67 L420.2,884.92 L421.17,884.92 L421.17,885.02 L422.13,885.02 L422.13,884.6 L423.1,884.6 L423.1,884.28 L424.06,884.28 L424.06,883.77 L425.03,883.77 L425.03,882.66 L425.99,882.66 L425.99,882.59 L426.95,882.59 L426.95,882.06 L427.91,882.06 L427.91,882.11 L428.88,882.11 L428.88,882.09 L429.84,882.09 L429.84,880.8 L430.8,880.8 L430.8,880.32 L431.75,880.32 L431.75,878.32 L432.7,878.32 L432.7,876.84 L433.65,876.84 L433.65,875.2 L434.6,875.2 L434.6,873.42 L435.55,873.42 L435.55,873.1 L436.5,873.1 L436.5,870.12 L437.48,870.12 L437.48,869.17 L438.45,869.17 L438.45,866.89 L439.42,866.89 L439.42,865.4 L440.4,865.4 L440.4,862.52 L441.37,862.52 L441.37,861.32 L442.33,861.32 L442.33,857.7 L443.3,857.7 L443.3,853.93 L444.25,853.93 L444.25,850 L445.2,850 L445.2,848.29 L446.15,848.29 L446.15,846.2 L447.1,846.2 L447.1,844.39 L448.07,844.39 L448.07,842.74 L449.03,842.74 L449.03,843.3 L450,843.3 L450,842.06 L450.97,842.06 L450.97,840.78 L451.93,840.78 L451.93,841.3 L452.9,841.3 L452.9,841.67 L453.87,841.67 L453.87,843.6 L454.83,843.6 L454.83,842.3 L455.8,842.3 L455.8,842.54 L456.77,842.54 L456.77,840.59 L457.73,840.59 L457.73,841.3 L458.7,841.3 L458.7,842.93 L459.63,842.93 L459.63,842.94 L460.57,842.94 L460.57,842.3 L461.5,842.3 L461.5,844.03 L462.47,844.03 L462.47,845.54 L463.43,845.54 L463.43,845.2 L464.4,845.2 L464.4,847 L465.37,847 L465.37,848.04 L466.33,848.04 L466.33,848.1 L467.3,848.1 L467.3,851.51 L468.25,851.51 L468.25,855.8 L469.2,855.8 L469.2,861.89 L470.2,861.89 L470.2,865.4 L471.2,865.4 L471.2,870.33 L472.15,870.33 L472.15,873.1 L473.1,873.1 L473.1,874.99 L474.07,874.99 L474.07,878.71 L475.03,878.71 L475.03,880.8 L476,880.8 L476,882.74 L476.93,882.74 L476.93,883.94 L477.87,883.94 L477.87,885.6 L478.8,885.6 L478.8,886.24 L479.77,886.24 L479.77,886.79 L480.75,886.79 L480.75,887.4 L481.73,887.4 L481.73,888 L482.7,888 L482.7,888 L411.5,888 Z" fill="#fff" stroke="#333" stroke-width="0.7"/>
<line x1="366" y1="788.5" x2="372.2" y2="788.5" stroke="#a8a8a8" stroke-width="0.9"/>
<line x1="366" y1="802.5" x2="372.2" y2="802.5" stroke="#a8a8a8" stroke-width="0.9"/>
<line x1="366" y1="816.5" x2="372.2" y2="816.5" stroke="#a8a8a8" stroke-width="0.9"/>
<line x1="366" y1="830.5" x2="372.2" y2="830.5" stroke="#a8a8a8" stroke-width="0.9"/>
<line x1="366" y1="844.5" x2="372.2" y2="844.5" stroke="#a8a8a8" stroke-width="0.9"/>
<line x1="366" y1="858.5" x2="372.2" y2="858.5" stroke="#a8a8a8" stroke-width="0.9"/>
<line x1="366" y1="873.5" x2="372.2" y2="873.5" stroke="#a8a8a8" stroke-width="0.9"/>
<line x1="372.2" y1="888" x2="372.2" y2="893.3" stroke="#777" stroke-width="0.75"/>
<line x1="396.45" y1="888" x2="396.45" y2="893.3" stroke="#777" stroke-width="0.75"/>
<line x1="420.7" y1="888" x2="420.7" y2="893.3" stroke="#777" stroke-width="0.75"/>
<line x1="444.96" y1="888" x2="444.96" y2="893.3" stroke="#777" stroke-width="0.75"/>
<line x1="469.21" y1="888" x2="469.21" y2="893.3" stroke="#777" stroke-width="0.75"/>
<line x1="493.46" y1="888" x2="493.46" y2="893.3" stroke="#777" stroke-width="0.75"/>
<line x1="379.5" y1="888.4" x2="379.5" y2="891.8" stroke="#888" stroke-width="0.6"/>
<line x1="383.77" y1="888.4" x2="383.77" y2="891.8" stroke="#888" stroke-width="0.6"/>
<line x1="386.8" y1="888.4" x2="386.8" y2="891.8" stroke="#888" stroke-width="0.6"/>
<line x1="389.15" y1="888.4" x2="389.15" y2="891.8" stroke="#888" stroke-width="0.6"/>
<line x1="391.07" y1="888.4" x2="391.07" y2="891.8" stroke="#888" stroke-width="0.6"/>
<line x1="392.7" y1="888.4" x2="392.7" y2="891.8" stroke="#888" stroke-width="0.6"/>
<line x1="394.1" y1="888.4" x2="394.1" y2="891.8" stroke="#888" stroke-width="0.6"/>
<line x1="395.34" y1="888.4" x2="395.34" y2="891.8" stroke="#888" stroke-width="0.6"/>
<line x1="403.75" y1="888.4" x2="403.75" y2="891.8" stroke="#888" stroke-width="0.6"/>
<line x1="408.02" y1="888.4" x2="408.02" y2="891.8" stroke="#888" stroke-width="0.6"/>
<line x1="411.05" y1="888.4" x2="411.05" y2="891.8" stroke="#888" stroke-width="0.6"/>
<line x1="413.4" y1="888.4" x2="413.4" y2="891.8" stroke="#888" stroke-width="0.6"/>
<line x1="415.32" y1="888.4" x2="415.32" y2="891.8" stroke="#888" stroke-width="0.6"/>
<line x1="416.95" y1="888.4" x2="416.95" y2="891.8" stroke="#888" stroke-width="0.6"/>
<line x1="418.35" y1="888.4" x2="418.35" y2="891.8" stroke="#888" stroke-width="0.6"/>
<line x1="419.6" y1="888.4" x2="419.6" y2="891.8" stroke="#888" stroke-width="0.6"/>
<line x1="428.01" y1="888.4" x2="428.01" y2="891.8" stroke="#888" stroke-width="0.6"/>
<line x1="432.28" y1="888.4" x2="432.28" y2="891.8" stroke="#888" stroke-width="0.6"/>
<line x1="435.31" y1="888.4" x2="435.31" y2="891.8" stroke="#888" stroke-width="0.6"/>
<line x1="437.66" y1="888.4" x2="437.66" y2="891.8" stroke="#888" stroke-width="0.6"/>
<line x1="439.58" y1="888.4" x2="439.58" y2="891.8" stroke="#888" stroke-width="0.6"/>
<line x1="441.2" y1="888.4" x2="441.2" y2="891.8" stroke="#888" stroke-width="0.6"/>
<line x1="442.61" y1="888.4" x2="442.61" y2="891.8" stroke="#888" stroke-width="0.6"/>
<line x1="443.85" y1="888.4" x2="443.85" y2="891.8" stroke="#888" stroke-width="0.6"/>
<line x1="452.26" y1="888.4" x2="452.26" y2="891.8" stroke="#888" stroke-width="0.6"/>
<line x1="456.53" y1="888.4" x2="456.53" y2="891.8" stroke="#888" stroke-width="0.6"/>
<line x1="459.56" y1="888.4" x2="459.56" y2="891.8" stroke="#888" stroke-width="0.6"/>
<line x1="461.91" y1="888.4" x2="461.91" y2="891.8" stroke="#888" stroke-width="0.6"/>
<line x1="463.83" y1="888.4" x2="463.83" y2="891.8" stroke="#888" stroke-width="0.6"/>
<line x1="465.45" y1="888.4" x2="465.45" y2="891.8" stroke="#888" stroke-width="0.6"/>
<line x1="466.86" y1="888.4" x2="466.86" y2="891.8" stroke="#888" stroke-width="0.6"/>
<line x1="468.1" y1="888.4" x2="468.1" y2="891.8" stroke="#888" stroke-width="0.6"/>
<line x1="476.51" y1="888.4" x2="476.51" y2="891.8" stroke="#888" stroke-width="0.6"/>
<line x1="480.78" y1="888.4" x2="480.78" y2="891.8" stroke="#888" stroke-width="0.6"/>
<line x1="483.81" y1="888.4" x2="483.81" y2="891.8" stroke="#888" stroke-width="0.6"/>
<line x1="486.16" y1="888.4" x2="486.16" y2="891.8" stroke="#888" stroke-width="0.6"/>
<line x1="488.08" y1="888.4" x2="488.08" y2="891.8" stroke="#888" stroke-width="0.6"/>
<line x1="489.71" y1="888.4" x2="489.71" y2="891.8" stroke="#888" stroke-width="0.6"/>
<line x1="491.11" y1="888.4" x2="491.11" y2="891.8" stroke="#888" stroke-width="0.6"/>
<line x1="492.35" y1="888.4" x2="492.35" y2="891.8" stroke="#888" stroke-width="0.6"/>
<line x1="500.76" y1="888.4" x2="500.76" y2="891.8" stroke="#888" stroke-width="0.6"/>
<line x1="372.2" y1="781" x2="372.2" y2="888.6" stroke="#5a5a5a" stroke-width="0.95"/>
<line x1="366" y1="888" x2="503.6" y2="888" stroke="#777" stroke-width="0.9"/>
<text transform="translate(392.5,901.8) scale(1,1.0)" class="xl">10</text>
<text transform="translate(404,900.7) scale(1,1.15)" class="xs">1</text>
<text transform="translate(442.2,901.8) scale(1,1.0)" class="xl">10</text>
<text transform="translate(454,900.7) scale(1,1.15)" class="xs">3</text>
<text transform="translate(489,901.8) scale(1,1.0)" class="xl">10</text>
<text transform="translate(500.4,900.7) scale(1,1.15)" class="xs">5</text>
<path d="M86,1011 L86,1010.65 L86.9,1010.65 L86.9,1009.97 L87.8,1009.97 L87.8,1010.29 L88.7,1010.29 L88.7,1009.6 L89.6,1009.6 L89.6,1008.47 L90.57,1008.47 L90.57,1006.37 L91.55,1006.37 L91.55,1005.24 L92.53,1005.24 L92.53,1003.8 L93.5,1003.8 L93.5,999.88 L94.43,999.88 L94.43,996.43 L95.37,996.43 L95.37,992.3 L96.3,992.3 L96.3,985.3 L97.3,985.3 L97.3,976.9 L98.3,976.9 L98.3,957.7 L99.2,957.7 L99.2,946.7 L100,946.7 L100,938.5 L100.8,938.5 L100.8,923.1 L102.1,923.1 L102.1,913.5 L103.1,913.5 L103.1,908.7 L104,908.7 L104,915.4 L105,915.4 L105,920.23 L105.75,920.23 L105.75,928.8 L106.5,928.8 L106.5,938.5 L107.9,938.5 L107.9,946.38 L108.85,946.38 L108.85,951.9 L109.8,951.9 L109.8,958.44 L110.75,958.44 L110.75,965.4 L111.7,965.4 L111.7,971.9 L112.7,971.9 L112.7,976.9 L113.7,976.9 L113.7,980.44 L114.65,980.44 L114.65,986.5 L115.6,986.5 L115.6,991.23 L116.55,991.23 L116.55,996.2 L117.5,996.2 L117.5,998.52 L118.25,998.52 L118.25,1000 L119,1000 L119,1005.11 L120,1005.11 L120,1011 L121,1011 L121,1011 L86,1011 Z" fill="#777777" stroke="#555" stroke-width="0.5"/>
<path d="M100,1011 L100,1010.8 L101.03,1010.8 L101.03,1010.6 L102.07,1010.6 L102.07,1010.4 L103.1,1010.4 L103.1,1010.42 L104.06,1010.42 L104.06,1009.98 L105.02,1009.98 L105.02,1008.48 L105.99,1008.48 L105.99,1008.03 L106.95,1008.03 L106.95,1008.53 L107.91,1008.53 L107.91,1007.95 L108.88,1007.95 L108.87,1007.4 L109.84,1007.4 L109.84,1006.7 L110.8,1006.7 L110.8,1005.45 L111.76,1005.45 L111.76,1004.96 L112.71,1004.96 L112.71,1004.01 L113.67,1004.01 L113.67,1003.01 L114.63,1003.01 L114.63,1001.29 L115.59,1001.29 L115.59,1000.83 L116.54,1000.83 L116.54,1000 L117.5,1000 L117.5,998.63 L118.46,998.63 L118.46,998.14 L119.42,998.14 L119.42,997.57 L120.38,997.57 L120.38,996.34 L121.34,996.34 L121.34,994.2 L122.3,994.2 L122.3,992.38 L123.28,992.38 L123.28,990.22 L124.25,990.22 L124.25,987.85 L125.22,987.85 L125.22,986.5 L126.2,986.5 L126.2,984.02 L127.13,984.02 L127.13,982.71 L128.07,982.71 L128.07,982.7 L129,982.7 L129,981.97 L129.97,981.97 L129.97,980.93 L130.93,980.93 L130.93,980.8 L131.9,980.8 L131.9,979.96 L132.88,979.96 L132.88,980.9 L133.85,980.9 L133.85,979.37 L134.83,979.37 L134.83,978.8 L135.8,978.8 L135.8,978.5 L136.75,978.5 L136.75,977.09 L137.7,977.09 L137.7,976 L138.65,976 L138.65,976.9 L139.6,976.9 L139.6,975.91 L140.57,975.91 L140.58,974.88 L141.55,974.88 L141.55,975.51 L142.53,975.51 L142.53,975 L143.5,975 L143.5,976.02 L144.45,976.02 L144.45,974.57 L145.4,974.57 L145.4,972.61 L146.35,972.61 L146.35,973.1 L147.3,973.1 L147.3,973.83 L148.28,973.83 L148.28,973.06 L149.25,973.06 L149.25,972.4 L150.22,972.4 L150.22,971.2 L151.2,971.2 L151.2,972.13 L152.13,972.13 L152.13,971.35 L153.07,971.35 L153.07,970.2 L154,970.2 L154,972.05 L155,972.05 L155,972.1 L156,972.1 L156,972.15 L156.95,972.15 L156.95,973.1 L157.9,973.1 L157.9,976.9 L158.8,976.9 L158.8,983.02 L159.8,983.02 L159.8,986.5 L160.8,986.5 L160.8,991.46 L161.75,991.46 L161.75,994.2 L162.7,994.2 L162.7,997.36 L163.65,997.36 L163.65,1001.9 L164.6,1001.9 L164.6,1004.26 L165.57,1004.26 L165.57,1006.1 L166.53,1006.1 L166.53,1007.7 L167.5,1007.7 L167.5,1008.75 L168.47,1008.75 L168.47,1009.93 L169.43,1009.93 L169.43,1011 L170.4,1011 L170.4,1011 L100,1011 Z" fill="#fff" stroke="#333" stroke-width="0.7"/>
<line x1="39.2" y1="914.5" x2="45.4" y2="914.5" stroke="#a8a8a8" stroke-width="0.9"/>
<line x1="39.2" y1="927.5" x2="45.4" y2="927.5" stroke="#a8a8a8" stroke-width="0.9"/>
<line x1="39.2" y1="941.5" x2="45.4" y2="941.5" stroke="#a8a8a8" stroke-width="0.9"/>
<line x1="39.2" y1="956.5" x2="45.4" y2="956.5" stroke="#a8a8a8" stroke-width="0.9"/>
<line x1="39.2" y1="970.5" x2="45.4" y2="970.5" stroke="#a8a8a8" stroke-width="0.9"/>
<line x1="39.2" y1="983.5" x2="45.4" y2="983.5" stroke="#a8a8a8" stroke-width="0.9"/>
<line x1="39.2" y1="997.5" x2="45.4" y2="997.5" stroke="#a8a8a8" stroke-width="0.9"/>
<line x1="45.4" y1="1011" x2="45.4" y2="1016.3" stroke="#777" stroke-width="0.75"/>
<line x1="69.32" y1="1011" x2="69.32" y2="1016.3" stroke="#777" stroke-width="0.75"/>
<line x1="93.24" y1="1011" x2="93.24" y2="1016.3" stroke="#777" stroke-width="0.75"/>
<line x1="117.16" y1="1011" x2="117.16" y2="1016.3" stroke="#777" stroke-width="0.75"/>
<line x1="141.08" y1="1011" x2="141.08" y2="1016.3" stroke="#777" stroke-width="0.75"/>
<line x1="165" y1="1011" x2="165" y2="1016.3" stroke="#777" stroke-width="0.75"/>
<line x1="52.6" y1="1011.4" x2="52.6" y2="1014.8" stroke="#888" stroke-width="0.6"/>
<line x1="56.81" y1="1011.4" x2="56.81" y2="1014.8" stroke="#888" stroke-width="0.6"/>
<line x1="59.8" y1="1011.4" x2="59.8" y2="1014.8" stroke="#888" stroke-width="0.6"/>
<line x1="62.12" y1="1011.4" x2="62.12" y2="1014.8" stroke="#888" stroke-width="0.6"/>
<line x1="64.01" y1="1011.4" x2="64.01" y2="1014.8" stroke="#888" stroke-width="0.6"/>
<line x1="65.61" y1="1011.4" x2="65.61" y2="1014.8" stroke="#888" stroke-width="0.6"/>
<line x1="67" y1="1011.4" x2="67" y2="1014.8" stroke="#888" stroke-width="0.6"/>
<line x1="68.23" y1="1011.4" x2="68.23" y2="1014.8" stroke="#888" stroke-width="0.6"/>
<line x1="76.52" y1="1011.4" x2="76.52" y2="1014.8" stroke="#888" stroke-width="0.6"/>
<line x1="80.73" y1="1011.4" x2="80.73" y2="1014.8" stroke="#888" stroke-width="0.6"/>
<line x1="83.72" y1="1011.4" x2="83.72" y2="1014.8" stroke="#888" stroke-width="0.6"/>
<line x1="86.04" y1="1011.4" x2="86.04" y2="1014.8" stroke="#888" stroke-width="0.6"/>
<line x1="87.93" y1="1011.4" x2="87.93" y2="1014.8" stroke="#888" stroke-width="0.6"/>
<line x1="89.54" y1="1011.4" x2="89.54" y2="1014.8" stroke="#888" stroke-width="0.6"/>
<line x1="90.92" y1="1011.4" x2="90.92" y2="1014.8" stroke="#888" stroke-width="0.6"/>
<line x1="92.15" y1="1011.4" x2="92.15" y2="1014.8" stroke="#888" stroke-width="0.6"/>
<line x1="100.44" y1="1011.4" x2="100.44" y2="1014.8" stroke="#888" stroke-width="0.6"/>
<line x1="104.65" y1="1011.4" x2="104.65" y2="1014.8" stroke="#888" stroke-width="0.6"/>
<line x1="107.64" y1="1011.4" x2="107.64" y2="1014.8" stroke="#888" stroke-width="0.6"/>
<line x1="109.96" y1="1011.4" x2="109.96" y2="1014.8" stroke="#888" stroke-width="0.6"/>
<line x1="111.85" y1="1011.4" x2="111.85" y2="1014.8" stroke="#888" stroke-width="0.6"/>
<line x1="113.46" y1="1011.4" x2="113.46" y2="1014.8" stroke="#888" stroke-width="0.6"/>
<line x1="114.84" y1="1011.4" x2="114.84" y2="1014.8" stroke="#888" stroke-width="0.6"/>
<line x1="116.07" y1="1011.4" x2="116.07" y2="1014.8" stroke="#888" stroke-width="0.6"/>
<line x1="124.36" y1="1011.4" x2="124.36" y2="1014.8" stroke="#888" stroke-width="0.6"/>
<line x1="128.57" y1="1011.4" x2="128.57" y2="1014.8" stroke="#888" stroke-width="0.6"/>
<line x1="131.56" y1="1011.4" x2="131.56" y2="1014.8" stroke="#888" stroke-width="0.6"/>
<line x1="133.88" y1="1011.4" x2="133.88" y2="1014.8" stroke="#888" stroke-width="0.6"/>
<line x1="135.77" y1="1011.4" x2="135.77" y2="1014.8" stroke="#888" stroke-width="0.6"/>
<line x1="137.38" y1="1011.4" x2="137.38" y2="1014.8" stroke="#888" stroke-width="0.6"/>
<line x1="138.76" y1="1011.4" x2="138.76" y2="1014.8" stroke="#888" stroke-width="0.6"/>
<line x1="139.99" y1="1011.4" x2="139.99" y2="1014.8" stroke="#888" stroke-width="0.6"/>
<line x1="148.28" y1="1011.4" x2="148.28" y2="1014.8" stroke="#888" stroke-width="0.6"/>
<line x1="152.49" y1="1011.4" x2="152.49" y2="1014.8" stroke="#888" stroke-width="0.6"/>
<line x1="155.48" y1="1011.4" x2="155.48" y2="1014.8" stroke="#888" stroke-width="0.6"/>
<line x1="157.8" y1="1011.4" x2="157.8" y2="1014.8" stroke="#888" stroke-width="0.6"/>
<line x1="159.69" y1="1011.4" x2="159.69" y2="1014.8" stroke="#888" stroke-width="0.6"/>
<line x1="161.3" y1="1011.4" x2="161.3" y2="1014.8" stroke="#888" stroke-width="0.6"/>
<line x1="162.68" y1="1011.4" x2="162.68" y2="1014.8" stroke="#888" stroke-width="0.6"/>
<line x1="163.91" y1="1011.4" x2="163.91" y2="1014.8" stroke="#888" stroke-width="0.6"/>
<line x1="172.2" y1="1011.4" x2="172.2" y2="1014.8" stroke="#888" stroke-width="0.6"/>
<line x1="45.4" y1="908.7" x2="45.4" y2="1011.6" stroke="#5a5a5a" stroke-width="0.95"/>
<line x1="39.2" y1="1011" x2="175" y2="1011" stroke="#777" stroke-width="0.9"/>
<text transform="translate(62.4,1024.3) scale(1,1.0)" class="xl">10</text>
<text transform="translate(74.6,1019.8) scale(1,1.15)" class="xs">1</text>
<text transform="translate(112.8,1024.3) scale(1,1.0)" class="xl">10</text>
<text transform="translate(125,1019.8) scale(1,1.15)" class="xs">3</text>
<text transform="translate(161.9,1024.3) scale(1,1.0)" class="xl">10</text>
<text transform="translate(172.7,1019.8) scale(1,1.15)" class="xs">5</text>
<text transform="translate(32.6,926.5) rotate(-90) scale(1,1.22)" class="yl">300</text>
<text transform="translate(32.6,955.3) rotate(-90) scale(1,1.22)" class="yl">200</text>
<text transform="translate(32.6,983.2) rotate(-90) scale(1,1.22)" class="yl">100</text>
<path d="M248,1007.5 L248,1006.19 L249.1,1006.19 L249.1,1005.95 L250.2,1005.95 L250.2,1004.6 L251.3,1004.6 L251.3,1003.51 L252.28,1003.51 L252.28,1001.34 L253.25,1001.34 L253.25,1000.24 L254.22,1000.24 L254.22,998.8 L255.2,998.8 L255.2,995.51 L256.17,995.51 L256.17,992.7 L257.13,992.7 L257.13,989.2 L258.1,989.2 L258.1,981.26 L259.05,981.26 L259.05,971.9 L260,971.9 L260,961.08 L260.75,961.08 L260.75,952.7 L261.5,952.7 L261.5,933.5 L262.9,933.5 L262.9,920 L263.8,920 L263.8,908.5 L264.8,908.5 L264.8,900.8 L265.8,900.8 L265.8,910.4 L267.1,910.4 L267.1,913.3 L267.9,913.3 L267.9,920 L268.7,920 L268.7,927.04 L269.45,927.04 L269.45,931.5 L270.2,931.5 L270.2,941.2 L271.5,941.2 L271.5,946.72 L272.5,946.72 L272.5,952.7 L273.5,952.7 L273.5,959.26 L274.45,959.26 L274.45,964.2 L275.4,964.2 L275.4,968.61 L276.35,968.61 L276.35,975.8 L277.3,975.8 L277.3,979.51 L278.05,979.51 L278.05,983.5 L278.8,983.5 L278.8,987 L280,987 L280,997.64 L281,997.64 L281,1007.5 L282,1007.5 L282,1007.5 L248,1007.5 Z" fill="#777777" stroke="#555" stroke-width="0.5"/>
<path d="M240,1007.5 L240,1007.36 L241.01,1007.36 L241.01,1007.23 L242.03,1007.23 L242.03,1007.09 L243.04,1007.09 L243.04,1006.96 L244.06,1006.96 L244.06,1007.26 L245.07,1007.26 L245.07,1007.13 L246.09,1007.13 L246.09,1006.09 L247.1,1006.09 L247.1,1005.98 L248.11,1005.98 L248.11,1006.64 L249.13,1006.64 L249.13,1006.4 L250.14,1006.4 L250.14,1006.2 L251.16,1006.2 L251.16,1005.65 L252.17,1005.65 L252.17,1005.86 L253.19,1005.86 L253.19,1005.6 L254.2,1005.6 L254.2,1005.6 L255.16,1005.6 L255.16,1005.45 L256.12,1005.45 L256.12,1004.8 L257.09,1004.8 L257.09,1005.01 L258.05,1005.01 L258.05,1004.84 L259.01,1004.84 L259.01,1005.14 L259.97,1005.14 L259.98,1005.37 L260.94,1005.37 L260.94,1004.6 L261.9,1004.6 L261.9,1004.73 L262.87,1004.73 L262.87,1003.7 L263.83,1003.7 L263.83,1003.07 L264.8,1003.07 L264.8,1002.32 L265.77,1002.32 L265.77,1001.47 L266.73,1001.47 L266.73,1001.7 L267.7,1001.7 L267.7,999.79 L268.67,999.79 L268.67,999.41 L269.63,999.41 L269.63,998.02 L270.6,998.02 L270.6,997.01 L271.57,997.01 L271.57,996.88 L272.53,996.88 L272.53,995 L273.5,995 L273.5,993.13 L274.45,993.13 L274.45,991.28 L275.4,991.28 L275.4,988.62 L276.35,988.62 L276.35,987.3 L277.3,987.3 L277.3,983.54 L278.27,983.54 L278.27,981.71 L279.23,981.71 L279.23,979.6 L280.2,979.6 L280.2,976.02 L281.17,976.02 L281.17,974.5 L282.13,974.5 L282.13,971.9 L283.1,971.9 L283.1,971.51 L284.07,971.51 L284.07,968.64 L285.03,968.64 L285.03,966.2 L286,966.2 L286,963.25 L286.93,963.25 L286.93,963.61 L287.87,963.61 L287.87,960.4 L288.8,960.4 L288.8,959.46 L289.77,959.46 L289.77,957.33 L290.73,957.33 L290.73,954.6 L291.7,954.6 L291.7,954.43 L292.67,954.43 L292.67,952.33 L293.63,952.33 L293.63,949.8 L294.6,949.8 L294.6,949.4 L295.4,949.4 L295.4,946.9 L296.2,946.9 L296.2,952.7 L297.5,952.7 L297.5,954.09 L298.45,954.09 L298.45,956.5 L299.4,956.5 L299.4,960.07 L300.35,960.07 L300.35,960.4 L301.3,960.4 L301.3,964.79 L302.3,964.79 L302.3,966.2 L303.3,966.2 L303.3,971.9 L304.6,971.9 L304.6,976.76 L305.85,976.76 L305.85,983.5 L307.1,983.5 L307.1,987.94 L308.07,987.94 L308.07,991.64 L309.03,991.64 L309.03,995 L310,995 L310,997.49 L310.97,997.49 L310.97,1000.18 L311.93,1000.18 L311.93,1002.7 L312.9,1002.7 L312.9,1004.29 L313.87,1004.29 L313.87,1006.38 L314.83,1006.38 L314.83,1007.5 L315.8,1007.5 L315.8,1007.5 L240,1007.5 Z" fill="#fff" stroke="#333" stroke-width="0.7"/>
<line x1="199.6" y1="907.5" x2="205.8" y2="907.5" stroke="#a8a8a8" stroke-width="0.9"/>
<line x1="199.6" y1="920.5" x2="205.8" y2="920.5" stroke="#a8a8a8" stroke-width="0.9"/>
<line x1="199.6" y1="935.5" x2="205.8" y2="935.5" stroke="#a8a8a8" stroke-width="0.9"/>
<line x1="199.6" y1="950.5" x2="205.8" y2="950.5" stroke="#a8a8a8" stroke-width="0.9"/>
<line x1="199.6" y1="963.5" x2="205.8" y2="963.5" stroke="#a8a8a8" stroke-width="0.9"/>
<line x1="199.6" y1="978.5" x2="205.8" y2="978.5" stroke="#a8a8a8" stroke-width="0.9"/>
<line x1="199.6" y1="993.5" x2="205.8" y2="993.5" stroke="#a8a8a8" stroke-width="0.9"/>
<line x1="205.8" y1="1007.5" x2="205.8" y2="1012.8" stroke="#777" stroke-width="0.75"/>
<line x1="230.5" y1="1007.5" x2="230.5" y2="1012.8" stroke="#777" stroke-width="0.75"/>
<line x1="255.19" y1="1007.5" x2="255.19" y2="1012.8" stroke="#777" stroke-width="0.75"/>
<line x1="279.89" y1="1007.5" x2="279.89" y2="1012.8" stroke="#777" stroke-width="0.75"/>
<line x1="304.58" y1="1007.5" x2="304.58" y2="1012.8" stroke="#777" stroke-width="0.75"/>
<line x1="329.28" y1="1007.5" x2="329.28" y2="1012.8" stroke="#777" stroke-width="0.75"/>
<line x1="213.23" y1="1007.9" x2="213.23" y2="1011.3" stroke="#888" stroke-width="0.6"/>
<line x1="217.58" y1="1007.9" x2="217.58" y2="1011.3" stroke="#888" stroke-width="0.6"/>
<line x1="220.67" y1="1007.9" x2="220.67" y2="1011.3" stroke="#888" stroke-width="0.6"/>
<line x1="223.06" y1="1007.9" x2="223.06" y2="1011.3" stroke="#888" stroke-width="0.6"/>
<line x1="225.02" y1="1007.9" x2="225.02" y2="1011.3" stroke="#888" stroke-width="0.6"/>
<line x1="226.67" y1="1007.9" x2="226.67" y2="1011.3" stroke="#888" stroke-width="0.6"/>
<line x1="228.1" y1="1007.9" x2="228.1" y2="1011.3" stroke="#888" stroke-width="0.6"/>
<line x1="229.37" y1="1007.9" x2="229.37" y2="1011.3" stroke="#888" stroke-width="0.6"/>
<line x1="237.93" y1="1007.9" x2="237.93" y2="1011.3" stroke="#888" stroke-width="0.6"/>
<line x1="242.28" y1="1007.9" x2="242.28" y2="1011.3" stroke="#888" stroke-width="0.6"/>
<line x1="245.36" y1="1007.9" x2="245.36" y2="1011.3" stroke="#888" stroke-width="0.6"/>
<line x1="247.76" y1="1007.9" x2="247.76" y2="1011.3" stroke="#888" stroke-width="0.6"/>
<line x1="249.71" y1="1007.9" x2="249.71" y2="1011.3" stroke="#888" stroke-width="0.6"/>
<line x1="251.37" y1="1007.9" x2="251.37" y2="1011.3" stroke="#888" stroke-width="0.6"/>
<line x1="252.8" y1="1007.9" x2="252.8" y2="1011.3" stroke="#888" stroke-width="0.6"/>
<line x1="254.06" y1="1007.9" x2="254.06" y2="1011.3" stroke="#888" stroke-width="0.6"/>
<line x1="262.62" y1="1007.9" x2="262.62" y2="1011.3" stroke="#888" stroke-width="0.6"/>
<line x1="266.97" y1="1007.9" x2="266.97" y2="1011.3" stroke="#888" stroke-width="0.6"/>
<line x1="270.06" y1="1007.9" x2="270.06" y2="1011.3" stroke="#888" stroke-width="0.6"/>
<line x1="272.45" y1="1007.9" x2="272.45" y2="1011.3" stroke="#888" stroke-width="0.6"/>
<line x1="274.41" y1="1007.9" x2="274.41" y2="1011.3" stroke="#888" stroke-width="0.6"/>
<line x1="276.06" y1="1007.9" x2="276.06" y2="1011.3" stroke="#888" stroke-width="0.6"/>
<line x1="277.49" y1="1007.9" x2="277.49" y2="1011.3" stroke="#888" stroke-width="0.6"/>
<line x1="278.76" y1="1007.9" x2="278.76" y2="1011.3" stroke="#888" stroke-width="0.6"/>
<line x1="287.32" y1="1007.9" x2="287.32" y2="1011.3" stroke="#888" stroke-width="0.6"/>
<line x1="291.67" y1="1007.9" x2="291.67" y2="1011.3" stroke="#888" stroke-width="0.6"/>
<line x1="294.75" y1="1007.9" x2="294.75" y2="1011.3" stroke="#888" stroke-width="0.6"/>
<line x1="297.15" y1="1007.9" x2="297.15" y2="1011.3" stroke="#888" stroke-width="0.6"/>
<line x1="299.1" y1="1007.9" x2="299.1" y2="1011.3" stroke="#888" stroke-width="0.6"/>
<line x1="300.76" y1="1007.9" x2="300.76" y2="1011.3" stroke="#888" stroke-width="0.6"/>
<line x1="302.19" y1="1007.9" x2="302.19" y2="1011.3" stroke="#888" stroke-width="0.6"/>
<line x1="303.45" y1="1007.9" x2="303.45" y2="1011.3" stroke="#888" stroke-width="0.6"/>
<line x1="312.02" y1="1007.9" x2="312.02" y2="1011.3" stroke="#888" stroke-width="0.6"/>
<line x1="316.36" y1="1007.9" x2="316.36" y2="1011.3" stroke="#888" stroke-width="0.6"/>
<line x1="319.45" y1="1007.9" x2="319.45" y2="1011.3" stroke="#888" stroke-width="0.6"/>
<line x1="321.84" y1="1007.9" x2="321.84" y2="1011.3" stroke="#888" stroke-width="0.6"/>
<line x1="323.8" y1="1007.9" x2="323.8" y2="1011.3" stroke="#888" stroke-width="0.6"/>
<line x1="325.45" y1="1007.9" x2="325.45" y2="1011.3" stroke="#888" stroke-width="0.6"/>
<line x1="326.88" y1="1007.9" x2="326.88" y2="1011.3" stroke="#888" stroke-width="0.6"/>
<line x1="328.15" y1="1007.9" x2="328.15" y2="1011.3" stroke="#888" stroke-width="0.6"/>
<line x1="336.71" y1="1007.9" x2="336.71" y2="1011.3" stroke="#888" stroke-width="0.6"/>
<line x1="205.8" y1="899.2" x2="205.8" y2="1008.1" stroke="#5a5a5a" stroke-width="0.95"/>
<line x1="199.6" y1="1007.5" x2="339.6" y2="1007.5" stroke="#777" stroke-width="0.9"/>
<text transform="translate(222.4,1021.5) scale(1,1.0)" class="xl">10</text>
<text transform="translate(234.4,1020.4) scale(1,1.15)" class="xs">1</text>
<text transform="translate(274,1021.5) scale(1,1.0)" class="xl">10</text>
<text transform="translate(285.8,1020.4) scale(1,1.15)" class="xs">3</text>
<text transform="translate(320.8,1021.5) scale(1,1.0)" class="xl">10</text>
<text transform="translate(332.8,1020.4) scale(1,1.15)" class="xs">5</text>
<path d="M413,1007.5 L413,1007.38 L413.98,1007.38 L413.98,1007.25 L414.95,1007.25 L414.95,1007.12 L415.92,1007.12 L415.92,1007 L416.9,1007 L416.9,1003.43 L417.93,1003.43 L417.93,1001.33 L418.97,1001.33 L418.97,997.7 L420,997.7 L420,990.55 L421.25,990.55 L421.25,982.3 L422.5,982.3 L422.5,973.95 L423.25,973.95 L423.25,966.9 L424,966.9 L424,959.19 L424.75,959.19 L424.75,951.5 L425.5,951.5 L425.5,943.68 L426.25,943.68 L426.25,936.2 L427,936.2 L427,929.07 L427.8,929.07 L427.8,920.8 L428.6,920.8 L428.6,915.82 L429.4,915.82 L429.4,908.5 L430.2,908.5 L430.2,902.93 L430.95,902.93 L430.95,900.8 L431.7,900.8 L431.7,905.4 L432.6,905.4 L432.6,913 L433.8,913 L433.8,916.52 L434.6,916.52 L434.6,923.8 L435.4,923.8 L435.4,931.26 L436.15,931.26 L436.15,936.2 L436.9,936.2 L436.9,942.12 L437.7,942.12 L437.7,948.5 L438.5,948.5 L438.5,957.7 L439.4,957.7 L439.4,963.8 L440.6,963.8 L440.6,1007.5 L442,1007.5 L442,1007.5 L413,1007.5 Z" fill="#777777" stroke="#555" stroke-width="0.5"/>
<path d="M416.5,1007.5 L416.5,1007.2 L417.62,1007.2 L417.62,1006.5 L418.75,1006.5 L418.75,1004.7 L419.88,1004.7 L419.88,1004.5 L421,1004.5 L421,1002.18 L422.04,1002.18 L422.04,1001.65 L423.08,1001.65 L423.08,999.81 L424.12,999.81 L424.12,998.02 L425.16,998.02 L425.16,996 L426.2,996 L426.2,992.93 L427.3,992.93 L427.3,990.9 L428.4,990.9 L428.4,988 L429.5,988 L429.5,985.33 L430.43,985.33 L430.43,982.34 L431.37,982.34 L431.37,979.2 L432.3,979.2 L432.3,975.17 L433.33,975.17 L433.33,972.86 L434.37,972.86 L434.37,970 L435.4,970 L435.4,967.1 L436.43,967.1 L436.43,965.58 L437.47,965.58 L437.47,962.3 L438.5,962.3 L438.5,960.11 L439.55,960.11 L439.55,954.6 L440.6,954.6 L440.6,953.14 L441.55,953.14 L441.55,948.5 L442.5,948.5 L442.5,946.81 L443.55,946.81 L443.55,944.8 L444.6,944.8 L444.6,947.2 L445.7,947.2 L445.7,950 L446.8,950 L446.8,950.43 L447.9,950.43 L447.9,952.5 L449,952.5 L449,951.57 L449.9,951.57 L449.9,952.25 L450.8,952.25 L450.8,954.6 L451.7,954.6 L451.7,956.68 L452.85,956.68 L452.85,959 L454,959 L454,961.61 L455,961.61 L455,965.4 L456,965.4 L456,967.33 L457.25,967.33 L457.25,970 L458.5,970 L458.5,975.23 L459.5,975.23 L459.5,978.27 L460.5,978.27 L460.5,982.3 L461.5,982.3 L461.5,986.55 L462.53,986.55 L462.53,989.91 L463.57,989.91 L463.57,994.6 L464.6,994.6 L464.6,996.26 L465.63,996.26 L465.63,999.43 L466.67,999.43 L466.67,1002.3 L467.7,1002.3 L467.7,1002.57 L468.62,1002.57 L468.62,1003.91 L469.54,1003.91 L469.54,1005.35 L470.46,1005.35 L470.46,1005.71 L471.38,1005.71 L471.38,1006.3 L472.3,1006.3 L472.3,1006.38 L473.33,1006.38 L473.33,1007.1 L474.37,1007.1 L474.37,1007.5 L475.4,1007.5 L475.4,1007.5 L416.5,1007.5 Z" fill="#fff" stroke="#333" stroke-width="0.7"/>
<line x1="365.2" y1="907.5" x2="371.4" y2="907.5" stroke="#a8a8a8" stroke-width="0.9"/>
<line x1="365.2" y1="920.5" x2="371.4" y2="920.5" stroke="#a8a8a8" stroke-width="0.9"/>
<line x1="365.2" y1="935.5" x2="371.4" y2="935.5" stroke="#a8a8a8" stroke-width="0.9"/>
<line x1="365.2" y1="950.5" x2="371.4" y2="950.5" stroke="#a8a8a8" stroke-width="0.9"/>
<line x1="365.2" y1="963.5" x2="371.4" y2="963.5" stroke="#a8a8a8" stroke-width="0.9"/>
<line x1="365.2" y1="978.5" x2="371.4" y2="978.5" stroke="#a8a8a8" stroke-width="0.9"/>
<line x1="365.2" y1="993.5" x2="371.4" y2="993.5" stroke="#a8a8a8" stroke-width="0.9"/>
<line x1="371.4" y1="1007.5" x2="371.4" y2="1012.8" stroke="#777" stroke-width="0.75"/>
<line x1="395.98" y1="1007.5" x2="395.98" y2="1012.8" stroke="#777" stroke-width="0.75"/>
<line x1="420.57" y1="1007.5" x2="420.57" y2="1012.8" stroke="#777" stroke-width="0.75"/>
<line x1="445.15" y1="1007.5" x2="445.15" y2="1012.8" stroke="#777" stroke-width="0.75"/>
<line x1="469.74" y1="1007.5" x2="469.74" y2="1012.8" stroke="#777" stroke-width="0.75"/>
<line x1="494.32" y1="1007.5" x2="494.32" y2="1012.8" stroke="#777" stroke-width="0.75"/>
<line x1="378.8" y1="1007.9" x2="378.8" y2="1011.3" stroke="#888" stroke-width="0.6"/>
<line x1="383.13" y1="1007.9" x2="383.13" y2="1011.3" stroke="#888" stroke-width="0.6"/>
<line x1="386.2" y1="1007.9" x2="386.2" y2="1011.3" stroke="#888" stroke-width="0.6"/>
<line x1="388.58" y1="1007.9" x2="388.58" y2="1011.3" stroke="#888" stroke-width="0.6"/>
<line x1="390.53" y1="1007.9" x2="390.53" y2="1011.3" stroke="#888" stroke-width="0.6"/>
<line x1="392.18" y1="1007.9" x2="392.18" y2="1011.3" stroke="#888" stroke-width="0.6"/>
<line x1="393.6" y1="1007.9" x2="393.6" y2="1011.3" stroke="#888" stroke-width="0.6"/>
<line x1="394.86" y1="1007.9" x2="394.86" y2="1011.3" stroke="#888" stroke-width="0.6"/>
<line x1="403.39" y1="1007.9" x2="403.39" y2="1011.3" stroke="#888" stroke-width="0.6"/>
<line x1="407.71" y1="1007.9" x2="407.71" y2="1011.3" stroke="#888" stroke-width="0.6"/>
<line x1="410.79" y1="1007.9" x2="410.79" y2="1011.3" stroke="#888" stroke-width="0.6"/>
<line x1="413.17" y1="1007.9" x2="413.17" y2="1011.3" stroke="#888" stroke-width="0.6"/>
<line x1="415.12" y1="1007.9" x2="415.12" y2="1011.3" stroke="#888" stroke-width="0.6"/>
<line x1="416.76" y1="1007.9" x2="416.76" y2="1011.3" stroke="#888" stroke-width="0.6"/>
<line x1="418.19" y1="1007.9" x2="418.19" y2="1011.3" stroke="#888" stroke-width="0.6"/>
<line x1="419.44" y1="1007.9" x2="419.44" y2="1011.3" stroke="#888" stroke-width="0.6"/>
<line x1="427.97" y1="1007.9" x2="427.97" y2="1011.3" stroke="#888" stroke-width="0.6"/>
<line x1="432.3" y1="1007.9" x2="432.3" y2="1011.3" stroke="#888" stroke-width="0.6"/>
<line x1="435.37" y1="1007.9" x2="435.37" y2="1011.3" stroke="#888" stroke-width="0.6"/>
<line x1="437.75" y1="1007.9" x2="437.75" y2="1011.3" stroke="#888" stroke-width="0.6"/>
<line x1="439.7" y1="1007.9" x2="439.7" y2="1011.3" stroke="#888" stroke-width="0.6"/>
<line x1="441.35" y1="1007.9" x2="441.35" y2="1011.3" stroke="#888" stroke-width="0.6"/>
<line x1="442.77" y1="1007.9" x2="442.77" y2="1011.3" stroke="#888" stroke-width="0.6"/>
<line x1="444.03" y1="1007.9" x2="444.03" y2="1011.3" stroke="#888" stroke-width="0.6"/>
<line x1="452.55" y1="1007.9" x2="452.55" y2="1011.3" stroke="#888" stroke-width="0.6"/>
<line x1="456.88" y1="1007.9" x2="456.88" y2="1011.3" stroke="#888" stroke-width="0.6"/>
<line x1="459.96" y1="1007.9" x2="459.96" y2="1011.3" stroke="#888" stroke-width="0.6"/>
<line x1="462.34" y1="1007.9" x2="462.34" y2="1011.3" stroke="#888" stroke-width="0.6"/>
<line x1="464.28" y1="1007.9" x2="464.28" y2="1011.3" stroke="#888" stroke-width="0.6"/>
<line x1="465.93" y1="1007.9" x2="465.93" y2="1011.3" stroke="#888" stroke-width="0.6"/>
<line x1="467.36" y1="1007.9" x2="467.36" y2="1011.3" stroke="#888" stroke-width="0.6"/>
<line x1="468.61" y1="1007.9" x2="468.61" y2="1011.3" stroke="#888" stroke-width="0.6"/>
<line x1="477.14" y1="1007.9" x2="477.14" y2="1011.3" stroke="#888" stroke-width="0.6"/>
<line x1="481.47" y1="1007.9" x2="481.47" y2="1011.3" stroke="#888" stroke-width="0.6"/>
<line x1="484.54" y1="1007.9" x2="484.54" y2="1011.3" stroke="#888" stroke-width="0.6"/>
<line x1="486.92" y1="1007.9" x2="486.92" y2="1011.3" stroke="#888" stroke-width="0.6"/>
<line x1="488.87" y1="1007.9" x2="488.87" y2="1011.3" stroke="#888" stroke-width="0.6"/>
<line x1="490.52" y1="1007.9" x2="490.52" y2="1011.3" stroke="#888" stroke-width="0.6"/>
<line x1="491.94" y1="1007.9" x2="491.94" y2="1011.3" stroke="#888" stroke-width="0.6"/>
<line x1="493.2" y1="1007.9" x2="493.2" y2="1011.3" stroke="#888" stroke-width="0.6"/>
<line x1="501.72" y1="1007.9" x2="501.72" y2="1011.3" stroke="#888" stroke-width="0.6"/>
<line x1="371.4" y1="899.2" x2="371.4" y2="1008.1" stroke="#5a5a5a" stroke-width="0.95"/>
<line x1="365.2" y1="1007.5" x2="504.6" y2="1007.5" stroke="#777" stroke-width="0.9"/>
<text transform="translate(387.4,1021.3) scale(1,1.0)" class="xl">10</text>
<text transform="translate(398.5,1020.2) scale(1,1.15)" class="xs">1</text>
<text transform="translate(439,1021.3) scale(1,1.0)" class="xl">10</text>
<text transform="translate(450.8,1020.2) scale(1,1.15)" class="xs">3</text>
<text transform="translate(485,1021.3) scale(1,1.0)" class="xl">10</text>
<text transform="translate(497,1020.2) scale(1,1.15)" class="xs">5</text>
<path d="M86,1122.5 L86,1122.25 L86.9,1122.25 L86.9,1122 L87.8,1122 L87.8,1121.42 L88.7,1121.42 L88.7,1121.5 L89.6,1121.5 L89.6,1120.48 L90.57,1120.48 L90.57,1118.99 L91.55,1118.99 L91.55,1116.88 L92.53,1116.88 L92.53,1115.8 L93.5,1115.8 L93.5,1112.59 L94.43,1112.59 L94.43,1109.3 L95.37,1109.3 L95.37,1106.2 L96.3,1106.2 L96.3,1098.86 L97.3,1098.86 L97.3,1090.8 L98.3,1090.8 L98.3,1081.99 L99.05,1081.99 L99.05,1071.5 L99.8,1071.5 L99.8,1052.3 L101.2,1052.3 L101.2,1043.07 L101.95,1043.07 L101.95,1036.9 L102.7,1036.9 L102.7,1025.4 L104,1025.4 L104,1017.5 L105.4,1017.5 L105.4,1027.3 L106.5,1027.3 L106.5,1038.8 L107.9,1038.8 L107.9,1042.83 L108.85,1042.83 L108.85,1050.4 L109.8,1050.4 L109.8,1057.33 L110.75,1057.33 L110.75,1061.9 L111.7,1061.9 L111.7,1067.48 L112.7,1067.48 L112.7,1073.5 L113.7,1073.5 L113.7,1080.97 L114.65,1080.97 L114.65,1086.9 L115.6,1086.9 L115.6,1091.43 L116.55,1091.43 L116.55,1098.5 L117.5,1098.5 L117.5,1102.68 L118.45,1102.68 L118.45,1107.1 L119.4,1107.1 L119.4,1108.98 L120.2,1108.98 L120.2,1110 L121,1110 L121,1115.84 L122,1115.84 L122,1122.5 L123,1122.5 L123,1122.5 L86,1122.5 Z" fill="#777777" stroke="#555" stroke-width="0.5"/>
<path d="M98,1122.5 L98,1122.17 L99.07,1122.17 L99.07,1122.27 L100.13,1122.27 L100.13,1121.5 L101.2,1121.5 L101.2,1121.64 L102.15,1121.64 L102.15,1120.29 L103.1,1120.29 L103.1,1119.95 L104.05,1119.95 L104.05,1120.52 L105,1120.52 L105,1120.06 L105.95,1120.06 L105.95,1119.63 L106.9,1119.63 L106.9,1118.79 L107.85,1118.79 L107.85,1118.7 L108.8,1118.7 L108.8,1118.16 L109.77,1118.16 L109.77,1117.46 L110.74,1117.46 L110.74,1116.73 L111.71,1116.73 L111.71,1115.34 L112.69,1115.34 L112.69,1115.08 L113.66,1115.08 L113.66,1114.31 L114.63,1114.31 L114.63,1113.8 L115.6,1113.8 L115.6,1113.02 L116.55,1113.02 L116.55,1112.36 L117.5,1112.36 L117.5,1111.1 L118.45,1111.1 L118.45,1109 L119.4,1109 L119.4,1107.89 L120.38,1107.89 L120.38,1106.48 L121.35,1106.48 L121.35,1104.88 L122.33,1104.88 L122.33,1104.2 L123.3,1104.2 L123.3,1101.5 L124.27,1101.5 L124.27,1099.84 L125.23,1099.84 L125.23,1099.4 L126.2,1099.4 L126.2,1098.11 L127.15,1098.11 L127.15,1096.53 L128.1,1096.53 L128.1,1095.48 L129.05,1095.48 L129.05,1094.6 L130,1094.6 L130,1094.72 L130.95,1094.72 L130.95,1092.77 L131.9,1092.77 L131.9,1091.92 L132.85,1091.92 L132.85,1090.8 L133.8,1090.8 L133.8,1089.07 L134.78,1089.07 L134.78,1087.47 L135.75,1087.47 L135.75,1087.36 L136.72,1087.36 L136.72,1086.9 L137.7,1086.9 L137.7,1085.09 L138.65,1085.09 L138.65,1085.48 L139.6,1085.48 L139.6,1086.24 L140.55,1086.24 L140.55,1084 L141.5,1084 L141.5,1083.59 L142.47,1083.59 L142.47,1081.11 L143.45,1081.11 L143.45,1082.39 L144.43,1082.39 L144.43,1080.2 L145.4,1080.2 L145.4,1080.18 L146.37,1080.18 L146.37,1079.02 L147.33,1079.02 L147.33,1077.3 L148.3,1077.3 L148.3,1078.62 L149.25,1078.62 L149.25,1077.3 L150.2,1077.3 L150.2,1077.66 L151.15,1077.66 L151.15,1076.3 L152.1,1076.3 L152.1,1077.75 L153.05,1077.75 L153.05,1077.3 L154,1077.3 L154,1078.78 L155,1078.78 L155,1081.2 L156,1081.2 L156,1085.52 L156.95,1085.52 L156.95,1086.9 L157.9,1086.9 L157.9,1091.12 L158.85,1091.12 L158.85,1092.7 L159.8,1092.7 L159.8,1095.66 L160.75,1095.66 L160.75,1100.4 L161.7,1100.4 L161.7,1104.19 L162.67,1104.19 L162.67,1107.27 L163.63,1107.27 L163.63,1110 L164.6,1110 L164.6,1112.49 L165.57,1112.49 L165.57,1115.18 L166.53,1115.18 L166.53,1117.7 L167.5,1117.7 L167.5,1119.29 L168.47,1119.29 L168.47,1121.38 L169.43,1121.38 L169.43,1122.5 L170.4,1122.5 L170.4,1122.5 L98,1122.5 Z" fill="#fff" stroke="#333" stroke-width="0.7"/>
<line x1="39.3" y1="1027.5" x2="45.5" y2="1027.5" stroke="#a8a8a8" stroke-width="0.9"/>
<line x1="39.3" y1="1040.5" x2="45.5" y2="1040.5" stroke="#a8a8a8" stroke-width="0.9"/>
<line x1="39.3" y1="1053.5" x2="45.5" y2="1053.5" stroke="#a8a8a8" stroke-width="0.9"/>
<line x1="39.3" y1="1066.5" x2="45.5" y2="1066.5" stroke="#a8a8a8" stroke-width="0.9"/>
<line x1="39.3" y1="1080.5" x2="45.5" y2="1080.5" stroke="#a8a8a8" stroke-width="0.9"/>
<line x1="39.3" y1="1093.5" x2="45.5" y2="1093.5" stroke="#a8a8a8" stroke-width="0.9"/>
<line x1="39.3" y1="1108.5" x2="45.5" y2="1108.5" stroke="#a8a8a8" stroke-width="0.9"/>
<line x1="45.5" y1="1122.5" x2="45.5" y2="1127.8" stroke="#777" stroke-width="0.75"/>
<line x1="69.4" y1="1122.5" x2="69.4" y2="1127.8" stroke="#777" stroke-width="0.75"/>
<line x1="93.3" y1="1122.5" x2="93.3" y2="1127.8" stroke="#777" stroke-width="0.75"/>
<line x1="117.21" y1="1122.5" x2="117.21" y2="1127.8" stroke="#777" stroke-width="0.75"/>
<line x1="141.11" y1="1122.5" x2="141.11" y2="1127.8" stroke="#777" stroke-width="0.75"/>
<line x1="165.01" y1="1122.5" x2="165.01" y2="1127.8" stroke="#777" stroke-width="0.75"/>
<line x1="52.7" y1="1122.9" x2="52.7" y2="1126.3" stroke="#888" stroke-width="0.6"/>
<line x1="56.9" y1="1122.9" x2="56.9" y2="1126.3" stroke="#888" stroke-width="0.6"/>
<line x1="59.89" y1="1122.9" x2="59.89" y2="1126.3" stroke="#888" stroke-width="0.6"/>
<line x1="62.21" y1="1122.9" x2="62.21" y2="1126.3" stroke="#888" stroke-width="0.6"/>
<line x1="64.1" y1="1122.9" x2="64.1" y2="1126.3" stroke="#888" stroke-width="0.6"/>
<line x1="65.7" y1="1122.9" x2="65.7" y2="1126.3" stroke="#888" stroke-width="0.6"/>
<line x1="67.09" y1="1122.9" x2="67.09" y2="1126.3" stroke="#888" stroke-width="0.6"/>
<line x1="68.31" y1="1122.9" x2="68.31" y2="1126.3" stroke="#888" stroke-width="0.6"/>
<line x1="76.6" y1="1122.9" x2="76.6" y2="1126.3" stroke="#888" stroke-width="0.6"/>
<line x1="80.81" y1="1122.9" x2="80.81" y2="1126.3" stroke="#888" stroke-width="0.6"/>
<line x1="83.79" y1="1122.9" x2="83.79" y2="1126.3" stroke="#888" stroke-width="0.6"/>
<line x1="86.11" y1="1122.9" x2="86.11" y2="1126.3" stroke="#888" stroke-width="0.6"/>
<line x1="88" y1="1122.9" x2="88" y2="1126.3" stroke="#888" stroke-width="0.6"/>
<line x1="89.6" y1="1122.9" x2="89.6" y2="1126.3" stroke="#888" stroke-width="0.6"/>
<line x1="90.99" y1="1122.9" x2="90.99" y2="1126.3" stroke="#888" stroke-width="0.6"/>
<line x1="92.21" y1="1122.9" x2="92.21" y2="1126.3" stroke="#888" stroke-width="0.6"/>
<line x1="100.5" y1="1122.9" x2="100.5" y2="1126.3" stroke="#888" stroke-width="0.6"/>
<line x1="104.71" y1="1122.9" x2="104.71" y2="1126.3" stroke="#888" stroke-width="0.6"/>
<line x1="107.69" y1="1122.9" x2="107.69" y2="1126.3" stroke="#888" stroke-width="0.6"/>
<line x1="110.01" y1="1122.9" x2="110.01" y2="1126.3" stroke="#888" stroke-width="0.6"/>
<line x1="111.9" y1="1122.9" x2="111.9" y2="1126.3" stroke="#888" stroke-width="0.6"/>
<line x1="113.5" y1="1122.9" x2="113.5" y2="1126.3" stroke="#888" stroke-width="0.6"/>
<line x1="114.89" y1="1122.9" x2="114.89" y2="1126.3" stroke="#888" stroke-width="0.6"/>
<line x1="116.11" y1="1122.9" x2="116.11" y2="1126.3" stroke="#888" stroke-width="0.6"/>
<line x1="124.4" y1="1122.9" x2="124.4" y2="1126.3" stroke="#888" stroke-width="0.6"/>
<line x1="128.61" y1="1122.9" x2="128.61" y2="1126.3" stroke="#888" stroke-width="0.6"/>
<line x1="131.6" y1="1122.9" x2="131.6" y2="1126.3" stroke="#888" stroke-width="0.6"/>
<line x1="133.91" y1="1122.9" x2="133.91" y2="1126.3" stroke="#888" stroke-width="0.6"/>
<line x1="135.8" y1="1122.9" x2="135.8" y2="1126.3" stroke="#888" stroke-width="0.6"/>
<line x1="137.4" y1="1122.9" x2="137.4" y2="1126.3" stroke="#888" stroke-width="0.6"/>
<line x1="138.79" y1="1122.9" x2="138.79" y2="1126.3" stroke="#888" stroke-width="0.6"/>
<line x1="140.01" y1="1122.9" x2="140.01" y2="1126.3" stroke="#888" stroke-width="0.6"/>
<line x1="148.3" y1="1122.9" x2="148.3" y2="1126.3" stroke="#888" stroke-width="0.6"/>
<line x1="152.51" y1="1122.9" x2="152.51" y2="1126.3" stroke="#888" stroke-width="0.6"/>
<line x1="155.5" y1="1122.9" x2="155.5" y2="1126.3" stroke="#888" stroke-width="0.6"/>
<line x1="157.81" y1="1122.9" x2="157.81" y2="1126.3" stroke="#888" stroke-width="0.6"/>
<line x1="159.71" y1="1122.9" x2="159.71" y2="1126.3" stroke="#888" stroke-width="0.6"/>
<line x1="161.31" y1="1122.9" x2="161.31" y2="1126.3" stroke="#888" stroke-width="0.6"/>
<line x1="162.69" y1="1122.9" x2="162.69" y2="1126.3" stroke="#888" stroke-width="0.6"/>
<line x1="163.92" y1="1122.9" x2="163.92" y2="1126.3" stroke="#888" stroke-width="0.6"/>
<line x1="172.2" y1="1122.9" x2="172.2" y2="1126.3" stroke="#888" stroke-width="0.6"/>
<line x1="45.5" y1="1017.2" x2="45.5" y2="1123.1" stroke="#5a5a5a" stroke-width="0.95"/>
<line x1="39.3" y1="1122.5" x2="175" y2="1122.5" stroke="#777" stroke-width="0.9"/>
<text transform="translate(62.4,1135.5) scale(1,1.0)" class="xl">10</text>
<text transform="translate(74,1131) scale(1,1.15)" class="xs">1</text>
<text transform="translate(112.8,1135.5) scale(1,1.0)" class="xl">10</text>
<text transform="translate(124.2,1131) scale(1,1.15)" class="xs">3</text>
<text transform="translate(160.9,1135.5) scale(1,1.0)" class="xl">10</text>
<text transform="translate(172.1,1131) scale(1,1.15)" class="xs">5</text>
<text transform="translate(32.5,1039.2) rotate(-90) scale(1,1.22)" class="yl">300</text>
<text transform="translate(32.5,1067.4) rotate(-90) scale(1,1.22)" class="yl">200</text>
<text transform="translate(32.5,1095.9) rotate(-90) scale(1,1.22)" class="yl">100</text>
<path d="M239,1123 L239,1122.4 L239.93,1122.4 L239.93,1121.44 L240.85,1121.44 L240.85,1121.58 L241.77,1121.58 L241.77,1120.6 L242.7,1120.6 L242.7,1119.25 L243.65,1119.25 L243.65,1116.84 L244.6,1116.84 L244.6,1115.49 L245.55,1115.49 L245.55,1113.8 L246.5,1113.8 L246.5,1109.87 L247.47,1109.87 L247.47,1106.45 L248.43,1106.45 L248.43,1102.3 L249.4,1102.3 L249.4,1095.32 L250.35,1095.32 L250.35,1086.9 L251.3,1086.9 L251.3,1076.07 L252.3,1076.07 L252.3,1067.7 L253.3,1067.7 L253.3,1048.5 L254.6,1048.5 L254.6,1033.1 L255.8,1033.1 L255.8,1021.5 L256.7,1021.5 L256.7,1016.5 L257.7,1016.5 L257.7,1025.4 L259,1025.4 L259,1036.9 L260.4,1036.9 L260.4,1040.9 L261.15,1040.9 L261.15,1048.5 L261.9,1048.5 L261.9,1055.45 L262.85,1055.45 L262.85,1060 L263.8,1060 L263.8,1066.53 L264.8,1066.53 L264.8,1073.5 L265.8,1073.5 L265.8,1080.03 L266.75,1080.03 L266.75,1085 L267.7,1085 L267.7,1089.44 L268.65,1089.44 L268.65,1096.5 L269.6,1096.5 L269.6,1101.23 L270.55,1101.23 L270.55,1106.2 L271.5,1106.2 L271.5,1108.54 L272.25,1108.54 L272.25,1110 L273,1110 L273,1116.09 L274,1116.09 L274,1123 L275,1123 L275,1123 L239,1123 Z" fill="#777777" stroke="#555" stroke-width="0.5"/>
<path d="M255,1123 L255,1122.52 L256,1122.52 L256,1122.51 L257,1122.51 L257,1122.06 L258,1122.06 L258,1120.55 L259,1120.55 L259,1120.6 L260,1120.6 L260,1119.57 L260.96,1119.57 L260.96,1120.08 L261.93,1120.08 L261.93,1119.47 L262.89,1119.47 L262.89,1118.9 L263.85,1118.9 L263.85,1117.87 L264.81,1117.87 L264.81,1117.84 L265.77,1117.84 L265.78,1117.36 L266.74,1117.36 L266.74,1116.7 L267.7,1116.7 L267.7,1115.5 L268.66,1115.5 L268.66,1113.4 L269.62,1113.4 L269.62,1112.55 L270.58,1112.55 L270.58,1111.13 L271.54,1111.13 L271.54,1110 L272.5,1110 L272.5,1109.02 L273.45,1109.02 L273.45,1108.19 L274.4,1108.19 L274.4,1106.67 L275.35,1106.67 L275.35,1104.2 L276.3,1104.2 L276.3,1101.74 L277.27,1101.74 L277.27,1098.93 L278.23,1098.93 L278.23,1096.5 L279.2,1096.5 L279.2,1093.3 L280.17,1093.3 L280.17,1090.05 L281.13,1090.05 L281.13,1088.8 L282.1,1088.8 L282.1,1084.85 L283.07,1084.85 L283.07,1083.63 L284.03,1083.63 L284.03,1081.2 L285,1081.2 L285,1078.68 L285.97,1078.68 L285.97,1076.94 L286.93,1076.94 L286.93,1075.4 L287.9,1075.4 L287.9,1074.79 L288.87,1074.79 L288.87,1071.62 L289.83,1071.62 L289.83,1069.6 L290.8,1069.6 L290.8,1067.41 L291.75,1067.41 L291.75,1064.8 L292.7,1064.8 L292.7,1061.94 L293.65,1061.94 L293.65,1061 L294.6,1061 L294.6,1058.23 L295.4,1058.23 L295.4,1059 L296.2,1059 L296.2,1061 L297.5,1061 L297.5,1061.76 L298.45,1061.76 L298.45,1063.8 L299.4,1063.8 L299.4,1066.37 L300.35,1066.37 L300.35,1071.5 L301.3,1071.5 L301.3,1075.4 L302.27,1075.4 L302.27,1080.84 L303.23,1080.84 L303.23,1083.1 L304.2,1083.1 L304.2,1087.45 L305.17,1087.45 L305.17,1089.86 L306.13,1089.86 L306.13,1094.6 L307.1,1094.6 L307.1,1100.1 L308.07,1100.1 L308.07,1104.3 L309.03,1104.3 L309.03,1108.1 L310,1108.1 L310,1111.76 L310.97,1111.76 L310.97,1115.22 L311.93,1115.22 L311.93,1117.7 L312.9,1117.7 L312.9,1119.83 L313.87,1119.83 L313.87,1121.57 L314.83,1121.57 L314.83,1123 L315.8,1123 L315.8,1123 L255,1123 Z" fill="#fff" stroke="#333" stroke-width="0.7"/>
<line x1="200.2" y1="1023.5" x2="206.4" y2="1023.5" stroke="#a8a8a8" stroke-width="0.9"/>
<line x1="200.2" y1="1037.5" x2="206.4" y2="1037.5" stroke="#a8a8a8" stroke-width="0.9"/>
<line x1="200.2" y1="1051.5" x2="206.4" y2="1051.5" stroke="#a8a8a8" stroke-width="0.9"/>
<line x1="200.2" y1="1066.5" x2="206.4" y2="1066.5" stroke="#a8a8a8" stroke-width="0.9"/>
<line x1="200.2" y1="1080.5" x2="206.4" y2="1080.5" stroke="#a8a8a8" stroke-width="0.9"/>
<line x1="200.2" y1="1095.5" x2="206.4" y2="1095.5" stroke="#a8a8a8" stroke-width="0.9"/>
<line x1="200.2" y1="1109.5" x2="206.4" y2="1109.5" stroke="#a8a8a8" stroke-width="0.9"/>
<line x1="206.4" y1="1123" x2="206.4" y2="1128.3" stroke="#777" stroke-width="0.75"/>
<line x1="230.98" y1="1123" x2="230.98" y2="1128.3" stroke="#777" stroke-width="0.75"/>
<line x1="255.57" y1="1123" x2="255.57" y2="1128.3" stroke="#777" stroke-width="0.75"/>
<line x1="280.15" y1="1123" x2="280.15" y2="1128.3" stroke="#777" stroke-width="0.75"/>
<line x1="304.74" y1="1123" x2="304.74" y2="1128.3" stroke="#777" stroke-width="0.75"/>
<line x1="329.32" y1="1123" x2="329.32" y2="1128.3" stroke="#777" stroke-width="0.75"/>
<line x1="213.8" y1="1123.4" x2="213.8" y2="1126.8" stroke="#888" stroke-width="0.6"/>
<line x1="218.13" y1="1123.4" x2="218.13" y2="1126.8" stroke="#888" stroke-width="0.6"/>
<line x1="221.2" y1="1123.4" x2="221.2" y2="1126.8" stroke="#888" stroke-width="0.6"/>
<line x1="223.58" y1="1123.4" x2="223.58" y2="1126.8" stroke="#888" stroke-width="0.6"/>
<line x1="225.53" y1="1123.4" x2="225.53" y2="1126.8" stroke="#888" stroke-width="0.6"/>
<line x1="227.18" y1="1123.4" x2="227.18" y2="1126.8" stroke="#888" stroke-width="0.6"/>
<line x1="228.6" y1="1123.4" x2="228.6" y2="1126.8" stroke="#888" stroke-width="0.6"/>
<line x1="229.86" y1="1123.4" x2="229.86" y2="1126.8" stroke="#888" stroke-width="0.6"/>
<line x1="238.39" y1="1123.4" x2="238.39" y2="1126.8" stroke="#888" stroke-width="0.6"/>
<line x1="242.71" y1="1123.4" x2="242.71" y2="1126.8" stroke="#888" stroke-width="0.6"/>
<line x1="245.79" y1="1123.4" x2="245.79" y2="1126.8" stroke="#888" stroke-width="0.6"/>
<line x1="248.17" y1="1123.4" x2="248.17" y2="1126.8" stroke="#888" stroke-width="0.6"/>
<line x1="250.12" y1="1123.4" x2="250.12" y2="1126.8" stroke="#888" stroke-width="0.6"/>
<line x1="251.76" y1="1123.4" x2="251.76" y2="1126.8" stroke="#888" stroke-width="0.6"/>
<line x1="253.19" y1="1123.4" x2="253.19" y2="1126.8" stroke="#888" stroke-width="0.6"/>
<line x1="254.44" y1="1123.4" x2="254.44" y2="1126.8" stroke="#888" stroke-width="0.6"/>
<line x1="262.97" y1="1123.4" x2="262.97" y2="1126.8" stroke="#888" stroke-width="0.6"/>
<line x1="267.3" y1="1123.4" x2="267.3" y2="1126.8" stroke="#888" stroke-width="0.6"/>
<line x1="270.37" y1="1123.4" x2="270.37" y2="1126.8" stroke="#888" stroke-width="0.6"/>
<line x1="272.75" y1="1123.4" x2="272.75" y2="1126.8" stroke="#888" stroke-width="0.6"/>
<line x1="274.7" y1="1123.4" x2="274.7" y2="1126.8" stroke="#888" stroke-width="0.6"/>
<line x1="276.35" y1="1123.4" x2="276.35" y2="1126.8" stroke="#888" stroke-width="0.6"/>
<line x1="277.77" y1="1123.4" x2="277.77" y2="1126.8" stroke="#888" stroke-width="0.6"/>
<line x1="279.03" y1="1123.4" x2="279.03" y2="1126.8" stroke="#888" stroke-width="0.6"/>
<line x1="287.55" y1="1123.4" x2="287.55" y2="1126.8" stroke="#888" stroke-width="0.6"/>
<line x1="291.88" y1="1123.4" x2="291.88" y2="1126.8" stroke="#888" stroke-width="0.6"/>
<line x1="294.96" y1="1123.4" x2="294.96" y2="1126.8" stroke="#888" stroke-width="0.6"/>
<line x1="297.34" y1="1123.4" x2="297.34" y2="1126.8" stroke="#888" stroke-width="0.6"/>
<line x1="299.28" y1="1123.4" x2="299.28" y2="1126.8" stroke="#888" stroke-width="0.6"/>
<line x1="300.93" y1="1123.4" x2="300.93" y2="1126.8" stroke="#888" stroke-width="0.6"/>
<line x1="302.36" y1="1123.4" x2="302.36" y2="1126.8" stroke="#888" stroke-width="0.6"/>
<line x1="303.61" y1="1123.4" x2="303.61" y2="1126.8" stroke="#888" stroke-width="0.6"/>
<line x1="312.14" y1="1123.4" x2="312.14" y2="1126.8" stroke="#888" stroke-width="0.6"/>
<line x1="316.47" y1="1123.4" x2="316.47" y2="1126.8" stroke="#888" stroke-width="0.6"/>
<line x1="319.54" y1="1123.4" x2="319.54" y2="1126.8" stroke="#888" stroke-width="0.6"/>
<line x1="321.92" y1="1123.4" x2="321.92" y2="1126.8" stroke="#888" stroke-width="0.6"/>
<line x1="323.87" y1="1123.4" x2="323.87" y2="1126.8" stroke="#888" stroke-width="0.6"/>
<line x1="325.52" y1="1123.4" x2="325.52" y2="1126.8" stroke="#888" stroke-width="0.6"/>
<line x1="326.94" y1="1123.4" x2="326.94" y2="1126.8" stroke="#888" stroke-width="0.6"/>
<line x1="328.2" y1="1123.4" x2="328.2" y2="1126.8" stroke="#888" stroke-width="0.6"/>
<line x1="336.72" y1="1123.4" x2="336.72" y2="1126.8" stroke="#888" stroke-width="0.6"/>
<line x1="206.4" y1="1015.4" x2="206.4" y2="1123.6" stroke="#5a5a5a" stroke-width="0.95"/>
<line x1="200.2" y1="1123" x2="339.6" y2="1123" stroke="#777" stroke-width="0.9"/>
<text transform="translate(224.3,1137.1) scale(1,1.0)" class="xl">10</text>
<text transform="translate(234.4,1136) scale(1,1.15)" class="xs">1</text>
<text transform="translate(274.7,1137.1) scale(1,1.0)" class="xl">10</text>
<text transform="translate(286,1136) scale(1,1.15)" class="xs">3</text>
<text transform="translate(322.7,1137.1) scale(1,1.0)" class="xl">10</text>
<text transform="translate(332.8,1136) scale(1,1.15)" class="xs">5</text>
<path d="M418,1123 L418,1121.86 L419.07,1121.86 L419.07,1121.77 L420.13,1121.77 L420.13,1120.6 L421.2,1120.6 L421.2,1119.25 L422.15,1119.25 L422.15,1116.84 L423.1,1116.84 L423.1,1115.49 L424.05,1115.49 L424.05,1113.8 L425,1113.8 L425,1109.87 L425.97,1109.87 L425.97,1106.45 L426.93,1106.45 L426.93,1102.3 L427.9,1102.3 L427.9,1095.32 L428.85,1095.32 L428.85,1086.9 L429.8,1086.9 L429.8,1067.7 L431.2,1067.7 L431.2,1056.69 L431.95,1056.69 L431.95,1048.5 L432.7,1048.5 L432.7,1038.99 L433.45,1038.99 L433.45,1033.1 L434.2,1033.1 L434.2,1023.5 L435.6,1023.5 L435.6,1017.5 L436.9,1017.5 L436.9,1023.81 L437.7,1023.81 L437.7,1027.3 L438.5,1027.3 L438.5,1038.8 L439.8,1038.8 L439.8,1048.5 L441,1048.5 L441,1058.1 L442.3,1058.1 L442.3,1061.72 L443.05,1061.72 L443.05,1065.8 L443.8,1065.8 L443.8,1073.5 L445.2,1073.5 L445.2,1080 L446.5,1080 L446.5,1102.09 L447.25,1102.09 L447.25,1123 L448,1123 L448,1123 L418,1123 Z" fill="#777777" stroke="#555" stroke-width="0.5"/>
<path d="M424,1123 L424,1122.4 L424.97,1122.4 L424.97,1122.29 L425.93,1122.29 L425.93,1121.2 L426.9,1121.2 L426.9,1121.33 L427.87,1121.33 L427.87,1119.8 L428.83,1119.8 L428.83,1119.4 L429.8,1119.4 L429.8,1119.99 L430.77,1119.99 L430.77,1119.45 L431.73,1119.45 L431.73,1118.7 L432.7,1118.7 L432.7,1117.74 L433.65,1117.74 L433.65,1115.93 L434.6,1115.93 L434.6,1115.21 L435.55,1115.21 L435.55,1113.8 L436.5,1113.8 L436.5,1111.48 L437.47,1111.48 L437.47,1108.9 L438.43,1108.9 L438.43,1106.2 L439.4,1106.2 L439.4,1102.15 L440.37,1102.15 L440.37,1099.56 L441.33,1099.56 L441.33,1096.5 L442.3,1096.5 L442.3,1091.4 L443.25,1091.4 L443.25,1086.9 L444.2,1086.9 L444.2,1080 L445,1080 L445,1075.4 L445.8,1075.4 L445.8,1075.2 L446.95,1075.2 L446.95,1073.5 L448.1,1073.5 L448.1,1074.51 L449.07,1074.51 L449.07,1073.7 L450.03,1073.7 L450.03,1071.5 L451,1071.5 L451,1070.39 L451.93,1070.39 L451.93,1068.77 L452.87,1068.77 L452.87,1067.7 L453.8,1067.7 L453.8,1065.57 L454.77,1065.57 L454.77,1063.43 L455.73,1063.43 L455.73,1063.8 L456.7,1063.8 L456.7,1061.12 L457.7,1061.12 L457.7,1061.9 L458.7,1061.9 L458.7,1063.72 L459.65,1063.72 L459.65,1065.8 L460.6,1065.8 L460.6,1068.01 L461.55,1068.01 L461.55,1071.5 L462.5,1071.5 L462.5,1074.95 L463.45,1074.95 L463.45,1079.2 L464.4,1079.2 L464.4,1084.26 L465.35,1084.26 L465.35,1086.9 L466.3,1086.9 L466.3,1090.84 L467.27,1090.84 L467.27,1094.8 L468.23,1094.8 L468.23,1098.5 L469.2,1098.5 L469.2,1101.06 L470.17,1101.06 L470.17,1103.81 L471.13,1103.81 L471.13,1108.1 L472.1,1108.1 L472.1,1110.32 L473.07,1110.32 L473.07,1112.56 L474.03,1112.56 L474.03,1115.8 L475,1115.8 L475,1117.02 L475.95,1117.02 L475.95,1118.95 L476.9,1118.95 L476.9,1119.64 L477.85,1119.64 L477.85,1120.6 L478.8,1120.6 L478.8,1120.83 L479.77,1120.83 L479.77,1122.22 L480.75,1122.22 L480.75,1122.4 L481.73,1122.4 L481.73,1123 L482.7,1123 L482.7,1123 L424,1123 Z" fill="#fff" stroke="#333" stroke-width="0.7"/>
<line x1="365.2" y1="1023.5" x2="371.4" y2="1023.5" stroke="#a8a8a8" stroke-width="0.9"/>
<line x1="365.2" y1="1037.5" x2="371.4" y2="1037.5" stroke="#a8a8a8" stroke-width="0.9"/>
<line x1="365.2" y1="1051.5" x2="371.4" y2="1051.5" stroke="#a8a8a8" stroke-width="0.9"/>
<line x1="365.2" y1="1066.5" x2="371.4" y2="1066.5" stroke="#a8a8a8" stroke-width="0.9"/>
<line x1="365.2" y1="1080.5" x2="371.4" y2="1080.5" stroke="#a8a8a8" stroke-width="0.9"/>
<line x1="365.2" y1="1095.5" x2="371.4" y2="1095.5" stroke="#a8a8a8" stroke-width="0.9"/>
<line x1="365.2" y1="1109.5" x2="371.4" y2="1109.5" stroke="#a8a8a8" stroke-width="0.9"/>
<line x1="371.4" y1="1123" x2="371.4" y2="1128.3" stroke="#777" stroke-width="0.75"/>
<line x1="397.13" y1="1123" x2="397.13" y2="1128.3" stroke="#777" stroke-width="0.75"/>
<line x1="422.86" y1="1123" x2="422.86" y2="1128.3" stroke="#777" stroke-width="0.75"/>
<line x1="448.59" y1="1123" x2="448.59" y2="1128.3" stroke="#777" stroke-width="0.75"/>
<line x1="474.32" y1="1123" x2="474.32" y2="1128.3" stroke="#777" stroke-width="0.75"/>
<line x1="500.05" y1="1123" x2="500.05" y2="1128.3" stroke="#777" stroke-width="0.75"/>
<line x1="379.15" y1="1123.4" x2="379.15" y2="1126.8" stroke="#888" stroke-width="0.6"/>
<line x1="383.68" y1="1123.4" x2="383.68" y2="1126.8" stroke="#888" stroke-width="0.6"/>
<line x1="386.89" y1="1123.4" x2="386.89" y2="1126.8" stroke="#888" stroke-width="0.6"/>
<line x1="389.38" y1="1123.4" x2="389.38" y2="1126.8" stroke="#888" stroke-width="0.6"/>
<line x1="391.42" y1="1123.4" x2="391.42" y2="1126.8" stroke="#888" stroke-width="0.6"/>
<line x1="393.14" y1="1123.4" x2="393.14" y2="1126.8" stroke="#888" stroke-width="0.6"/>
<line x1="394.64" y1="1123.4" x2="394.64" y2="1126.8" stroke="#888" stroke-width="0.6"/>
<line x1="395.95" y1="1123.4" x2="395.95" y2="1126.8" stroke="#888" stroke-width="0.6"/>
<line x1="404.87" y1="1123.4" x2="404.87" y2="1126.8" stroke="#888" stroke-width="0.6"/>
<line x1="409.4" y1="1123.4" x2="409.4" y2="1126.8" stroke="#888" stroke-width="0.6"/>
<line x1="412.62" y1="1123.4" x2="412.62" y2="1126.8" stroke="#888" stroke-width="0.6"/>
<line x1="415.11" y1="1123.4" x2="415.11" y2="1126.8" stroke="#888" stroke-width="0.6"/>
<line x1="417.15" y1="1123.4" x2="417.15" y2="1126.8" stroke="#888" stroke-width="0.6"/>
<line x1="418.87" y1="1123.4" x2="418.87" y2="1126.8" stroke="#888" stroke-width="0.6"/>
<line x1="420.36" y1="1123.4" x2="420.36" y2="1126.8" stroke="#888" stroke-width="0.6"/>
<line x1="421.68" y1="1123.4" x2="421.68" y2="1126.8" stroke="#888" stroke-width="0.6"/>
<line x1="430.6" y1="1123.4" x2="430.6" y2="1126.8" stroke="#888" stroke-width="0.6"/>
<line x1="435.13" y1="1123.4" x2="435.13" y2="1126.8" stroke="#888" stroke-width="0.6"/>
<line x1="438.35" y1="1123.4" x2="438.35" y2="1126.8" stroke="#888" stroke-width="0.6"/>
<line x1="440.84" y1="1123.4" x2="440.84" y2="1126.8" stroke="#888" stroke-width="0.6"/>
<line x1="442.88" y1="1123.4" x2="442.88" y2="1126.8" stroke="#888" stroke-width="0.6"/>
<line x1="444.6" y1="1123.4" x2="444.6" y2="1126.8" stroke="#888" stroke-width="0.6"/>
<line x1="446.09" y1="1123.4" x2="446.09" y2="1126.8" stroke="#888" stroke-width="0.6"/>
<line x1="447.41" y1="1123.4" x2="447.41" y2="1126.8" stroke="#888" stroke-width="0.6"/>
<line x1="456.33" y1="1123.4" x2="456.33" y2="1126.8" stroke="#888" stroke-width="0.6"/>
<line x1="460.86" y1="1123.4" x2="460.86" y2="1126.8" stroke="#888" stroke-width="0.6"/>
<line x1="464.08" y1="1123.4" x2="464.08" y2="1126.8" stroke="#888" stroke-width="0.6"/>
<line x1="466.57" y1="1123.4" x2="466.57" y2="1126.8" stroke="#888" stroke-width="0.6"/>
<line x1="468.61" y1="1123.4" x2="468.61" y2="1126.8" stroke="#888" stroke-width="0.6"/>
<line x1="470.33" y1="1123.4" x2="470.33" y2="1126.8" stroke="#888" stroke-width="0.6"/>
<line x1="471.82" y1="1123.4" x2="471.82" y2="1126.8" stroke="#888" stroke-width="0.6"/>
<line x1="473.14" y1="1123.4" x2="473.14" y2="1126.8" stroke="#888" stroke-width="0.6"/>
<line x1="482.06" y1="1123.4" x2="482.06" y2="1126.8" stroke="#888" stroke-width="0.6"/>
<line x1="486.59" y1="1123.4" x2="486.59" y2="1126.8" stroke="#888" stroke-width="0.6"/>
<line x1="489.81" y1="1123.4" x2="489.81" y2="1126.8" stroke="#888" stroke-width="0.6"/>
<line x1="492.3" y1="1123.4" x2="492.3" y2="1126.8" stroke="#888" stroke-width="0.6"/>
<line x1="494.34" y1="1123.4" x2="494.34" y2="1126.8" stroke="#888" stroke-width="0.6"/>
<line x1="496.06" y1="1123.4" x2="496.06" y2="1126.8" stroke="#888" stroke-width="0.6"/>
<line x1="497.55" y1="1123.4" x2="497.55" y2="1126.8" stroke="#888" stroke-width="0.6"/>
<line x1="498.87" y1="1123.4" x2="498.87" y2="1126.8" stroke="#888" stroke-width="0.6"/>
<line x1="507.79" y1="1123.4" x2="507.79" y2="1126.8" stroke="#888" stroke-width="0.6"/>
<line x1="371.4" y1="1015.4" x2="371.4" y2="1123.6" stroke="#5a5a5a" stroke-width="0.95"/>
<line x1="365.2" y1="1123" x2="510.8" y2="1123" stroke="#777" stroke-width="0.9"/>
<text transform="translate(389.7,1136.8) scale(1,1.0)" class="xl">10</text>
<text transform="translate(400,1135.7) scale(1,1.15)" class="xs">1</text>
<text transform="translate(447.3,1136.8) scale(1,1.0)" class="xl">10</text>
<text transform="translate(459,1135.7) scale(1,1.15)" class="xs">3</text>
<text transform="translate(498.8,1136.8) scale(1,1.0)" class="xl">10</text>
<text transform="translate(509.2,1135.7) scale(1,1.15)" class="xs">5</text>
<text transform="translate(0.3,14.8) scale(1.0,1.0)" class="lt">A</text>
<text transform="translate(0.8,187.4) scale(1.0,1.0)" class="lt">B</text>
<text transform="translate(0.8,620.4) scale(1.0,1.0)" class="lt">C</text>
<text transform="translate(53,147.3) scale(1.0,1.04)" class="lb">GA</text>
<line x1="94" y1="140.5" x2="135.9" y2="140.5" stroke="#000" stroke-width="2.6"/><polygon points="134.9,136.1 143.5,140.5 134.9,144.9" fill="#000"/>
<text transform="translate(220.2,147.5) scale(1.0,1.04)" class="lb">GG</text>
<line x1="259" y1="144.6" x2="301.5" y2="144.6" stroke="#000" stroke-width="2.6"/><polygon points="300.5,140.2 309.1,144.6 300.5,149.0" fill="#000"/>
<text transform="translate(384.4,147.3) scale(1.0,1.04)" class="lb">G6</text>
<line x1="424" y1="144.1" x2="466.4" y2="144.1" stroke="#000" stroke-width="2.6"/><polygon points="465.4,139.7 474,144.1 465.4,148.5" fill="#000"/>
<text transform="translate(131.6,196.8) scale(1.0,1.04)" class="hd">0.625µg/mL</text>
<text transform="translate(289.5,196.6) scale(1.0,1.04)" class="hd">2.5µg/mL</text>
<text transform="translate(441,196.3) scale(1.0,1.04)" class="hd">10µg/mL</text>
<text transform="translate(20,243.8) rotate(-90) scale(1.0,1.04)" class="hd">GA</text>
<text transform="translate(20.4,360.3) rotate(-90) scale(1.0,1.04)" class="hd">GG</text>
<text transform="translate(20,486) rotate(-90) scale(1.0,1.04)" class="hd">G6</text>
<text transform="translate(55.6,241.7) scale(1.0,1.07)" class="big">MFI=47,851</text>
<text transform="translate(220.8,241.2) scale(1.0,1.07)" class="big">MFI=26,283</text>
<text transform="translate(386.7,240.7) scale(1.0,1.07)" class="big">MFI=5,423</text>
<text transform="translate(55.4,351.5) scale(1.0,1.07)" class="big">MFI=37,814</text>
<text transform="translate(220.8,351.5) scale(1.0,1.07)" class="big">MFI=21,899</text>
<text transform="translate(386.5,350.5) scale(1.0,1.07)" class="big">MFI=4,812</text>
<text transform="translate(55.4,475.6) scale(1.0,1.07)" class="big">MFI=48,244</text>
<text transform="translate(220.8,474.8) scale(1.0,1.07)" class="big">MFI=30,187</text>
<text transform="translate(386.3,474.6) scale(1.0,1.07)" class="big">MFI=6,028</text>
<text transform="translate(54.5,574.6) scale(1.0,1.04)" class="lb">G6</text>
<line x1="94" y1="568.6" x2="252.4" y2="568.6" stroke="#000" stroke-width="2.6"/><polygon points="251.4,564.2 260,568.6 251.4,573.0" fill="#000"/>
<text transform="translate(154.5,619.4) scale(1.0,1.04)" class="hd">100µg/mL</text>
<text transform="translate(361.4,619.4) scale(1.0,1.04)" class="hd">100µg/mL</text>
<text transform="translate(74.9,681.9) rotate(-90) scale(0.96,0.9984)" class="hd">huIgG1</text>
<text transform="translate(286.9,675.8) rotate(-90) scale(0.98,1.0192)" class="hd">muIgG2a</text>
<text transform="translate(180.7,668.6) scale(1.0,1.07)" class="big">MFI=14,646</text>
<text transform="translate(386.4,668.3) scale(1.0,1.07)" class="big">MFI=15,330</text>
<text transform="translate(111.2,771.2) scale(1.0,1.04)" class="hd">0.8µg/mL</text>
<text transform="translate(275.3,770.5) scale(1.0,1.04)" class="hd">20µg/mL</text>
<text transform="translate(443.6,771.1) scale(1.0,1.04)" class="hd">100µg/mL</text>
<text transform="translate(19.6,836.5) rotate(-90) scale(0.95,0.95)" class="hd">GA</text>
<text transform="translate(19.2,954.2) rotate(-90) scale(0.95,0.95)" class="hd">GG</text>
<text transform="translate(18.7,1066.5) rotate(-90) scale(0.95,0.95)" class="hd">G6</text>
<text transform="translate(113.8,821.2) scale(1.0,1.07)" class="big">MFI=18,218</text>
<text transform="translate(289.5,819.8) scale(1.0,1.07)" class="big">MFI=6,734</text>
<text transform="translate(441.8,822.3) scale(1.0,1.07)" class="big">MFI=5,461</text>
<text transform="translate(113.3,946.2) scale(1.0,1.07)" class="big">MFI=14,212</text>
<text transform="translate(289.9,946.4) scale(1.0,1.07)" class="big">MFI=5,985</text>
<text transform="translate(447.5,945.8) scale(1.0,1.07)" class="big">MFI=2,800</text>
<text transform="translate(125.5,1057.0) scale(1.0,1.07)" class="big">MFI=15,557</text>
<text transform="translate(276.4,1056.5) scale(1.0,1.07)" class="big">MFI=5,641</text>
<text transform="translate(441.4,1059.7) scale(1.0,1.07)" class="big">MFI=2,760</text>
<text transform="translate(52.1,1156.7) scale(1.0,1.04)" class="lb">CD137L-muCD8 fusion protein</text>
<line x1="273.5" y1="1151.2" x2="431.2" y2="1151.2" stroke="#000" stroke-width="2.6"/><polygon points="430.2,1146.8 438.8,1151.2 430.2,1155.6000000000001" fill="#000"/>
</svg>
</body></html>
